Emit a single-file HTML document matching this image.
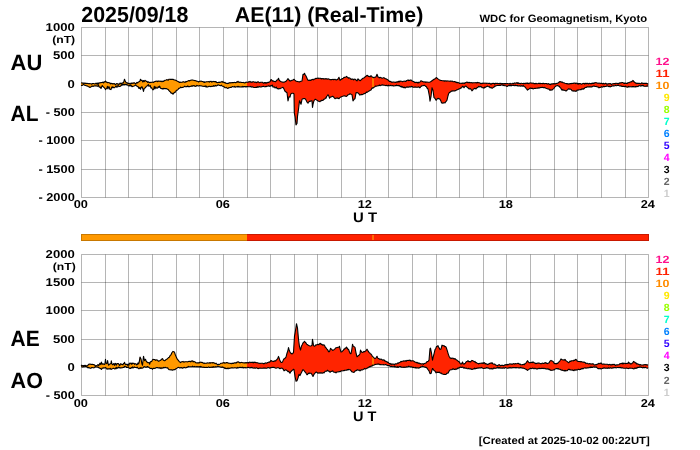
<!DOCTYPE html><html><head><meta charset="utf-8"><style>html,body{margin:0;padding:0;width:700px;height:450px;overflow:hidden;background:#fff}</style></head><body><svg width="700" height="450" viewBox="0 0 700 450" style="position:absolute;left:0;top:0;will-change:transform;text-rendering:geometricPrecision;font-family:'Liberation Sans', sans-serif;font-weight:bold"><rect width="700" height="450" fill="#fff"/><path d="M105.5 27.5V197.5M128.5 27.5V197.5M152.5 27.5V197.5M176.5 27.5V197.5M199.5 27.5V197.5M223.5 27.5V197.5M247.5 27.5V197.5M270.5 27.5V197.5M294.5 27.5V197.5M317.5 27.5V197.5M341.5 27.5V197.5M365.5 27.5V197.5M388.5 27.5V197.5M412.5 27.5V197.5M436.5 27.5V197.5M459.5 27.5V197.5M483.5 27.5V197.5M506.5 27.5V197.5M530.5 27.5V197.5M554.5 27.5V197.5M577.5 27.5V197.5M601.5 27.5V197.5M625.5 27.5V197.5" stroke="#000" stroke-opacity="0.29" stroke-width="1" fill="none"/><path d="M81.5 55.5H648.5M81.5 84.5H648.5M81.5 112.5H648.5M81.5 140.5H648.5M81.5 169.5H648.5" stroke="#000" stroke-opacity="0.29" stroke-width="1" fill="none"/><path d="M81.5 27.5V197.5M648.5 27.5V197.5" stroke="#000" stroke-opacity="0.29" stroke-width="1" fill="none"/><path d="M81.5 27.5H648.5M81.5 197.5H648.5" stroke="#000" stroke-opacity="0.29" stroke-width="1" fill="none"/><path d="M105.5 254.5V395.5M128.5 254.5V395.5M152.5 254.5V395.5M176.5 254.5V395.5M199.5 254.5V395.5M223.5 254.5V395.5M247.5 254.5V395.5M270.5 254.5V395.5M294.5 254.5V395.5M317.5 254.5V395.5M341.5 254.5V395.5M365.5 254.5V395.5M388.5 254.5V395.5M412.5 254.5V395.5M436.5 254.5V395.5M459.5 254.5V395.5M483.5 254.5V395.5M506.5 254.5V395.5M530.5 254.5V395.5M554.5 254.5V395.5M577.5 254.5V395.5M601.5 254.5V395.5M625.5 254.5V395.5" stroke="#000" stroke-opacity="0.29" stroke-width="1" fill="none"/><path d="M81.5 282.5H648.5M81.5 310.5H648.5M81.5 339.5H648.5M81.5 367.5H648.5" stroke="#000" stroke-opacity="0.29" stroke-width="1" fill="none"/><path d="M81.5 254.5V395.5M648.5 254.5V395.5" stroke="#000" stroke-opacity="0.29" stroke-width="1" fill="none"/><path d="M81.5 254.5H648.5M81.5 395.5H648.5" stroke="#000" stroke-opacity="0.29" stroke-width="1" fill="none"/><clipPath id="ot"><rect x="0" y="0" width="247" height="450"/><rect x="372.3" y="0" width="1.4" height="450"/></clipPath><path d="M81.0,82.8 81.7,83.0 82.3,82.9 83.0,83.4 83.7,83.0 84.3,83.4 85.0,83.1 85.6,83.4 86.2,83.3 86.8,83.6 87.4,83.4 88.0,83.5 88.7,83.8 89.3,83.6 90.0,83.7 90.6,83.7 91.2,83.8 91.8,84.2 92.4,83.6 93.0,83.5 93.6,83.5 94.2,83.7 94.8,84.0 95.4,83.8 96.0,83.1 96.6,83.4 97.2,84.4 97.8,82.9 98.4,84.1 99.0,82.8 99.7,83.0 100.3,82.7 101.0,82.6 101.7,82.5 102.3,82.5 103.0,82.1 103.6,82.9 104.2,81.7 104.9,81.9 105.5,81.0 106.1,82.1 106.8,82.0 107.4,82.7 108.0,82.4 108.6,82.6 109.2,82.7 109.8,83.0 110.4,83.8 111.0,83.1 111.6,83.6 112.2,83.5 112.8,84.0 113.4,83.9 114.0,83.5 114.6,83.7 115.2,84.6 115.8,84.4 116.4,83.7 117.0,83.5 117.6,84.1 118.2,83.9 118.8,84.5 119.4,84.1 120.0,83.1 120.6,83.3 121.2,84.3 121.8,83.0 122.4,83.2 123.0,82.8 123.8,82.0 124.5,79.2 125.2,80.9 126.0,82.4 126.6,82.9 127.2,82.7 127.8,83.5 128.4,83.8 129.0,83.1 129.6,83.6 130.2,84.2 130.8,83.2 131.4,83.7 132.0,82.8 132.7,83.4 133.3,83.3 134.0,82.6 134.6,83.0 135.2,83.7 135.8,83.9 136.4,82.9 137.0,82.4 137.7,83.0 138.3,82.0 139.0,81.7 139.8,81.3 140.5,79.2 141.2,80.5 142.0,80.3 142.8,81.9 143.5,80.6 144.2,81.6 145.0,80.3 145.7,80.9 146.3,81.4 147.0,81.4 147.7,82.5 148.3,81.9 149.0,82.1 149.7,82.7 150.3,82.4 151.0,82.4 151.7,82.3 152.3,82.2 153.0,82.1 153.7,82.4 154.3,81.7 155.0,81.4 155.7,81.4 156.3,81.3 157.0,81.0 157.7,81.7 158.3,81.1 159.0,81.1 159.7,81.3 160.3,81.4 161.0,81.0 161.7,81.7 162.3,81.6 163.0,81.0 163.7,81.4 164.3,80.7 165.0,80.3 165.7,80.3 166.3,80.0 167.0,79.6 167.7,80.1 168.3,80.1 169.0,79.2 169.7,79.3 170.3,79.4 171.0,79.4 171.7,79.4 172.3,79.4 173.0,79.2 173.7,79.7 174.3,80.0 175.0,79.9 175.7,80.4 176.3,80.6 177.0,81.0 177.6,81.4 178.2,81.6 178.8,81.9 179.4,82.5 180.0,82.0 180.6,82.4 181.2,82.2 181.8,82.2 182.4,82.2 183.0,81.7 183.6,81.7 184.2,82.3 184.8,82.1 185.4,82.1 186.0,81.4 186.6,81.8 187.2,81.3 187.8,81.1 188.4,80.8 189.0,80.6 189.6,80.9 190.2,80.3 190.8,80.2 191.4,80.1 192.0,79.9 192.6,80.1 193.2,80.3 193.8,80.3 194.4,80.5 195.0,80.6 195.6,80.8 196.2,80.9 196.8,81.3 197.4,81.2 198.0,81.4 198.6,82.0 199.2,81.6 199.8,81.2 200.4,81.2 201.0,81.0 201.6,81.3 202.2,81.5 202.8,81.5 203.4,82.2 204.0,81.7 204.6,82.5 205.2,82.0 205.8,82.0 206.4,81.7 207.0,81.7 207.6,81.7 208.2,81.7 208.8,81.6 209.4,82.1 210.0,81.4 210.6,81.5 211.2,81.4 211.8,82.1 212.4,81.7 213.0,81.4 213.6,81.5 214.2,81.8 214.8,81.5 215.4,81.9 216.0,81.6 216.6,82.5 217.2,82.6 217.8,82.5 218.4,82.3 219.0,82.4 219.6,82.4 220.2,82.1 220.8,82.3 221.4,81.9 222.0,81.4 222.6,82.2 223.2,82.0 223.8,82.1 224.4,82.8 225.0,82.4 225.6,83.3 226.2,83.3 226.8,83.4 227.4,83.6 228.0,83.1 228.7,83.4 229.3,82.9 230.0,82.6 230.7,82.9 231.3,82.7 232.0,82.6 232.7,82.5 233.3,82.6 234.0,82.5 234.7,82.4 235.3,82.6 236.0,82.6 236.7,81.9 237.3,82.2 238.0,81.3 238.7,82.3 239.3,82.4 240.0,82.1 240.7,82.2 241.3,82.4 242.0,82.5 242.7,82.5 243.3,82.4 244.0,82.7 244.7,82.9 245.3,82.8 246.0,82.1 246.7,82.2 247.3,82.3 248.0,82.3 248.7,81.7 249.3,81.9 250.0,81.4 250.7,82.2 251.3,82.1 252.0,82.1 252.7,81.9 253.3,81.8 254.0,81.8 254.7,82.4 255.3,82.0 256.0,82.4 256.7,82.6 257.3,82.0 258.0,81.8 258.7,82.1 259.3,82.7 260.0,82.5 260.7,82.2 261.3,82.3 262.0,82.3 262.7,82.4 263.3,83.1 264.0,83.0 264.7,82.5 265.3,83.1 266.0,82.5 266.7,83.2 267.3,82.7 268.0,82.3 268.7,82.4 269.3,82.0 270.0,81.8 271.0,79.6 271.7,80.0 272.3,81.1 273.0,80.7 273.7,81.4 274.3,81.5 275.0,81.4 275.7,81.7 276.3,80.7 277.0,80.0 277.8,79.8 278.5,78.2 279.2,80.2 280.0,81.0 280.7,81.4 281.3,81.8 282.0,82.0 283.0,82.1 284.0,82.3 285.0,81.8 286.0,81.3 287.0,80.0 288.0,78.7 289.0,80.0 290.0,81.0 290.7,80.9 291.3,80.6 292.0,80.3 292.7,80.3 293.3,79.7 294.0,79.3 294.3,79.5 295.1,80.5 296.0,81.0 297.0,81.4 297.5,81.5 298.5,81.8 299.5,81.9 300.2,81.6 301.0,81.3 302.0,81.0 303.0,74.3 303.8,74.5 304.5,73.3 305.2,74.8 306.0,76.0 307.0,78.3 308.0,80.3 308.7,80.4 309.3,80.5 310.0,80.0 310.7,80.5 311.3,79.9 312.0,79.5 312.5,79.4 313.2,79.9 314.0,79.0 314.7,79.1 315.3,78.8 316.0,78.3 316.7,78.5 317.3,78.2 318.0,78.1 318.7,78.4 319.3,78.3 320.0,78.3 320.6,78.3 321.2,79.0 321.8,78.5 322.4,78.7 323.0,78.5 323.6,79.0 324.2,78.9 324.8,78.7 325.4,78.9 326.0,78.6 326.7,79.0 327.3,79.2 328.0,78.7 328.8,79.0 329.5,79.2 330.2,79.7 331.0,79.6 331.7,79.6 332.3,79.5 333.0,79.3 333.7,79.8 334.3,79.6 335.0,79.3 335.7,79.7 336.3,80.0 337.0,79.6 337.7,79.5 338.3,78.3 339.0,77.3 340.0,80.4 341.0,79.5 342.0,78.7 342.7,78.6 343.3,78.1 344.0,77.3 344.6,77.4 345.2,77.3 345.9,76.9 346.5,76.4 347.1,77.1 347.8,77.4 348.4,78.2 349.0,77.8 350.0,78.2 350.7,79.0 351.3,79.5 352.0,79.1 353.0,79.1 353.7,79.8 354.3,79.2 355.0,79.1 356.0,80.0 357.0,80.9 358.0,78.7 358.8,79.8 359.5,80.3 360.1,80.7 360.8,80.3 361.4,79.4 362.0,79.0 363.0,78.3 363.7,77.9 364.3,77.7 365.0,77.0 365.7,76.4 366.3,76.0 367.0,75.3 367.7,75.6 368.3,76.4 369.0,76.3 369.7,76.7 370.3,76.6 371.0,75.7 371.7,76.3 372.3,77.3 373.0,77.3 373.7,77.7 374.3,77.3 375.0,77.3 375.7,77.0 376.3,76.1 377.0,74.3 378.0,77.0 378.7,77.2 379.3,77.9 380.0,77.3 380.7,77.6 381.3,77.7 382.0,78.3 382.7,78.2 383.3,77.7 384.0,77.7 384.7,78.3 385.3,78.7 386.0,78.7 386.7,79.3 387.3,79.6 388.0,80.0 388.7,80.6 389.3,81.4 390.0,81.3 390.7,81.5 391.3,82.1 392.0,82.0 392.7,82.2 393.3,82.0 394.0,82.0 394.7,82.2 395.3,82.4 396.0,82.0 396.6,82.1 397.2,81.6 397.8,82.2 398.4,81.8 399.0,81.0 399.6,81.8 400.2,81.1 400.8,81.3 401.4,81.2 402.0,81.3 402.6,81.8 403.2,81.3 403.8,81.2 404.4,81.3 405.0,81.0 405.6,81.5 406.2,81.2 406.8,80.4 407.4,80.2 408.0,79.9 408.6,80.6 409.2,80.3 409.8,80.4 410.4,80.0 411.0,80.0 411.6,80.4 412.2,81.1 412.8,81.2 413.4,81.4 414.0,81.7 414.6,82.5 415.2,82.3 415.8,82.6 416.4,82.2 417.0,82.3 417.6,82.9 418.2,82.2 418.8,82.8 419.4,82.3 420.0,82.0 421.0,80.7 422.0,81.2 423.0,81.7 423.7,81.9 424.3,82.0 425.0,81.7 425.7,82.5 426.3,82.0 427.0,82.0 428.0,82.2 428.8,82.2 429.5,82.2 430.0,82.0 431.0,81.5 432.0,80.7 433.0,80.0 434.0,79.3 434.7,79.1 435.3,78.4 436.0,77.8 436.5,77.6 437.2,78.3 438.0,78.9 438.7,79.4 439.3,79.8 440.0,80.2 440.8,80.4 441.5,80.5 442.2,80.7 443.0,80.7 443.7,80.8 444.3,81.2 445.0,80.7 445.7,80.9 446.3,81.1 447.0,80.9 447.8,81.0 448.5,81.0 449.2,81.2 450.0,81.1 450.7,81.1 451.3,81.2 452.0,81.1 452.6,81.2 453.2,81.8 453.8,81.7 454.4,81.6 455.0,81.6 455.6,82.0 456.2,82.6 456.8,82.1 457.4,82.8 458.0,82.4 458.6,82.8 459.2,83.0 459.8,83.5 460.4,83.3 461.0,83.3 461.8,83.4 462.5,83.0 463.2,83.4 464.0,82.9 464.7,83.5 465.3,82.7 466.0,82.4 467.0,82.0 467.7,82.7 468.3,82.7 469.0,82.3 469.7,82.8 470.3,82.7 471.0,82.6 472.0,82.7 472.7,82.9 473.3,82.8 474.0,82.8 474.7,82.8 475.3,82.7 476.0,82.6 476.7,83.0 477.3,82.6 478.0,82.4 478.7,82.7 479.3,82.8 480.0,83.0 480.7,83.7 481.3,83.7 482.0,83.1 482.7,83.5 483.3,83.2 484.0,83.1 484.7,83.2 485.3,83.2 486.0,83.1 486.7,83.4 487.3,83.2 488.0,83.2 488.7,83.5 489.3,83.4 490.0,83.3 490.7,84.1 491.3,84.1 492.0,83.3 492.7,83.6 493.3,83.4 494.0,83.3 494.7,84.1 495.3,83.4 496.0,83.3 496.7,83.5 497.3,83.3 498.0,83.5 498.7,83.6 499.3,83.6 500.0,83.3 500.6,83.4 501.2,83.7 501.9,83.4 502.5,83.6 503.1,83.5 503.8,83.7 504.4,83.6 505.0,83.6 505.7,83.6 506.3,83.7 507.0,83.5 507.6,83.5 508.2,83.8 508.8,83.7 509.4,83.9 510.0,83.3 510.6,83.7 511.2,83.7 511.9,83.8 512.5,83.3 513.1,83.2 513.8,83.8 514.4,83.0 515.0,82.9 515.6,83.3 516.2,83.2 516.8,82.7 517.4,83.3 518.0,82.6 518.6,83.4 519.2,83.3 519.8,83.5 520.4,83.7 521.0,83.3 521.6,83.3 522.2,83.5 522.8,83.5 523.4,83.8 524.0,83.1 524.7,83.6 525.3,83.6 526.0,83.0 526.8,83.4 527.5,83.0 528.1,83.6 528.8,83.4 529.4,83.4 530.0,82.9 530.6,83.0 531.2,83.0 531.8,83.1 532.4,83.2 533.0,83.1 533.6,83.2 534.2,83.8 534.8,83.6 535.4,83.7 536.0,83.3 536.7,83.7 537.3,83.7 538.0,83.5 538.7,83.2 539.3,83.7 540.0,83.1 540.6,83.7 541.2,83.5 541.8,83.5 542.4,83.7 543.0,83.3 543.6,83.4 544.2,83.9 544.8,83.5 545.4,83.5 546.0,83.5 546.7,83.6 547.3,84.1 548.0,83.6 548.7,83.8 549.3,84.4 550.0,84.0 550.7,84.7 551.3,84.1 552.0,83.8 552.7,83.9 553.3,83.9 554.0,83.5 554.7,83.9 555.3,83.9 556.0,83.3 556.7,83.6 557.3,83.4 558.0,82.9 558.7,82.5 559.3,82.0 560.0,81.5 560.7,81.7 561.3,82.3 562.0,81.9 562.6,82.3 563.2,82.8 563.8,82.7 564.4,83.0 565.0,83.3 566.0,83.5 566.7,83.6 567.3,84.0 568.0,83.6 568.7,84.1 569.3,84.0 570.0,83.6 570.7,83.6 571.3,83.7 572.0,83.3 572.7,83.5 573.3,83.4 574.0,83.0 574.7,83.0 575.3,83.7 576.0,83.0 576.7,83.2 577.3,84.0 578.0,83.3 578.7,84.1 579.3,83.5 580.0,83.6 580.6,83.8 581.2,84.1 581.8,84.2 582.4,83.7 583.0,83.4 583.6,83.5 584.2,83.4 584.8,84.1 585.4,83.4 586.0,83.3 586.6,83.7 587.2,83.3 587.8,83.6 588.4,84.0 589.0,83.3 589.6,83.3 590.2,83.8 590.8,83.5 591.4,83.8 592.0,83.1 592.6,83.5 593.2,83.0 593.8,83.5 594.4,83.0 595.0,82.6 595.7,82.7 596.3,82.8 597.0,82.9 597.7,83.2 598.3,83.3 599.0,83.1 599.6,83.3 600.2,83.2 600.8,83.4 601.4,83.4 602.0,83.3 602.7,83.9 603.3,83.3 604.0,83.8 604.7,83.9 605.3,83.3 606.0,83.3 606.7,84.1 607.3,83.9 608.0,84.1 608.7,83.6 609.3,83.7 610.0,83.6 610.7,83.8 611.3,84.4 612.0,84.0 612.7,83.8 613.3,83.8 614.0,83.6 614.7,83.6 615.3,83.4 616.0,83.3 616.7,83.3 617.3,83.8 618.0,83.2 618.7,83.8 619.3,83.1 620.0,82.9 620.7,82.8 621.3,82.9 622.0,82.4 622.6,82.6 623.2,82.8 623.8,83.4 624.4,83.5 625.0,82.9 625.6,83.4 626.2,83.2 626.8,83.4 627.4,83.4 628.0,82.6 628.6,82.8 629.2,82.7 629.9,82.1 630.5,81.9 631.1,82.0 631.8,81.4 632.4,81.3 633.0,80.4 633.7,81.5 634.3,82.0 635.0,82.6 635.6,82.7 636.2,83.6 636.8,83.1 637.4,83.4 638.0,83.3 638.7,83.4 639.3,83.3 640.0,83.6 640.7,83.8 641.3,83.1 642.0,82.9 642.6,83.4 643.2,83.2 643.8,83.5 644.4,83.4 645.0,83.3 645.6,83.4 646.2,83.4 646.8,83.4 647.4,84.0 648.0,83.3 L648.0,86.5 647.4,85.9 646.8,85.8 646.2,86.4 645.6,86.3 645.0,86.3 644.4,86.2 643.8,86.2 643.2,85.4 642.6,85.4 642.0,86.0 641.3,85.5 640.7,86.2 640.0,85.6 639.3,85.8 638.7,85.9 638.0,86.6 637.4,86.5 636.8,86.4 636.2,86.9 635.6,86.5 635.0,87.1 634.3,86.6 633.7,86.6 633.0,87.0 632.4,86.5 631.8,86.9 631.1,86.8 630.5,86.8 629.9,86.9 629.2,86.8 628.6,86.4 628.0,87.2 627.4,87.1 626.8,87.0 626.2,86.9 625.6,86.1 625.0,86.7 624.4,86.6 623.8,86.2 623.2,86.5 622.6,86.4 622.0,86.5 621.3,86.0 620.7,85.7 620.0,86.1 619.3,85.8 618.7,85.4 618.0,85.5 617.3,85.3 616.7,85.6 616.0,85.8 615.3,85.1 614.7,85.6 614.0,86.1 613.3,85.8 612.7,86.0 612.0,85.8 611.3,86.5 610.7,86.6 610.0,86.9 609.3,86.2 608.7,86.6 608.0,86.2 607.3,85.9 606.7,86.1 606.0,86.5 605.3,86.5 604.7,86.6 604.0,86.8 603.3,86.3 602.7,87.0 602.0,87.2 601.4,86.6 600.8,87.1 600.2,87.5 599.6,87.5 599.0,87.9 598.3,87.0 597.7,87.0 597.0,86.9 596.3,86.4 595.7,86.5 595.0,86.5 594.4,86.1 593.8,86.0 593.2,86.3 592.6,86.3 592.0,86.9 591.4,86.7 590.8,86.9 590.2,86.8 589.6,86.9 589.0,86.9 588.4,87.0 587.8,86.9 587.2,86.8 586.6,87.2 586.0,87.6 585.4,87.4 584.8,87.7 584.2,88.7 583.6,88.6 583.0,89.4 582.4,88.9 581.8,88.8 581.2,89.6 580.6,89.5 580.0,89.7 579.3,89.7 578.7,89.9 578.0,90.1 577.3,90.0 576.7,90.6 576.0,91.5 575.3,91.1 574.7,90.9 574.0,91.1 573.3,90.9 572.7,90.9 572.0,90.8 571.3,89.5 570.7,89.3 570.0,89.0 569.3,89.1 568.7,88.7 568.0,89.4 567.3,90.0 566.7,90.4 566.0,91.1 565.0,90.6 564.4,90.3 563.8,90.1 563.2,90.3 562.6,89.5 562.0,90.1 561.3,89.2 560.7,87.9 560.0,87.6 559.3,86.3 558.7,86.2 558.0,85.8 557.3,85.5 556.7,85.8 556.0,86.1 555.3,86.5 554.7,87.2 554.0,88.3 553.3,88.9 552.7,89.4 552.0,90.1 551.3,90.0 550.7,89.7 550.0,90.4 549.3,89.3 548.7,89.1 548.0,89.0 547.3,88.7 546.7,88.5 546.0,88.3 545.4,88.1 544.8,87.3 544.2,87.8 543.6,87.5 543.0,87.6 542.4,87.3 541.8,87.6 541.2,87.4 540.6,87.5 540.0,87.9 539.3,87.9 538.7,87.9 538.0,88.1 537.3,88.0 536.7,88.2 536.0,88.3 535.4,88.4 534.8,88.2 534.2,88.6 533.6,88.8 533.0,89.0 532.4,88.2 531.8,88.4 531.2,88.4 530.6,88.1 530.0,88.3 529.4,88.7 528.8,89.2 528.1,89.6 527.5,90.1 526.8,89.1 526.0,88.3 525.3,87.3 524.7,86.7 524.0,86.5 523.4,85.6 522.8,85.9 522.2,86.2 521.6,85.6 521.0,86.1 520.4,86.1 519.8,85.6 519.2,86.0 518.6,85.9 518.0,86.1 517.4,85.5 516.8,85.8 516.2,85.6 515.6,85.1 515.0,85.8 514.4,85.7 513.8,85.2 513.1,85.6 512.5,85.4 511.9,85.0 511.2,85.8 510.6,85.1 510.0,85.8 509.4,85.6 508.8,85.7 508.2,85.6 507.6,86.2 507.0,86.5 506.3,85.9 505.7,85.7 505.0,85.8 504.4,85.7 503.8,85.1 503.1,85.6 502.5,84.9 501.9,85.1 501.2,84.8 500.6,85.4 500.0,85.4 499.3,85.4 498.7,85.5 498.0,85.5 497.3,85.4 496.7,85.6 496.0,85.8 495.3,86.2 494.7,86.0 494.0,87.2 493.3,87.3 492.7,87.9 492.0,88.3 491.3,87.5 490.7,87.7 490.0,87.6 489.3,86.6 488.7,86.8 488.0,86.5 487.3,86.1 486.7,86.6 486.0,86.9 485.3,87.4 484.7,87.1 484.0,88.3 483.3,87.5 482.7,87.8 482.0,87.6 481.3,86.7 480.7,86.4 480.0,86.9 479.3,86.7 478.7,86.3 478.0,87.2 477.3,87.7 476.7,87.8 476.0,89.0 475.3,88.5 474.7,88.2 474.0,89.0 473.3,89.0 472.7,90.2 472.0,90.8 471.0,89.4 470.3,88.5 469.7,88.9 469.0,89.0 468.3,88.1 467.7,87.8 467.0,87.2 466.0,86.0 465.3,86.3 464.7,86.7 464.0,87.8 463.2,86.6 462.5,86.4 461.8,87.3 461.0,88.2 460.4,88.1 459.8,88.8 459.2,88.7 458.6,89.1 458.0,89.6 457.4,89.8 456.8,89.9 456.2,90.3 455.6,90.6 455.0,90.9 454.4,90.7 453.8,91.0 453.2,90.9 452.6,90.7 452.0,91.3 451.3,91.1 450.7,91.8 450.0,92.2 449.2,92.8 448.5,94.0 447.8,96.7 447.0,100.2 446.3,101.1 445.7,101.8 445.0,102.9 444.3,102.8 443.7,102.7 443.0,103.3 442.2,102.9 441.5,102.9 440.8,100.7 440.0,99.3 439.3,98.8 438.7,98.6 438.0,98.4 437.2,98.8 436.5,100.0 436.0,100.2 435.3,99.0 434.7,98.1 434.0,97.6 433.0,90.4 432.0,87.8 431.0,96.7 430.0,101.1 429.5,96.7 428.8,92.8 428.0,89.0 427.0,88.0 426.3,86.6 425.7,86.5 425.0,85.7 424.3,85.2 423.7,85.4 423.0,85.7 422.0,85.7 421.0,86.5 420.0,87.7 419.4,87.6 418.8,86.9 418.2,87.0 417.6,87.3 417.0,87.3 416.4,87.3 415.8,87.1 415.2,87.0 414.6,87.1 414.0,87.3 413.4,87.2 412.8,87.1 412.2,86.5 411.6,86.4 411.0,87.0 410.4,86.9 409.8,87.0 409.2,86.6 408.6,87.2 408.0,87.3 407.4,86.8 406.8,87.2 406.2,87.0 405.6,87.7 405.0,88.0 404.4,87.1 403.8,87.7 403.2,87.3 402.6,86.7 402.0,87.3 401.4,86.3 400.8,86.7 400.2,86.4 399.6,85.5 399.0,86.0 398.4,85.4 397.8,85.6 397.2,85.8 396.6,85.0 396.0,85.7 395.3,85.5 394.7,85.8 394.0,86.0 393.3,85.9 392.7,85.6 392.0,85.8 391.3,85.6 390.7,85.3 390.0,85.7 389.3,85.8 388.7,85.2 388.0,86.0 387.3,85.5 386.7,85.4 386.0,85.6 385.3,85.5 384.7,85.3 384.0,85.3 383.3,85.1 382.7,84.8 382.0,85.3 381.3,85.0 380.7,85.4 380.0,85.7 379.3,85.0 378.7,85.7 378.0,85.7 377.0,86.0 376.3,86.2 375.7,86.0 375.0,86.7 374.3,87.1 373.7,87.5 373.0,88.1 372.3,87.9 371.7,88.7 371.0,90.0 370.3,90.2 369.7,90.6 369.0,91.2 368.3,91.3 367.7,91.9 367.0,92.4 366.3,92.0 365.7,93.0 365.0,93.5 364.3,93.6 363.7,93.8 363.0,94.3 362.0,94.7 361.4,94.3 360.8,94.8 360.1,94.9 359.5,95.0 358.8,93.6 358.0,93.0 357.0,92.6 356.0,92.9 355.0,98.7 354.3,99.1 353.7,100.0 353.0,100.9 352.0,94.7 351.3,94.4 350.7,94.1 350.0,93.8 349.0,94.5 348.4,94.7 347.8,94.9 347.1,95.9 346.5,96.4 345.9,96.2 345.2,96.1 344.6,95.7 344.0,96.0 343.3,96.0 342.7,96.3 342.0,96.5 341.0,96.9 340.0,97.5 339.0,98.7 338.3,98.5 337.7,97.9 337.0,98.2 336.3,98.0 335.7,98.4 335.0,98.7 334.3,97.9 333.7,97.1 333.0,96.4 332.3,96.4 331.7,96.7 331.0,96.9 330.2,97.2 329.5,98.2 328.8,96.1 328.0,94.7 327.3,95.8 326.7,96.3 326.0,98.2 325.4,98.1 324.8,99.0 324.2,99.3 323.6,99.3 323.0,100.4 322.4,100.5 321.8,100.2 321.2,100.9 320.6,100.8 320.0,101.8 319.3,101.5 318.7,101.2 318.0,101.0 317.3,100.4 316.7,100.1 316.0,99.6 315.3,99.3 314.7,99.7 314.0,100.7 313.2,103.5 312.5,107.5 312.0,100.7 311.3,100.7 310.7,101.1 310.0,101.4 309.3,101.2 308.7,102.2 308.0,103.2 307.0,102.1 306.0,100.0 305.2,98.7 304.5,98.6 303.8,98.6 303.0,98.8 302.0,99.3 301.0,104.3 300.2,102.2 299.5,100.7 298.5,109.2 297.5,116.4 297.0,123.5 296.0,124.9 295.1,117.0 294.3,113.0 294.0,94.0 293.3,93.3 292.7,93.2 292.0,93.3 291.3,93.7 290.7,94.2 290.0,97.1 289.0,96.7 288.0,101.0 287.0,92.7 286.0,92.0 285.0,91.3 284.0,89.0 283.0,87.3 282.0,87.8 281.3,88.0 280.7,88.2 280.0,88.8 279.2,88.6 278.5,88.9 277.8,88.6 277.0,88.6 276.3,87.1 275.7,87.7 275.0,87.9 274.3,86.8 273.7,87.0 273.0,87.1 272.3,85.0 271.7,85.9 271.0,85.4 270.0,86.4 269.3,86.0 268.7,85.9 268.0,86.1 267.3,86.2 266.7,86.3 266.0,86.8 265.3,86.6 264.7,86.7 264.0,86.6 263.3,86.3 262.7,86.5 262.0,86.8 261.3,86.9 260.7,87.0 260.0,87.0 259.3,86.5 258.7,86.7 258.0,87.5 257.3,86.7 256.7,87.4 256.0,87.2 255.3,87.5 254.7,87.5 254.0,87.5 253.3,87.3 252.7,86.7 252.0,87.1 251.3,87.0 250.7,86.4 250.0,86.8 249.3,86.7 248.7,86.8 248.0,86.8 247.3,86.6 246.7,86.5 246.0,87.1 245.3,86.5 244.7,86.6 244.0,86.5 243.3,87.0 242.7,86.4 242.0,87.1 241.3,86.8 240.7,86.9 240.0,87.0 239.3,86.9 238.7,86.4 238.0,87.1 237.3,86.4 236.7,86.8 236.0,87.0 235.3,87.1 234.7,86.4 234.0,87.1 233.3,86.8 232.7,86.5 232.0,86.8 231.3,87.4 230.7,87.3 230.0,87.5 229.3,87.7 228.7,87.7 228.0,88.5 227.4,88.3 226.8,87.8 226.2,87.3 225.6,87.8 225.0,87.8 224.4,87.3 223.8,86.4 223.2,86.2 222.6,86.3 222.0,86.0 221.4,85.2 220.8,85.7 220.2,85.6 219.6,85.4 219.0,85.3 218.4,84.9 217.8,85.0 217.2,85.5 216.6,85.9 216.0,86.0 215.4,85.4 214.8,86.0 214.2,86.2 213.6,85.6 213.0,86.4 212.4,86.3 211.8,86.3 211.2,86.6 210.6,86.4 210.0,86.7 209.4,86.2 208.8,86.3 208.2,86.8 207.6,86.9 207.0,87.1 206.4,86.2 205.8,86.8 205.2,85.9 204.6,86.4 204.0,86.4 203.4,86.2 202.8,86.2 202.2,86.1 201.6,85.9 201.0,86.0 200.4,85.8 199.8,85.8 199.2,85.6 198.6,86.0 198.0,86.0 197.4,85.6 196.8,85.4 196.2,86.2 195.6,86.2 195.0,86.4 194.4,85.7 193.8,85.6 193.2,85.9 192.6,85.7 192.0,86.4 191.4,85.8 190.8,86.3 190.2,86.5 189.6,86.6 189.0,86.6 188.4,86.6 187.8,85.9 187.2,86.6 186.6,86.5 186.0,86.7 185.4,86.8 184.8,86.2 184.2,86.7 183.6,87.0 183.0,87.4 182.4,87.4 181.8,87.6 181.2,87.5 180.6,87.1 180.0,88.0 179.4,88.3 178.8,88.4 178.2,89.3 177.6,89.8 177.0,90.3 176.3,90.4 175.7,91.6 175.0,92.4 174.3,92.2 173.7,93.5 173.0,94.2 172.3,93.5 171.7,93.0 171.0,93.1 170.3,91.7 169.7,91.4 169.0,90.6 168.3,89.6 167.7,89.2 167.0,88.9 166.3,88.6 165.7,88.6 165.0,88.5 164.3,88.6 163.7,88.3 163.0,89.2 162.3,88.5 161.7,88.6 161.0,88.5 160.3,87.9 159.7,86.1 159.0,87.4 158.3,86.6 157.7,87.9 157.0,88.1 156.3,87.9 155.7,86.9 155.0,88.9 154.3,86.4 153.7,89.2 153.0,89.9 152.3,89.0 151.7,87.8 151.0,88.1 150.3,85.6 149.7,85.9 149.0,86.4 148.3,84.4 147.7,85.5 147.0,86.0 146.3,86.3 145.7,87.4 145.0,88.1 144.2,88.4 143.5,91.4 142.8,88.7 142.0,86.7 141.2,87.2 140.5,89.2 139.8,87.5 139.0,88.5 138.3,86.7 137.7,86.8 137.0,86.0 136.4,85.9 135.8,85.1 135.2,85.2 134.6,85.8 134.0,86.0 133.3,86.2 132.7,86.2 132.0,86.7 131.4,85.7 130.8,85.0 130.2,86.1 129.6,85.2 129.0,86.0 128.4,85.8 127.8,85.1 127.2,85.0 126.6,84.4 126.0,85.0 125.2,84.0 124.5,85.0 123.8,84.0 123.0,85.3 122.4,84.4 121.8,85.0 121.2,85.5 120.6,86.1 120.0,86.4 119.4,86.5 118.8,86.6 118.2,85.4 117.6,85.9 117.0,87.4 116.4,86.1 115.8,85.9 115.2,87.2 114.6,87.7 114.0,87.8 113.4,87.2 112.8,87.8 112.2,86.7 111.6,87.6 111.0,89.6 110.4,89.4 109.8,89.3 109.2,86.8 108.6,86.8 108.0,88.9 107.4,86.3 106.8,88.4 106.1,88.7 105.5,89.6 104.9,88.5 104.2,87.7 103.6,87.2 103.0,86.7 102.3,85.5 101.7,86.7 101.0,88.5 100.3,87.1 99.7,87.2 99.0,86.7 98.4,85.0 97.8,86.2 97.2,86.3 96.6,85.9 96.0,86.0 95.4,85.8 94.8,85.9 94.2,86.0 93.6,86.1 93.0,86.4 92.4,86.1 91.8,86.1 91.2,86.7 90.6,87.1 90.0,87.4 89.3,87.0 88.7,86.7 88.0,86.4 87.4,86.0 86.8,85.9 86.2,85.7 85.6,85.5 85.0,85.3 84.3,85.1 83.7,84.6 83.0,84.8 82.3,85.4 81.7,85.3 81.0,85.6Z" fill="#ff2400"/><path d="M81.0,82.8 81.7,83.0 82.3,82.9 83.0,83.4 83.7,83.0 84.3,83.4 85.0,83.1 85.6,83.4 86.2,83.3 86.8,83.6 87.4,83.4 88.0,83.5 88.7,83.8 89.3,83.6 90.0,83.7 90.6,83.7 91.2,83.8 91.8,84.2 92.4,83.6 93.0,83.5 93.6,83.5 94.2,83.7 94.8,84.0 95.4,83.8 96.0,83.1 96.6,83.4 97.2,84.4 97.8,82.9 98.4,84.1 99.0,82.8 99.7,83.0 100.3,82.7 101.0,82.6 101.7,82.5 102.3,82.5 103.0,82.1 103.6,82.9 104.2,81.7 104.9,81.9 105.5,81.0 106.1,82.1 106.8,82.0 107.4,82.7 108.0,82.4 108.6,82.6 109.2,82.7 109.8,83.0 110.4,83.8 111.0,83.1 111.6,83.6 112.2,83.5 112.8,84.0 113.4,83.9 114.0,83.5 114.6,83.7 115.2,84.6 115.8,84.4 116.4,83.7 117.0,83.5 117.6,84.1 118.2,83.9 118.8,84.5 119.4,84.1 120.0,83.1 120.6,83.3 121.2,84.3 121.8,83.0 122.4,83.2 123.0,82.8 123.8,82.0 124.5,79.2 125.2,80.9 126.0,82.4 126.6,82.9 127.2,82.7 127.8,83.5 128.4,83.8 129.0,83.1 129.6,83.6 130.2,84.2 130.8,83.2 131.4,83.7 132.0,82.8 132.7,83.4 133.3,83.3 134.0,82.6 134.6,83.0 135.2,83.7 135.8,83.9 136.4,82.9 137.0,82.4 137.7,83.0 138.3,82.0 139.0,81.7 139.8,81.3 140.5,79.2 141.2,80.5 142.0,80.3 142.8,81.9 143.5,80.6 144.2,81.6 145.0,80.3 145.7,80.9 146.3,81.4 147.0,81.4 147.7,82.5 148.3,81.9 149.0,82.1 149.7,82.7 150.3,82.4 151.0,82.4 151.7,82.3 152.3,82.2 153.0,82.1 153.7,82.4 154.3,81.7 155.0,81.4 155.7,81.4 156.3,81.3 157.0,81.0 157.7,81.7 158.3,81.1 159.0,81.1 159.7,81.3 160.3,81.4 161.0,81.0 161.7,81.7 162.3,81.6 163.0,81.0 163.7,81.4 164.3,80.7 165.0,80.3 165.7,80.3 166.3,80.0 167.0,79.6 167.7,80.1 168.3,80.1 169.0,79.2 169.7,79.3 170.3,79.4 171.0,79.4 171.7,79.4 172.3,79.4 173.0,79.2 173.7,79.7 174.3,80.0 175.0,79.9 175.7,80.4 176.3,80.6 177.0,81.0 177.6,81.4 178.2,81.6 178.8,81.9 179.4,82.5 180.0,82.0 180.6,82.4 181.2,82.2 181.8,82.2 182.4,82.2 183.0,81.7 183.6,81.7 184.2,82.3 184.8,82.1 185.4,82.1 186.0,81.4 186.6,81.8 187.2,81.3 187.8,81.1 188.4,80.8 189.0,80.6 189.6,80.9 190.2,80.3 190.8,80.2 191.4,80.1 192.0,79.9 192.6,80.1 193.2,80.3 193.8,80.3 194.4,80.5 195.0,80.6 195.6,80.8 196.2,80.9 196.8,81.3 197.4,81.2 198.0,81.4 198.6,82.0 199.2,81.6 199.8,81.2 200.4,81.2 201.0,81.0 201.6,81.3 202.2,81.5 202.8,81.5 203.4,82.2 204.0,81.7 204.6,82.5 205.2,82.0 205.8,82.0 206.4,81.7 207.0,81.7 207.6,81.7 208.2,81.7 208.8,81.6 209.4,82.1 210.0,81.4 210.6,81.5 211.2,81.4 211.8,82.1 212.4,81.7 213.0,81.4 213.6,81.5 214.2,81.8 214.8,81.5 215.4,81.9 216.0,81.6 216.6,82.5 217.2,82.6 217.8,82.5 218.4,82.3 219.0,82.4 219.6,82.4 220.2,82.1 220.8,82.3 221.4,81.9 222.0,81.4 222.6,82.2 223.2,82.0 223.8,82.1 224.4,82.8 225.0,82.4 225.6,83.3 226.2,83.3 226.8,83.4 227.4,83.6 228.0,83.1 228.7,83.4 229.3,82.9 230.0,82.6 230.7,82.9 231.3,82.7 232.0,82.6 232.7,82.5 233.3,82.6 234.0,82.5 234.7,82.4 235.3,82.6 236.0,82.6 236.7,81.9 237.3,82.2 238.0,81.3 238.7,82.3 239.3,82.4 240.0,82.1 240.7,82.2 241.3,82.4 242.0,82.5 242.7,82.5 243.3,82.4 244.0,82.7 244.7,82.9 245.3,82.8 246.0,82.1 246.7,82.2 247.3,82.3 248.0,82.3 248.7,81.7 249.3,81.9 250.0,81.4 250.7,82.2 251.3,82.1 252.0,82.1 252.7,81.9 253.3,81.8 254.0,81.8 254.7,82.4 255.3,82.0 256.0,82.4 256.7,82.6 257.3,82.0 258.0,81.8 258.7,82.1 259.3,82.7 260.0,82.5 260.7,82.2 261.3,82.3 262.0,82.3 262.7,82.4 263.3,83.1 264.0,83.0 264.7,82.5 265.3,83.1 266.0,82.5 266.7,83.2 267.3,82.7 268.0,82.3 268.7,82.4 269.3,82.0 270.0,81.8 271.0,79.6 271.7,80.0 272.3,81.1 273.0,80.7 273.7,81.4 274.3,81.5 275.0,81.4 275.7,81.7 276.3,80.7 277.0,80.0 277.8,79.8 278.5,78.2 279.2,80.2 280.0,81.0 280.7,81.4 281.3,81.8 282.0,82.0 283.0,82.1 284.0,82.3 285.0,81.8 286.0,81.3 287.0,80.0 288.0,78.7 289.0,80.0 290.0,81.0 290.7,80.9 291.3,80.6 292.0,80.3 292.7,80.3 293.3,79.7 294.0,79.3 294.3,79.5 295.1,80.5 296.0,81.0 297.0,81.4 297.5,81.5 298.5,81.8 299.5,81.9 300.2,81.6 301.0,81.3 302.0,81.0 303.0,74.3 303.8,74.5 304.5,73.3 305.2,74.8 306.0,76.0 307.0,78.3 308.0,80.3 308.7,80.4 309.3,80.5 310.0,80.0 310.7,80.5 311.3,79.9 312.0,79.5 312.5,79.4 313.2,79.9 314.0,79.0 314.7,79.1 315.3,78.8 316.0,78.3 316.7,78.5 317.3,78.2 318.0,78.1 318.7,78.4 319.3,78.3 320.0,78.3 320.6,78.3 321.2,79.0 321.8,78.5 322.4,78.7 323.0,78.5 323.6,79.0 324.2,78.9 324.8,78.7 325.4,78.9 326.0,78.6 326.7,79.0 327.3,79.2 328.0,78.7 328.8,79.0 329.5,79.2 330.2,79.7 331.0,79.6 331.7,79.6 332.3,79.5 333.0,79.3 333.7,79.8 334.3,79.6 335.0,79.3 335.7,79.7 336.3,80.0 337.0,79.6 337.7,79.5 338.3,78.3 339.0,77.3 340.0,80.4 341.0,79.5 342.0,78.7 342.7,78.6 343.3,78.1 344.0,77.3 344.6,77.4 345.2,77.3 345.9,76.9 346.5,76.4 347.1,77.1 347.8,77.4 348.4,78.2 349.0,77.8 350.0,78.2 350.7,79.0 351.3,79.5 352.0,79.1 353.0,79.1 353.7,79.8 354.3,79.2 355.0,79.1 356.0,80.0 357.0,80.9 358.0,78.7 358.8,79.8 359.5,80.3 360.1,80.7 360.8,80.3 361.4,79.4 362.0,79.0 363.0,78.3 363.7,77.9 364.3,77.7 365.0,77.0 365.7,76.4 366.3,76.0 367.0,75.3 367.7,75.6 368.3,76.4 369.0,76.3 369.7,76.7 370.3,76.6 371.0,75.7 371.7,76.3 372.3,77.3 373.0,77.3 373.7,77.7 374.3,77.3 375.0,77.3 375.7,77.0 376.3,76.1 377.0,74.3 378.0,77.0 378.7,77.2 379.3,77.9 380.0,77.3 380.7,77.6 381.3,77.7 382.0,78.3 382.7,78.2 383.3,77.7 384.0,77.7 384.7,78.3 385.3,78.7 386.0,78.7 386.7,79.3 387.3,79.6 388.0,80.0 388.7,80.6 389.3,81.4 390.0,81.3 390.7,81.5 391.3,82.1 392.0,82.0 392.7,82.2 393.3,82.0 394.0,82.0 394.7,82.2 395.3,82.4 396.0,82.0 396.6,82.1 397.2,81.6 397.8,82.2 398.4,81.8 399.0,81.0 399.6,81.8 400.2,81.1 400.8,81.3 401.4,81.2 402.0,81.3 402.6,81.8 403.2,81.3 403.8,81.2 404.4,81.3 405.0,81.0 405.6,81.5 406.2,81.2 406.8,80.4 407.4,80.2 408.0,79.9 408.6,80.6 409.2,80.3 409.8,80.4 410.4,80.0 411.0,80.0 411.6,80.4 412.2,81.1 412.8,81.2 413.4,81.4 414.0,81.7 414.6,82.5 415.2,82.3 415.8,82.6 416.4,82.2 417.0,82.3 417.6,82.9 418.2,82.2 418.8,82.8 419.4,82.3 420.0,82.0 421.0,80.7 422.0,81.2 423.0,81.7 423.7,81.9 424.3,82.0 425.0,81.7 425.7,82.5 426.3,82.0 427.0,82.0 428.0,82.2 428.8,82.2 429.5,82.2 430.0,82.0 431.0,81.5 432.0,80.7 433.0,80.0 434.0,79.3 434.7,79.1 435.3,78.4 436.0,77.8 436.5,77.6 437.2,78.3 438.0,78.9 438.7,79.4 439.3,79.8 440.0,80.2 440.8,80.4 441.5,80.5 442.2,80.7 443.0,80.7 443.7,80.8 444.3,81.2 445.0,80.7 445.7,80.9 446.3,81.1 447.0,80.9 447.8,81.0 448.5,81.0 449.2,81.2 450.0,81.1 450.7,81.1 451.3,81.2 452.0,81.1 452.6,81.2 453.2,81.8 453.8,81.7 454.4,81.6 455.0,81.6 455.6,82.0 456.2,82.6 456.8,82.1 457.4,82.8 458.0,82.4 458.6,82.8 459.2,83.0 459.8,83.5 460.4,83.3 461.0,83.3 461.8,83.4 462.5,83.0 463.2,83.4 464.0,82.9 464.7,83.5 465.3,82.7 466.0,82.4 467.0,82.0 467.7,82.7 468.3,82.7 469.0,82.3 469.7,82.8 470.3,82.7 471.0,82.6 472.0,82.7 472.7,82.9 473.3,82.8 474.0,82.8 474.7,82.8 475.3,82.7 476.0,82.6 476.7,83.0 477.3,82.6 478.0,82.4 478.7,82.7 479.3,82.8 480.0,83.0 480.7,83.7 481.3,83.7 482.0,83.1 482.7,83.5 483.3,83.2 484.0,83.1 484.7,83.2 485.3,83.2 486.0,83.1 486.7,83.4 487.3,83.2 488.0,83.2 488.7,83.5 489.3,83.4 490.0,83.3 490.7,84.1 491.3,84.1 492.0,83.3 492.7,83.6 493.3,83.4 494.0,83.3 494.7,84.1 495.3,83.4 496.0,83.3 496.7,83.5 497.3,83.3 498.0,83.5 498.7,83.6 499.3,83.6 500.0,83.3 500.6,83.4 501.2,83.7 501.9,83.4 502.5,83.6 503.1,83.5 503.8,83.7 504.4,83.6 505.0,83.6 505.7,83.6 506.3,83.7 507.0,83.5 507.6,83.5 508.2,83.8 508.8,83.7 509.4,83.9 510.0,83.3 510.6,83.7 511.2,83.7 511.9,83.8 512.5,83.3 513.1,83.2 513.8,83.8 514.4,83.0 515.0,82.9 515.6,83.3 516.2,83.2 516.8,82.7 517.4,83.3 518.0,82.6 518.6,83.4 519.2,83.3 519.8,83.5 520.4,83.7 521.0,83.3 521.6,83.3 522.2,83.5 522.8,83.5 523.4,83.8 524.0,83.1 524.7,83.6 525.3,83.6 526.0,83.0 526.8,83.4 527.5,83.0 528.1,83.6 528.8,83.4 529.4,83.4 530.0,82.9 530.6,83.0 531.2,83.0 531.8,83.1 532.4,83.2 533.0,83.1 533.6,83.2 534.2,83.8 534.8,83.6 535.4,83.7 536.0,83.3 536.7,83.7 537.3,83.7 538.0,83.5 538.7,83.2 539.3,83.7 540.0,83.1 540.6,83.7 541.2,83.5 541.8,83.5 542.4,83.7 543.0,83.3 543.6,83.4 544.2,83.9 544.8,83.5 545.4,83.5 546.0,83.5 546.7,83.6 547.3,84.1 548.0,83.6 548.7,83.8 549.3,84.4 550.0,84.0 550.7,84.7 551.3,84.1 552.0,83.8 552.7,83.9 553.3,83.9 554.0,83.5 554.7,83.9 555.3,83.9 556.0,83.3 556.7,83.6 557.3,83.4 558.0,82.9 558.7,82.5 559.3,82.0 560.0,81.5 560.7,81.7 561.3,82.3 562.0,81.9 562.6,82.3 563.2,82.8 563.8,82.7 564.4,83.0 565.0,83.3 566.0,83.5 566.7,83.6 567.3,84.0 568.0,83.6 568.7,84.1 569.3,84.0 570.0,83.6 570.7,83.6 571.3,83.7 572.0,83.3 572.7,83.5 573.3,83.4 574.0,83.0 574.7,83.0 575.3,83.7 576.0,83.0 576.7,83.2 577.3,84.0 578.0,83.3 578.7,84.1 579.3,83.5 580.0,83.6 580.6,83.8 581.2,84.1 581.8,84.2 582.4,83.7 583.0,83.4 583.6,83.5 584.2,83.4 584.8,84.1 585.4,83.4 586.0,83.3 586.6,83.7 587.2,83.3 587.8,83.6 588.4,84.0 589.0,83.3 589.6,83.3 590.2,83.8 590.8,83.5 591.4,83.8 592.0,83.1 592.6,83.5 593.2,83.0 593.8,83.5 594.4,83.0 595.0,82.6 595.7,82.7 596.3,82.8 597.0,82.9 597.7,83.2 598.3,83.3 599.0,83.1 599.6,83.3 600.2,83.2 600.8,83.4 601.4,83.4 602.0,83.3 602.7,83.9 603.3,83.3 604.0,83.8 604.7,83.9 605.3,83.3 606.0,83.3 606.7,84.1 607.3,83.9 608.0,84.1 608.7,83.6 609.3,83.7 610.0,83.6 610.7,83.8 611.3,84.4 612.0,84.0 612.7,83.8 613.3,83.8 614.0,83.6 614.7,83.6 615.3,83.4 616.0,83.3 616.7,83.3 617.3,83.8 618.0,83.2 618.7,83.8 619.3,83.1 620.0,82.9 620.7,82.8 621.3,82.9 622.0,82.4 622.6,82.6 623.2,82.8 623.8,83.4 624.4,83.5 625.0,82.9 625.6,83.4 626.2,83.2 626.8,83.4 627.4,83.4 628.0,82.6 628.6,82.8 629.2,82.7 629.9,82.1 630.5,81.9 631.1,82.0 631.8,81.4 632.4,81.3 633.0,80.4 633.7,81.5 634.3,82.0 635.0,82.6 635.6,82.7 636.2,83.6 636.8,83.1 637.4,83.4 638.0,83.3 638.7,83.4 639.3,83.3 640.0,83.6 640.7,83.8 641.3,83.1 642.0,82.9 642.6,83.4 643.2,83.2 643.8,83.5 644.4,83.4 645.0,83.3 645.6,83.4 646.2,83.4 646.8,83.4 647.4,84.0 648.0,83.3 L648.0,86.5 647.4,85.9 646.8,85.8 646.2,86.4 645.6,86.3 645.0,86.3 644.4,86.2 643.8,86.2 643.2,85.4 642.6,85.4 642.0,86.0 641.3,85.5 640.7,86.2 640.0,85.6 639.3,85.8 638.7,85.9 638.0,86.6 637.4,86.5 636.8,86.4 636.2,86.9 635.6,86.5 635.0,87.1 634.3,86.6 633.7,86.6 633.0,87.0 632.4,86.5 631.8,86.9 631.1,86.8 630.5,86.8 629.9,86.9 629.2,86.8 628.6,86.4 628.0,87.2 627.4,87.1 626.8,87.0 626.2,86.9 625.6,86.1 625.0,86.7 624.4,86.6 623.8,86.2 623.2,86.5 622.6,86.4 622.0,86.5 621.3,86.0 620.7,85.7 620.0,86.1 619.3,85.8 618.7,85.4 618.0,85.5 617.3,85.3 616.7,85.6 616.0,85.8 615.3,85.1 614.7,85.6 614.0,86.1 613.3,85.8 612.7,86.0 612.0,85.8 611.3,86.5 610.7,86.6 610.0,86.9 609.3,86.2 608.7,86.6 608.0,86.2 607.3,85.9 606.7,86.1 606.0,86.5 605.3,86.5 604.7,86.6 604.0,86.8 603.3,86.3 602.7,87.0 602.0,87.2 601.4,86.6 600.8,87.1 600.2,87.5 599.6,87.5 599.0,87.9 598.3,87.0 597.7,87.0 597.0,86.9 596.3,86.4 595.7,86.5 595.0,86.5 594.4,86.1 593.8,86.0 593.2,86.3 592.6,86.3 592.0,86.9 591.4,86.7 590.8,86.9 590.2,86.8 589.6,86.9 589.0,86.9 588.4,87.0 587.8,86.9 587.2,86.8 586.6,87.2 586.0,87.6 585.4,87.4 584.8,87.7 584.2,88.7 583.6,88.6 583.0,89.4 582.4,88.9 581.8,88.8 581.2,89.6 580.6,89.5 580.0,89.7 579.3,89.7 578.7,89.9 578.0,90.1 577.3,90.0 576.7,90.6 576.0,91.5 575.3,91.1 574.7,90.9 574.0,91.1 573.3,90.9 572.7,90.9 572.0,90.8 571.3,89.5 570.7,89.3 570.0,89.0 569.3,89.1 568.7,88.7 568.0,89.4 567.3,90.0 566.7,90.4 566.0,91.1 565.0,90.6 564.4,90.3 563.8,90.1 563.2,90.3 562.6,89.5 562.0,90.1 561.3,89.2 560.7,87.9 560.0,87.6 559.3,86.3 558.7,86.2 558.0,85.8 557.3,85.5 556.7,85.8 556.0,86.1 555.3,86.5 554.7,87.2 554.0,88.3 553.3,88.9 552.7,89.4 552.0,90.1 551.3,90.0 550.7,89.7 550.0,90.4 549.3,89.3 548.7,89.1 548.0,89.0 547.3,88.7 546.7,88.5 546.0,88.3 545.4,88.1 544.8,87.3 544.2,87.8 543.6,87.5 543.0,87.6 542.4,87.3 541.8,87.6 541.2,87.4 540.6,87.5 540.0,87.9 539.3,87.9 538.7,87.9 538.0,88.1 537.3,88.0 536.7,88.2 536.0,88.3 535.4,88.4 534.8,88.2 534.2,88.6 533.6,88.8 533.0,89.0 532.4,88.2 531.8,88.4 531.2,88.4 530.6,88.1 530.0,88.3 529.4,88.7 528.8,89.2 528.1,89.6 527.5,90.1 526.8,89.1 526.0,88.3 525.3,87.3 524.7,86.7 524.0,86.5 523.4,85.6 522.8,85.9 522.2,86.2 521.6,85.6 521.0,86.1 520.4,86.1 519.8,85.6 519.2,86.0 518.6,85.9 518.0,86.1 517.4,85.5 516.8,85.8 516.2,85.6 515.6,85.1 515.0,85.8 514.4,85.7 513.8,85.2 513.1,85.6 512.5,85.4 511.9,85.0 511.2,85.8 510.6,85.1 510.0,85.8 509.4,85.6 508.8,85.7 508.2,85.6 507.6,86.2 507.0,86.5 506.3,85.9 505.7,85.7 505.0,85.8 504.4,85.7 503.8,85.1 503.1,85.6 502.5,84.9 501.9,85.1 501.2,84.8 500.6,85.4 500.0,85.4 499.3,85.4 498.7,85.5 498.0,85.5 497.3,85.4 496.7,85.6 496.0,85.8 495.3,86.2 494.7,86.0 494.0,87.2 493.3,87.3 492.7,87.9 492.0,88.3 491.3,87.5 490.7,87.7 490.0,87.6 489.3,86.6 488.7,86.8 488.0,86.5 487.3,86.1 486.7,86.6 486.0,86.9 485.3,87.4 484.7,87.1 484.0,88.3 483.3,87.5 482.7,87.8 482.0,87.6 481.3,86.7 480.7,86.4 480.0,86.9 479.3,86.7 478.7,86.3 478.0,87.2 477.3,87.7 476.7,87.8 476.0,89.0 475.3,88.5 474.7,88.2 474.0,89.0 473.3,89.0 472.7,90.2 472.0,90.8 471.0,89.4 470.3,88.5 469.7,88.9 469.0,89.0 468.3,88.1 467.7,87.8 467.0,87.2 466.0,86.0 465.3,86.3 464.7,86.7 464.0,87.8 463.2,86.6 462.5,86.4 461.8,87.3 461.0,88.2 460.4,88.1 459.8,88.8 459.2,88.7 458.6,89.1 458.0,89.6 457.4,89.8 456.8,89.9 456.2,90.3 455.6,90.6 455.0,90.9 454.4,90.7 453.8,91.0 453.2,90.9 452.6,90.7 452.0,91.3 451.3,91.1 450.7,91.8 450.0,92.2 449.2,92.8 448.5,94.0 447.8,96.7 447.0,100.2 446.3,101.1 445.7,101.8 445.0,102.9 444.3,102.8 443.7,102.7 443.0,103.3 442.2,102.9 441.5,102.9 440.8,100.7 440.0,99.3 439.3,98.8 438.7,98.6 438.0,98.4 437.2,98.8 436.5,100.0 436.0,100.2 435.3,99.0 434.7,98.1 434.0,97.6 433.0,90.4 432.0,87.8 431.0,96.7 430.0,101.1 429.5,96.7 428.8,92.8 428.0,89.0 427.0,88.0 426.3,86.6 425.7,86.5 425.0,85.7 424.3,85.2 423.7,85.4 423.0,85.7 422.0,85.7 421.0,86.5 420.0,87.7 419.4,87.6 418.8,86.9 418.2,87.0 417.6,87.3 417.0,87.3 416.4,87.3 415.8,87.1 415.2,87.0 414.6,87.1 414.0,87.3 413.4,87.2 412.8,87.1 412.2,86.5 411.6,86.4 411.0,87.0 410.4,86.9 409.8,87.0 409.2,86.6 408.6,87.2 408.0,87.3 407.4,86.8 406.8,87.2 406.2,87.0 405.6,87.7 405.0,88.0 404.4,87.1 403.8,87.7 403.2,87.3 402.6,86.7 402.0,87.3 401.4,86.3 400.8,86.7 400.2,86.4 399.6,85.5 399.0,86.0 398.4,85.4 397.8,85.6 397.2,85.8 396.6,85.0 396.0,85.7 395.3,85.5 394.7,85.8 394.0,86.0 393.3,85.9 392.7,85.6 392.0,85.8 391.3,85.6 390.7,85.3 390.0,85.7 389.3,85.8 388.7,85.2 388.0,86.0 387.3,85.5 386.7,85.4 386.0,85.6 385.3,85.5 384.7,85.3 384.0,85.3 383.3,85.1 382.7,84.8 382.0,85.3 381.3,85.0 380.7,85.4 380.0,85.7 379.3,85.0 378.7,85.7 378.0,85.7 377.0,86.0 376.3,86.2 375.7,86.0 375.0,86.7 374.3,87.1 373.7,87.5 373.0,88.1 372.3,87.9 371.7,88.7 371.0,90.0 370.3,90.2 369.7,90.6 369.0,91.2 368.3,91.3 367.7,91.9 367.0,92.4 366.3,92.0 365.7,93.0 365.0,93.5 364.3,93.6 363.7,93.8 363.0,94.3 362.0,94.7 361.4,94.3 360.8,94.8 360.1,94.9 359.5,95.0 358.8,93.6 358.0,93.0 357.0,92.6 356.0,92.9 355.0,98.7 354.3,99.1 353.7,100.0 353.0,100.9 352.0,94.7 351.3,94.4 350.7,94.1 350.0,93.8 349.0,94.5 348.4,94.7 347.8,94.9 347.1,95.9 346.5,96.4 345.9,96.2 345.2,96.1 344.6,95.7 344.0,96.0 343.3,96.0 342.7,96.3 342.0,96.5 341.0,96.9 340.0,97.5 339.0,98.7 338.3,98.5 337.7,97.9 337.0,98.2 336.3,98.0 335.7,98.4 335.0,98.7 334.3,97.9 333.7,97.1 333.0,96.4 332.3,96.4 331.7,96.7 331.0,96.9 330.2,97.2 329.5,98.2 328.8,96.1 328.0,94.7 327.3,95.8 326.7,96.3 326.0,98.2 325.4,98.1 324.8,99.0 324.2,99.3 323.6,99.3 323.0,100.4 322.4,100.5 321.8,100.2 321.2,100.9 320.6,100.8 320.0,101.8 319.3,101.5 318.7,101.2 318.0,101.0 317.3,100.4 316.7,100.1 316.0,99.6 315.3,99.3 314.7,99.7 314.0,100.7 313.2,103.5 312.5,107.5 312.0,100.7 311.3,100.7 310.7,101.1 310.0,101.4 309.3,101.2 308.7,102.2 308.0,103.2 307.0,102.1 306.0,100.0 305.2,98.7 304.5,98.6 303.8,98.6 303.0,98.8 302.0,99.3 301.0,104.3 300.2,102.2 299.5,100.7 298.5,109.2 297.5,116.4 297.0,123.5 296.0,124.9 295.1,117.0 294.3,113.0 294.0,94.0 293.3,93.3 292.7,93.2 292.0,93.3 291.3,93.7 290.7,94.2 290.0,97.1 289.0,96.7 288.0,101.0 287.0,92.7 286.0,92.0 285.0,91.3 284.0,89.0 283.0,87.3 282.0,87.8 281.3,88.0 280.7,88.2 280.0,88.8 279.2,88.6 278.5,88.9 277.8,88.6 277.0,88.6 276.3,87.1 275.7,87.7 275.0,87.9 274.3,86.8 273.7,87.0 273.0,87.1 272.3,85.0 271.7,85.9 271.0,85.4 270.0,86.4 269.3,86.0 268.7,85.9 268.0,86.1 267.3,86.2 266.7,86.3 266.0,86.8 265.3,86.6 264.7,86.7 264.0,86.6 263.3,86.3 262.7,86.5 262.0,86.8 261.3,86.9 260.7,87.0 260.0,87.0 259.3,86.5 258.7,86.7 258.0,87.5 257.3,86.7 256.7,87.4 256.0,87.2 255.3,87.5 254.7,87.5 254.0,87.5 253.3,87.3 252.7,86.7 252.0,87.1 251.3,87.0 250.7,86.4 250.0,86.8 249.3,86.7 248.7,86.8 248.0,86.8 247.3,86.6 246.7,86.5 246.0,87.1 245.3,86.5 244.7,86.6 244.0,86.5 243.3,87.0 242.7,86.4 242.0,87.1 241.3,86.8 240.7,86.9 240.0,87.0 239.3,86.9 238.7,86.4 238.0,87.1 237.3,86.4 236.7,86.8 236.0,87.0 235.3,87.1 234.7,86.4 234.0,87.1 233.3,86.8 232.7,86.5 232.0,86.8 231.3,87.4 230.7,87.3 230.0,87.5 229.3,87.7 228.7,87.7 228.0,88.5 227.4,88.3 226.8,87.8 226.2,87.3 225.6,87.8 225.0,87.8 224.4,87.3 223.8,86.4 223.2,86.2 222.6,86.3 222.0,86.0 221.4,85.2 220.8,85.7 220.2,85.6 219.6,85.4 219.0,85.3 218.4,84.9 217.8,85.0 217.2,85.5 216.6,85.9 216.0,86.0 215.4,85.4 214.8,86.0 214.2,86.2 213.6,85.6 213.0,86.4 212.4,86.3 211.8,86.3 211.2,86.6 210.6,86.4 210.0,86.7 209.4,86.2 208.8,86.3 208.2,86.8 207.6,86.9 207.0,87.1 206.4,86.2 205.8,86.8 205.2,85.9 204.6,86.4 204.0,86.4 203.4,86.2 202.8,86.2 202.2,86.1 201.6,85.9 201.0,86.0 200.4,85.8 199.8,85.8 199.2,85.6 198.6,86.0 198.0,86.0 197.4,85.6 196.8,85.4 196.2,86.2 195.6,86.2 195.0,86.4 194.4,85.7 193.8,85.6 193.2,85.9 192.6,85.7 192.0,86.4 191.4,85.8 190.8,86.3 190.2,86.5 189.6,86.6 189.0,86.6 188.4,86.6 187.8,85.9 187.2,86.6 186.6,86.5 186.0,86.7 185.4,86.8 184.8,86.2 184.2,86.7 183.6,87.0 183.0,87.4 182.4,87.4 181.8,87.6 181.2,87.5 180.6,87.1 180.0,88.0 179.4,88.3 178.8,88.4 178.2,89.3 177.6,89.8 177.0,90.3 176.3,90.4 175.7,91.6 175.0,92.4 174.3,92.2 173.7,93.5 173.0,94.2 172.3,93.5 171.7,93.0 171.0,93.1 170.3,91.7 169.7,91.4 169.0,90.6 168.3,89.6 167.7,89.2 167.0,88.9 166.3,88.6 165.7,88.6 165.0,88.5 164.3,88.6 163.7,88.3 163.0,89.2 162.3,88.5 161.7,88.6 161.0,88.5 160.3,87.9 159.7,86.1 159.0,87.4 158.3,86.6 157.7,87.9 157.0,88.1 156.3,87.9 155.7,86.9 155.0,88.9 154.3,86.4 153.7,89.2 153.0,89.9 152.3,89.0 151.7,87.8 151.0,88.1 150.3,85.6 149.7,85.9 149.0,86.4 148.3,84.4 147.7,85.5 147.0,86.0 146.3,86.3 145.7,87.4 145.0,88.1 144.2,88.4 143.5,91.4 142.8,88.7 142.0,86.7 141.2,87.2 140.5,89.2 139.8,87.5 139.0,88.5 138.3,86.7 137.7,86.8 137.0,86.0 136.4,85.9 135.8,85.1 135.2,85.2 134.6,85.8 134.0,86.0 133.3,86.2 132.7,86.2 132.0,86.7 131.4,85.7 130.8,85.0 130.2,86.1 129.6,85.2 129.0,86.0 128.4,85.8 127.8,85.1 127.2,85.0 126.6,84.4 126.0,85.0 125.2,84.0 124.5,85.0 123.8,84.0 123.0,85.3 122.4,84.4 121.8,85.0 121.2,85.5 120.6,86.1 120.0,86.4 119.4,86.5 118.8,86.6 118.2,85.4 117.6,85.9 117.0,87.4 116.4,86.1 115.8,85.9 115.2,87.2 114.6,87.7 114.0,87.8 113.4,87.2 112.8,87.8 112.2,86.7 111.6,87.6 111.0,89.6 110.4,89.4 109.8,89.3 109.2,86.8 108.6,86.8 108.0,88.9 107.4,86.3 106.8,88.4 106.1,88.7 105.5,89.6 104.9,88.5 104.2,87.7 103.6,87.2 103.0,86.7 102.3,85.5 101.7,86.7 101.0,88.5 100.3,87.1 99.7,87.2 99.0,86.7 98.4,85.0 97.8,86.2 97.2,86.3 96.6,85.9 96.0,86.0 95.4,85.8 94.8,85.9 94.2,86.0 93.6,86.1 93.0,86.4 92.4,86.1 91.8,86.1 91.2,86.7 90.6,87.1 90.0,87.4 89.3,87.0 88.7,86.7 88.0,86.4 87.4,86.0 86.8,85.9 86.2,85.7 85.6,85.5 85.0,85.3 84.3,85.1 83.7,84.6 83.0,84.8 82.3,85.4 81.7,85.3 81.0,85.6Z" fill="#ff9900" clip-path="url(#ot)"/><polyline points="81.0,82.8 81.7,83.0 82.3,82.9 83.0,83.4 83.7,83.0 84.3,83.4 85.0,83.1 85.6,83.4 86.2,83.3 86.8,83.6 87.4,83.4 88.0,83.5 88.7,83.8 89.3,83.6 90.0,83.7 90.6,83.7 91.2,83.8 91.8,84.2 92.4,83.6 93.0,83.5 93.6,83.5 94.2,83.7 94.8,84.0 95.4,83.8 96.0,83.1 96.6,83.4 97.2,84.4 97.8,82.9 98.4,84.1 99.0,82.8 99.7,83.0 100.3,82.7 101.0,82.6 101.7,82.5 102.3,82.5 103.0,82.1 103.6,82.9 104.2,81.7 104.9,81.9 105.5,81.0 106.1,82.1 106.8,82.0 107.4,82.7 108.0,82.4 108.6,82.6 109.2,82.7 109.8,83.0 110.4,83.8 111.0,83.1 111.6,83.6 112.2,83.5 112.8,84.0 113.4,83.9 114.0,83.5 114.6,83.7 115.2,84.6 115.8,84.4 116.4,83.7 117.0,83.5 117.6,84.1 118.2,83.9 118.8,84.5 119.4,84.1 120.0,83.1 120.6,83.3 121.2,84.3 121.8,83.0 122.4,83.2 123.0,82.8 123.8,82.0 124.5,79.2 125.2,80.9 126.0,82.4 126.6,82.9 127.2,82.7 127.8,83.5 128.4,83.8 129.0,83.1 129.6,83.6 130.2,84.2 130.8,83.2 131.4,83.7 132.0,82.8 132.7,83.4 133.3,83.3 134.0,82.6 134.6,83.0 135.2,83.7 135.8,83.9 136.4,82.9 137.0,82.4 137.7,83.0 138.3,82.0 139.0,81.7 139.8,81.3 140.5,79.2 141.2,80.5 142.0,80.3 142.8,81.9 143.5,80.6 144.2,81.6 145.0,80.3 145.7,80.9 146.3,81.4 147.0,81.4 147.7,82.5 148.3,81.9 149.0,82.1 149.7,82.7 150.3,82.4 151.0,82.4 151.7,82.3 152.3,82.2 153.0,82.1 153.7,82.4 154.3,81.7 155.0,81.4 155.7,81.4 156.3,81.3 157.0,81.0 157.7,81.7 158.3,81.1 159.0,81.1 159.7,81.3 160.3,81.4 161.0,81.0 161.7,81.7 162.3,81.6 163.0,81.0 163.7,81.4 164.3,80.7 165.0,80.3 165.7,80.3 166.3,80.0 167.0,79.6 167.7,80.1 168.3,80.1 169.0,79.2 169.7,79.3 170.3,79.4 171.0,79.4 171.7,79.4 172.3,79.4 173.0,79.2 173.7,79.7 174.3,80.0 175.0,79.9 175.7,80.4 176.3,80.6 177.0,81.0 177.6,81.4 178.2,81.6 178.8,81.9 179.4,82.5 180.0,82.0 180.6,82.4 181.2,82.2 181.8,82.2 182.4,82.2 183.0,81.7 183.6,81.7 184.2,82.3 184.8,82.1 185.4,82.1 186.0,81.4 186.6,81.8 187.2,81.3 187.8,81.1 188.4,80.8 189.0,80.6 189.6,80.9 190.2,80.3 190.8,80.2 191.4,80.1 192.0,79.9 192.6,80.1 193.2,80.3 193.8,80.3 194.4,80.5 195.0,80.6 195.6,80.8 196.2,80.9 196.8,81.3 197.4,81.2 198.0,81.4 198.6,82.0 199.2,81.6 199.8,81.2 200.4,81.2 201.0,81.0 201.6,81.3 202.2,81.5 202.8,81.5 203.4,82.2 204.0,81.7 204.6,82.5 205.2,82.0 205.8,82.0 206.4,81.7 207.0,81.7 207.6,81.7 208.2,81.7 208.8,81.6 209.4,82.1 210.0,81.4 210.6,81.5 211.2,81.4 211.8,82.1 212.4,81.7 213.0,81.4 213.6,81.5 214.2,81.8 214.8,81.5 215.4,81.9 216.0,81.6 216.6,82.5 217.2,82.6 217.8,82.5 218.4,82.3 219.0,82.4 219.6,82.4 220.2,82.1 220.8,82.3 221.4,81.9 222.0,81.4 222.6,82.2 223.2,82.0 223.8,82.1 224.4,82.8 225.0,82.4 225.6,83.3 226.2,83.3 226.8,83.4 227.4,83.6 228.0,83.1 228.7,83.4 229.3,82.9 230.0,82.6 230.7,82.9 231.3,82.7 232.0,82.6 232.7,82.5 233.3,82.6 234.0,82.5 234.7,82.4 235.3,82.6 236.0,82.6 236.7,81.9 237.3,82.2 238.0,81.3 238.7,82.3 239.3,82.4 240.0,82.1 240.7,82.2 241.3,82.4 242.0,82.5 242.7,82.5 243.3,82.4 244.0,82.7 244.7,82.9 245.3,82.8 246.0,82.1 246.7,82.2 247.3,82.3 248.0,82.3 248.7,81.7 249.3,81.9 250.0,81.4 250.7,82.2 251.3,82.1 252.0,82.1 252.7,81.9 253.3,81.8 254.0,81.8 254.7,82.4 255.3,82.0 256.0,82.4 256.7,82.6 257.3,82.0 258.0,81.8 258.7,82.1 259.3,82.7 260.0,82.5 260.7,82.2 261.3,82.3 262.0,82.3 262.7,82.4 263.3,83.1 264.0,83.0 264.7,82.5 265.3,83.1 266.0,82.5 266.7,83.2 267.3,82.7 268.0,82.3 268.7,82.4 269.3,82.0 270.0,81.8 271.0,79.6 271.7,80.0 272.3,81.1 273.0,80.7 273.7,81.4 274.3,81.5 275.0,81.4 275.7,81.7 276.3,80.7 277.0,80.0 277.8,79.8 278.5,78.2 279.2,80.2 280.0,81.0 280.7,81.4 281.3,81.8 282.0,82.0 283.0,82.1 284.0,82.3 285.0,81.8 286.0,81.3 287.0,80.0 288.0,78.7 289.0,80.0 290.0,81.0 290.7,80.9 291.3,80.6 292.0,80.3 292.7,80.3 293.3,79.7 294.0,79.3 294.3,79.5 295.1,80.5 296.0,81.0 297.0,81.4 297.5,81.5 298.5,81.8 299.5,81.9 300.2,81.6 301.0,81.3 302.0,81.0 303.0,74.3 303.8,74.5 304.5,73.3 305.2,74.8 306.0,76.0 307.0,78.3 308.0,80.3 308.7,80.4 309.3,80.5 310.0,80.0 310.7,80.5 311.3,79.9 312.0,79.5 312.5,79.4 313.2,79.9 314.0,79.0 314.7,79.1 315.3,78.8 316.0,78.3 316.7,78.5 317.3,78.2 318.0,78.1 318.7,78.4 319.3,78.3 320.0,78.3 320.6,78.3 321.2,79.0 321.8,78.5 322.4,78.7 323.0,78.5 323.6,79.0 324.2,78.9 324.8,78.7 325.4,78.9 326.0,78.6 326.7,79.0 327.3,79.2 328.0,78.7 328.8,79.0 329.5,79.2 330.2,79.7 331.0,79.6 331.7,79.6 332.3,79.5 333.0,79.3 333.7,79.8 334.3,79.6 335.0,79.3 335.7,79.7 336.3,80.0 337.0,79.6 337.7,79.5 338.3,78.3 339.0,77.3 340.0,80.4 341.0,79.5 342.0,78.7 342.7,78.6 343.3,78.1 344.0,77.3 344.6,77.4 345.2,77.3 345.9,76.9 346.5,76.4 347.1,77.1 347.8,77.4 348.4,78.2 349.0,77.8 350.0,78.2 350.7,79.0 351.3,79.5 352.0,79.1 353.0,79.1 353.7,79.8 354.3,79.2 355.0,79.1 356.0,80.0 357.0,80.9 358.0,78.7 358.8,79.8 359.5,80.3 360.1,80.7 360.8,80.3 361.4,79.4 362.0,79.0 363.0,78.3 363.7,77.9 364.3,77.7 365.0,77.0 365.7,76.4 366.3,76.0 367.0,75.3 367.7,75.6 368.3,76.4 369.0,76.3 369.7,76.7 370.3,76.6 371.0,75.7 371.7,76.3 372.3,77.3 373.0,77.3 373.7,77.7 374.3,77.3 375.0,77.3 375.7,77.0 376.3,76.1 377.0,74.3 378.0,77.0 378.7,77.2 379.3,77.9 380.0,77.3 380.7,77.6 381.3,77.7 382.0,78.3 382.7,78.2 383.3,77.7 384.0,77.7 384.7,78.3 385.3,78.7 386.0,78.7 386.7,79.3 387.3,79.6 388.0,80.0 388.7,80.6 389.3,81.4 390.0,81.3 390.7,81.5 391.3,82.1 392.0,82.0 392.7,82.2 393.3,82.0 394.0,82.0 394.7,82.2 395.3,82.4 396.0,82.0 396.6,82.1 397.2,81.6 397.8,82.2 398.4,81.8 399.0,81.0 399.6,81.8 400.2,81.1 400.8,81.3 401.4,81.2 402.0,81.3 402.6,81.8 403.2,81.3 403.8,81.2 404.4,81.3 405.0,81.0 405.6,81.5 406.2,81.2 406.8,80.4 407.4,80.2 408.0,79.9 408.6,80.6 409.2,80.3 409.8,80.4 410.4,80.0 411.0,80.0 411.6,80.4 412.2,81.1 412.8,81.2 413.4,81.4 414.0,81.7 414.6,82.5 415.2,82.3 415.8,82.6 416.4,82.2 417.0,82.3 417.6,82.9 418.2,82.2 418.8,82.8 419.4,82.3 420.0,82.0 421.0,80.7 422.0,81.2 423.0,81.7 423.7,81.9 424.3,82.0 425.0,81.7 425.7,82.5 426.3,82.0 427.0,82.0 428.0,82.2 428.8,82.2 429.5,82.2 430.0,82.0 431.0,81.5 432.0,80.7 433.0,80.0 434.0,79.3 434.7,79.1 435.3,78.4 436.0,77.8 436.5,77.6 437.2,78.3 438.0,78.9 438.7,79.4 439.3,79.8 440.0,80.2 440.8,80.4 441.5,80.5 442.2,80.7 443.0,80.7 443.7,80.8 444.3,81.2 445.0,80.7 445.7,80.9 446.3,81.1 447.0,80.9 447.8,81.0 448.5,81.0 449.2,81.2 450.0,81.1 450.7,81.1 451.3,81.2 452.0,81.1 452.6,81.2 453.2,81.8 453.8,81.7 454.4,81.6 455.0,81.6 455.6,82.0 456.2,82.6 456.8,82.1 457.4,82.8 458.0,82.4 458.6,82.8 459.2,83.0 459.8,83.5 460.4,83.3 461.0,83.3 461.8,83.4 462.5,83.0 463.2,83.4 464.0,82.9 464.7,83.5 465.3,82.7 466.0,82.4 467.0,82.0 467.7,82.7 468.3,82.7 469.0,82.3 469.7,82.8 470.3,82.7 471.0,82.6 472.0,82.7 472.7,82.9 473.3,82.8 474.0,82.8 474.7,82.8 475.3,82.7 476.0,82.6 476.7,83.0 477.3,82.6 478.0,82.4 478.7,82.7 479.3,82.8 480.0,83.0 480.7,83.7 481.3,83.7 482.0,83.1 482.7,83.5 483.3,83.2 484.0,83.1 484.7,83.2 485.3,83.2 486.0,83.1 486.7,83.4 487.3,83.2 488.0,83.2 488.7,83.5 489.3,83.4 490.0,83.3 490.7,84.1 491.3,84.1 492.0,83.3 492.7,83.6 493.3,83.4 494.0,83.3 494.7,84.1 495.3,83.4 496.0,83.3 496.7,83.5 497.3,83.3 498.0,83.5 498.7,83.6 499.3,83.6 500.0,83.3 500.6,83.4 501.2,83.7 501.9,83.4 502.5,83.6 503.1,83.5 503.8,83.7 504.4,83.6 505.0,83.6 505.7,83.6 506.3,83.7 507.0,83.5 507.6,83.5 508.2,83.8 508.8,83.7 509.4,83.9 510.0,83.3 510.6,83.7 511.2,83.7 511.9,83.8 512.5,83.3 513.1,83.2 513.8,83.8 514.4,83.0 515.0,82.9 515.6,83.3 516.2,83.2 516.8,82.7 517.4,83.3 518.0,82.6 518.6,83.4 519.2,83.3 519.8,83.5 520.4,83.7 521.0,83.3 521.6,83.3 522.2,83.5 522.8,83.5 523.4,83.8 524.0,83.1 524.7,83.6 525.3,83.6 526.0,83.0 526.8,83.4 527.5,83.0 528.1,83.6 528.8,83.4 529.4,83.4 530.0,82.9 530.6,83.0 531.2,83.0 531.8,83.1 532.4,83.2 533.0,83.1 533.6,83.2 534.2,83.8 534.8,83.6 535.4,83.7 536.0,83.3 536.7,83.7 537.3,83.7 538.0,83.5 538.7,83.2 539.3,83.7 540.0,83.1 540.6,83.7 541.2,83.5 541.8,83.5 542.4,83.7 543.0,83.3 543.6,83.4 544.2,83.9 544.8,83.5 545.4,83.5 546.0,83.5 546.7,83.6 547.3,84.1 548.0,83.6 548.7,83.8 549.3,84.4 550.0,84.0 550.7,84.7 551.3,84.1 552.0,83.8 552.7,83.9 553.3,83.9 554.0,83.5 554.7,83.9 555.3,83.9 556.0,83.3 556.7,83.6 557.3,83.4 558.0,82.9 558.7,82.5 559.3,82.0 560.0,81.5 560.7,81.7 561.3,82.3 562.0,81.9 562.6,82.3 563.2,82.8 563.8,82.7 564.4,83.0 565.0,83.3 566.0,83.5 566.7,83.6 567.3,84.0 568.0,83.6 568.7,84.1 569.3,84.0 570.0,83.6 570.7,83.6 571.3,83.7 572.0,83.3 572.7,83.5 573.3,83.4 574.0,83.0 574.7,83.0 575.3,83.7 576.0,83.0 576.7,83.2 577.3,84.0 578.0,83.3 578.7,84.1 579.3,83.5 580.0,83.6 580.6,83.8 581.2,84.1 581.8,84.2 582.4,83.7 583.0,83.4 583.6,83.5 584.2,83.4 584.8,84.1 585.4,83.4 586.0,83.3 586.6,83.7 587.2,83.3 587.8,83.6 588.4,84.0 589.0,83.3 589.6,83.3 590.2,83.8 590.8,83.5 591.4,83.8 592.0,83.1 592.6,83.5 593.2,83.0 593.8,83.5 594.4,83.0 595.0,82.6 595.7,82.7 596.3,82.8 597.0,82.9 597.7,83.2 598.3,83.3 599.0,83.1 599.6,83.3 600.2,83.2 600.8,83.4 601.4,83.4 602.0,83.3 602.7,83.9 603.3,83.3 604.0,83.8 604.7,83.9 605.3,83.3 606.0,83.3 606.7,84.1 607.3,83.9 608.0,84.1 608.7,83.6 609.3,83.7 610.0,83.6 610.7,83.8 611.3,84.4 612.0,84.0 612.7,83.8 613.3,83.8 614.0,83.6 614.7,83.6 615.3,83.4 616.0,83.3 616.7,83.3 617.3,83.8 618.0,83.2 618.7,83.8 619.3,83.1 620.0,82.9 620.7,82.8 621.3,82.9 622.0,82.4 622.6,82.6 623.2,82.8 623.8,83.4 624.4,83.5 625.0,82.9 625.6,83.4 626.2,83.2 626.8,83.4 627.4,83.4 628.0,82.6 628.6,82.8 629.2,82.7 629.9,82.1 630.5,81.9 631.1,82.0 631.8,81.4 632.4,81.3 633.0,80.4 633.7,81.5 634.3,82.0 635.0,82.6 635.6,82.7 636.2,83.6 636.8,83.1 637.4,83.4 638.0,83.3 638.7,83.4 639.3,83.3 640.0,83.6 640.7,83.8 641.3,83.1 642.0,82.9 642.6,83.4 643.2,83.2 643.8,83.5 644.4,83.4 645.0,83.3 645.6,83.4 646.2,83.4 646.8,83.4 647.4,84.0 648.0,83.3" fill="none" stroke="#000" stroke-width="1.1" stroke-linejoin="round"/><polyline points="648.0,86.5 647.4,85.9 646.8,85.8 646.2,86.4 645.6,86.3 645.0,86.3 644.4,86.2 643.8,86.2 643.2,85.4 642.6,85.4 642.0,86.0 641.3,85.5 640.7,86.2 640.0,85.6 639.3,85.8 638.7,85.9 638.0,86.6 637.4,86.5 636.8,86.4 636.2,86.9 635.6,86.5 635.0,87.1 634.3,86.6 633.7,86.6 633.0,87.0 632.4,86.5 631.8,86.9 631.1,86.8 630.5,86.8 629.9,86.9 629.2,86.8 628.6,86.4 628.0,87.2 627.4,87.1 626.8,87.0 626.2,86.9 625.6,86.1 625.0,86.7 624.4,86.6 623.8,86.2 623.2,86.5 622.6,86.4 622.0,86.5 621.3,86.0 620.7,85.7 620.0,86.1 619.3,85.8 618.7,85.4 618.0,85.5 617.3,85.3 616.7,85.6 616.0,85.8 615.3,85.1 614.7,85.6 614.0,86.1 613.3,85.8 612.7,86.0 612.0,85.8 611.3,86.5 610.7,86.6 610.0,86.9 609.3,86.2 608.7,86.6 608.0,86.2 607.3,85.9 606.7,86.1 606.0,86.5 605.3,86.5 604.7,86.6 604.0,86.8 603.3,86.3 602.7,87.0 602.0,87.2 601.4,86.6 600.8,87.1 600.2,87.5 599.6,87.5 599.0,87.9 598.3,87.0 597.7,87.0 597.0,86.9 596.3,86.4 595.7,86.5 595.0,86.5 594.4,86.1 593.8,86.0 593.2,86.3 592.6,86.3 592.0,86.9 591.4,86.7 590.8,86.9 590.2,86.8 589.6,86.9 589.0,86.9 588.4,87.0 587.8,86.9 587.2,86.8 586.6,87.2 586.0,87.6 585.4,87.4 584.8,87.7 584.2,88.7 583.6,88.6 583.0,89.4 582.4,88.9 581.8,88.8 581.2,89.6 580.6,89.5 580.0,89.7 579.3,89.7 578.7,89.9 578.0,90.1 577.3,90.0 576.7,90.6 576.0,91.5 575.3,91.1 574.7,90.9 574.0,91.1 573.3,90.9 572.7,90.9 572.0,90.8 571.3,89.5 570.7,89.3 570.0,89.0 569.3,89.1 568.7,88.7 568.0,89.4 567.3,90.0 566.7,90.4 566.0,91.1 565.0,90.6 564.4,90.3 563.8,90.1 563.2,90.3 562.6,89.5 562.0,90.1 561.3,89.2 560.7,87.9 560.0,87.6 559.3,86.3 558.7,86.2 558.0,85.8 557.3,85.5 556.7,85.8 556.0,86.1 555.3,86.5 554.7,87.2 554.0,88.3 553.3,88.9 552.7,89.4 552.0,90.1 551.3,90.0 550.7,89.7 550.0,90.4 549.3,89.3 548.7,89.1 548.0,89.0 547.3,88.7 546.7,88.5 546.0,88.3 545.4,88.1 544.8,87.3 544.2,87.8 543.6,87.5 543.0,87.6 542.4,87.3 541.8,87.6 541.2,87.4 540.6,87.5 540.0,87.9 539.3,87.9 538.7,87.9 538.0,88.1 537.3,88.0 536.7,88.2 536.0,88.3 535.4,88.4 534.8,88.2 534.2,88.6 533.6,88.8 533.0,89.0 532.4,88.2 531.8,88.4 531.2,88.4 530.6,88.1 530.0,88.3 529.4,88.7 528.8,89.2 528.1,89.6 527.5,90.1 526.8,89.1 526.0,88.3 525.3,87.3 524.7,86.7 524.0,86.5 523.4,85.6 522.8,85.9 522.2,86.2 521.6,85.6 521.0,86.1 520.4,86.1 519.8,85.6 519.2,86.0 518.6,85.9 518.0,86.1 517.4,85.5 516.8,85.8 516.2,85.6 515.6,85.1 515.0,85.8 514.4,85.7 513.8,85.2 513.1,85.6 512.5,85.4 511.9,85.0 511.2,85.8 510.6,85.1 510.0,85.8 509.4,85.6 508.8,85.7 508.2,85.6 507.6,86.2 507.0,86.5 506.3,85.9 505.7,85.7 505.0,85.8 504.4,85.7 503.8,85.1 503.1,85.6 502.5,84.9 501.9,85.1 501.2,84.8 500.6,85.4 500.0,85.4 499.3,85.4 498.7,85.5 498.0,85.5 497.3,85.4 496.7,85.6 496.0,85.8 495.3,86.2 494.7,86.0 494.0,87.2 493.3,87.3 492.7,87.9 492.0,88.3 491.3,87.5 490.7,87.7 490.0,87.6 489.3,86.6 488.7,86.8 488.0,86.5 487.3,86.1 486.7,86.6 486.0,86.9 485.3,87.4 484.7,87.1 484.0,88.3 483.3,87.5 482.7,87.8 482.0,87.6 481.3,86.7 480.7,86.4 480.0,86.9 479.3,86.7 478.7,86.3 478.0,87.2 477.3,87.7 476.7,87.8 476.0,89.0 475.3,88.5 474.7,88.2 474.0,89.0 473.3,89.0 472.7,90.2 472.0,90.8 471.0,89.4 470.3,88.5 469.7,88.9 469.0,89.0 468.3,88.1 467.7,87.8 467.0,87.2 466.0,86.0 465.3,86.3 464.7,86.7 464.0,87.8 463.2,86.6 462.5,86.4 461.8,87.3 461.0,88.2 460.4,88.1 459.8,88.8 459.2,88.7 458.6,89.1 458.0,89.6 457.4,89.8 456.8,89.9 456.2,90.3 455.6,90.6 455.0,90.9 454.4,90.7 453.8,91.0 453.2,90.9 452.6,90.7 452.0,91.3 451.3,91.1 450.7,91.8 450.0,92.2 449.2,92.8 448.5,94.0 447.8,96.7 447.0,100.2 446.3,101.1 445.7,101.8 445.0,102.9 444.3,102.8 443.7,102.7 443.0,103.3 442.2,102.9 441.5,102.9 440.8,100.7 440.0,99.3 439.3,98.8 438.7,98.6 438.0,98.4 437.2,98.8 436.5,100.0 436.0,100.2 435.3,99.0 434.7,98.1 434.0,97.6 433.0,90.4 432.0,87.8 431.0,96.7 430.0,101.1 429.5,96.7 428.8,92.8 428.0,89.0 427.0,88.0 426.3,86.6 425.7,86.5 425.0,85.7 424.3,85.2 423.7,85.4 423.0,85.7 422.0,85.7 421.0,86.5 420.0,87.7 419.4,87.6 418.8,86.9 418.2,87.0 417.6,87.3 417.0,87.3 416.4,87.3 415.8,87.1 415.2,87.0 414.6,87.1 414.0,87.3 413.4,87.2 412.8,87.1 412.2,86.5 411.6,86.4 411.0,87.0 410.4,86.9 409.8,87.0 409.2,86.6 408.6,87.2 408.0,87.3 407.4,86.8 406.8,87.2 406.2,87.0 405.6,87.7 405.0,88.0 404.4,87.1 403.8,87.7 403.2,87.3 402.6,86.7 402.0,87.3 401.4,86.3 400.8,86.7 400.2,86.4 399.6,85.5 399.0,86.0 398.4,85.4 397.8,85.6 397.2,85.8 396.6,85.0 396.0,85.7 395.3,85.5 394.7,85.8 394.0,86.0 393.3,85.9 392.7,85.6 392.0,85.8 391.3,85.6 390.7,85.3 390.0,85.7 389.3,85.8 388.7,85.2 388.0,86.0 387.3,85.5 386.7,85.4 386.0,85.6 385.3,85.5 384.7,85.3 384.0,85.3 383.3,85.1 382.7,84.8 382.0,85.3 381.3,85.0 380.7,85.4 380.0,85.7 379.3,85.0 378.7,85.7 378.0,85.7 377.0,86.0 376.3,86.2 375.7,86.0 375.0,86.7 374.3,87.1 373.7,87.5 373.0,88.1 372.3,87.9 371.7,88.7 371.0,90.0 370.3,90.2 369.7,90.6 369.0,91.2 368.3,91.3 367.7,91.9 367.0,92.4 366.3,92.0 365.7,93.0 365.0,93.5 364.3,93.6 363.7,93.8 363.0,94.3 362.0,94.7 361.4,94.3 360.8,94.8 360.1,94.9 359.5,95.0 358.8,93.6 358.0,93.0 357.0,92.6 356.0,92.9 355.0,98.7 354.3,99.1 353.7,100.0 353.0,100.9 352.0,94.7 351.3,94.4 350.7,94.1 350.0,93.8 349.0,94.5 348.4,94.7 347.8,94.9 347.1,95.9 346.5,96.4 345.9,96.2 345.2,96.1 344.6,95.7 344.0,96.0 343.3,96.0 342.7,96.3 342.0,96.5 341.0,96.9 340.0,97.5 339.0,98.7 338.3,98.5 337.7,97.9 337.0,98.2 336.3,98.0 335.7,98.4 335.0,98.7 334.3,97.9 333.7,97.1 333.0,96.4 332.3,96.4 331.7,96.7 331.0,96.9 330.2,97.2 329.5,98.2 328.8,96.1 328.0,94.7 327.3,95.8 326.7,96.3 326.0,98.2 325.4,98.1 324.8,99.0 324.2,99.3 323.6,99.3 323.0,100.4 322.4,100.5 321.8,100.2 321.2,100.9 320.6,100.8 320.0,101.8 319.3,101.5 318.7,101.2 318.0,101.0 317.3,100.4 316.7,100.1 316.0,99.6 315.3,99.3 314.7,99.7 314.0,100.7 313.2,103.5 312.5,107.5 312.0,100.7 311.3,100.7 310.7,101.1 310.0,101.4 309.3,101.2 308.7,102.2 308.0,103.2 307.0,102.1 306.0,100.0 305.2,98.7 304.5,98.6 303.8,98.6 303.0,98.8 302.0,99.3 301.0,104.3 300.2,102.2 299.5,100.7 298.5,109.2 297.5,116.4 297.0,123.5 296.0,124.9 295.1,117.0 294.3,113.0 294.0,94.0 293.3,93.3 292.7,93.2 292.0,93.3 291.3,93.7 290.7,94.2 290.0,97.1 289.0,96.7 288.0,101.0 287.0,92.7 286.0,92.0 285.0,91.3 284.0,89.0 283.0,87.3 282.0,87.8 281.3,88.0 280.7,88.2 280.0,88.8 279.2,88.6 278.5,88.9 277.8,88.6 277.0,88.6 276.3,87.1 275.7,87.7 275.0,87.9 274.3,86.8 273.7,87.0 273.0,87.1 272.3,85.0 271.7,85.9 271.0,85.4 270.0,86.4 269.3,86.0 268.7,85.9 268.0,86.1 267.3,86.2 266.7,86.3 266.0,86.8 265.3,86.6 264.7,86.7 264.0,86.6 263.3,86.3 262.7,86.5 262.0,86.8 261.3,86.9 260.7,87.0 260.0,87.0 259.3,86.5 258.7,86.7 258.0,87.5 257.3,86.7 256.7,87.4 256.0,87.2 255.3,87.5 254.7,87.5 254.0,87.5 253.3,87.3 252.7,86.7 252.0,87.1 251.3,87.0 250.7,86.4 250.0,86.8 249.3,86.7 248.7,86.8 248.0,86.8 247.3,86.6 246.7,86.5 246.0,87.1 245.3,86.5 244.7,86.6 244.0,86.5 243.3,87.0 242.7,86.4 242.0,87.1 241.3,86.8 240.7,86.9 240.0,87.0 239.3,86.9 238.7,86.4 238.0,87.1 237.3,86.4 236.7,86.8 236.0,87.0 235.3,87.1 234.7,86.4 234.0,87.1 233.3,86.8 232.7,86.5 232.0,86.8 231.3,87.4 230.7,87.3 230.0,87.5 229.3,87.7 228.7,87.7 228.0,88.5 227.4,88.3 226.8,87.8 226.2,87.3 225.6,87.8 225.0,87.8 224.4,87.3 223.8,86.4 223.2,86.2 222.6,86.3 222.0,86.0 221.4,85.2 220.8,85.7 220.2,85.6 219.6,85.4 219.0,85.3 218.4,84.9 217.8,85.0 217.2,85.5 216.6,85.9 216.0,86.0 215.4,85.4 214.8,86.0 214.2,86.2 213.6,85.6 213.0,86.4 212.4,86.3 211.8,86.3 211.2,86.6 210.6,86.4 210.0,86.7 209.4,86.2 208.8,86.3 208.2,86.8 207.6,86.9 207.0,87.1 206.4,86.2 205.8,86.8 205.2,85.9 204.6,86.4 204.0,86.4 203.4,86.2 202.8,86.2 202.2,86.1 201.6,85.9 201.0,86.0 200.4,85.8 199.8,85.8 199.2,85.6 198.6,86.0 198.0,86.0 197.4,85.6 196.8,85.4 196.2,86.2 195.6,86.2 195.0,86.4 194.4,85.7 193.8,85.6 193.2,85.9 192.6,85.7 192.0,86.4 191.4,85.8 190.8,86.3 190.2,86.5 189.6,86.6 189.0,86.6 188.4,86.6 187.8,85.9 187.2,86.6 186.6,86.5 186.0,86.7 185.4,86.8 184.8,86.2 184.2,86.7 183.6,87.0 183.0,87.4 182.4,87.4 181.8,87.6 181.2,87.5 180.6,87.1 180.0,88.0 179.4,88.3 178.8,88.4 178.2,89.3 177.6,89.8 177.0,90.3 176.3,90.4 175.7,91.6 175.0,92.4 174.3,92.2 173.7,93.5 173.0,94.2 172.3,93.5 171.7,93.0 171.0,93.1 170.3,91.7 169.7,91.4 169.0,90.6 168.3,89.6 167.7,89.2 167.0,88.9 166.3,88.6 165.7,88.6 165.0,88.5 164.3,88.6 163.7,88.3 163.0,89.2 162.3,88.5 161.7,88.6 161.0,88.5 160.3,87.9 159.7,86.1 159.0,87.4 158.3,86.6 157.7,87.9 157.0,88.1 156.3,87.9 155.7,86.9 155.0,88.9 154.3,86.4 153.7,89.2 153.0,89.9 152.3,89.0 151.7,87.8 151.0,88.1 150.3,85.6 149.7,85.9 149.0,86.4 148.3,84.4 147.7,85.5 147.0,86.0 146.3,86.3 145.7,87.4 145.0,88.1 144.2,88.4 143.5,91.4 142.8,88.7 142.0,86.7 141.2,87.2 140.5,89.2 139.8,87.5 139.0,88.5 138.3,86.7 137.7,86.8 137.0,86.0 136.4,85.9 135.8,85.1 135.2,85.2 134.6,85.8 134.0,86.0 133.3,86.2 132.7,86.2 132.0,86.7 131.4,85.7 130.8,85.0 130.2,86.1 129.6,85.2 129.0,86.0 128.4,85.8 127.8,85.1 127.2,85.0 126.6,84.4 126.0,85.0 125.2,84.0 124.5,85.0 123.8,84.0 123.0,85.3 122.4,84.4 121.8,85.0 121.2,85.5 120.6,86.1 120.0,86.4 119.4,86.5 118.8,86.6 118.2,85.4 117.6,85.9 117.0,87.4 116.4,86.1 115.8,85.9 115.2,87.2 114.6,87.7 114.0,87.8 113.4,87.2 112.8,87.8 112.2,86.7 111.6,87.6 111.0,89.6 110.4,89.4 109.8,89.3 109.2,86.8 108.6,86.8 108.0,88.9 107.4,86.3 106.8,88.4 106.1,88.7 105.5,89.6 104.9,88.5 104.2,87.7 103.6,87.2 103.0,86.7 102.3,85.5 101.7,86.7 101.0,88.5 100.3,87.1 99.7,87.2 99.0,86.7 98.4,85.0 97.8,86.2 97.2,86.3 96.6,85.9 96.0,86.0 95.4,85.8 94.8,85.9 94.2,86.0 93.6,86.1 93.0,86.4 92.4,86.1 91.8,86.1 91.2,86.7 90.6,87.1 90.0,87.4 89.3,87.0 88.7,86.7 88.0,86.4 87.4,86.0 86.8,85.9 86.2,85.7 85.6,85.5 85.0,85.3 84.3,85.1 83.7,84.6 83.0,84.8 82.3,85.4 81.7,85.3 81.0,85.6" fill="none" stroke="#000" stroke-width="1.1" stroke-linejoin="round"/><clipPath id="ob"><rect x="0" y="0" width="247" height="450"/><rect x="372.3" y="0" width="1.4" height="450"/></clipPath><path d="M81.0,365.0 81.7,365.5 82.3,365.8 83.0,365.4 83.7,365.7 84.3,365.5 85.0,365.4 85.7,365.6 86.3,365.7 87.0,365.9 87.8,365.6 88.5,364.3 89.2,364.2 90.0,363.9 90.7,364.2 91.3,364.4 92.0,364.3 92.7,364.4 93.3,364.6 94.0,364.6 94.7,365.1 95.3,365.9 96.0,365.7 96.7,365.5 97.3,365.2 98.0,364.6 98.7,365.7 99.3,364.4 100.0,363.2 100.7,364.6 101.4,362.1 102.2,364.2 103.0,363.9 103.6,364.0 104.3,364.5 104.9,364.1 105.5,359.2 106.0,363.0 106.6,363.7 107.2,363.0 107.6,360.5 108.1,363.6 108.7,365.3 109.4,364.3 110.0,363.9 111.0,363.4 111.3,360.9 111.8,363.4 112.4,364.8 113.1,364.3 113.7,363.6 114.4,365.4 115.0,363.4 115.6,363.5 116.2,365.2 116.8,363.7 117.4,363.6 118.0,363.6 118.6,363.8 119.2,365.0 119.8,365.6 120.4,363.8 121.0,363.8 121.6,364.4 122.2,364.3 122.9,364.9 123.5,363.6 124.1,363.4 124.5,362.2 125.0,363.8 125.7,364.5 126.3,364.4 127.0,364.3 127.6,365.3 128.2,364.0 128.8,365.4 129.4,363.6 130.0,363.0 130.7,363.2 131.3,364.3 132.0,362.9 132.7,363.8 133.3,363.2 134.0,363.3 134.7,364.4 135.3,363.7 136.0,363.8 136.7,364.9 137.3,364.5 138.0,362.9 138.7,363.9 139.3,361.5 140.0,357.1 141.0,358.9 141.8,363.3 142.5,365.2 143.5,356.2 144.5,360.7 145.5,359.3 146.2,361.2 147.0,362.0 147.7,362.7 148.3,362.8 149.0,362.4 149.7,364.2 150.3,361.9 151.0,361.6 151.7,361.5 152.3,360.1 153.0,359.3 153.7,359.5 154.3,359.6 155.0,359.6 155.7,360.4 156.3,360.0 157.0,359.8 157.7,360.4 158.3,361.3 159.0,361.1 159.6,360.7 160.2,360.5 160.9,360.1 161.5,359.3 162.5,358.6 163.2,360.0 164.0,360.4 164.7,360.7 165.3,360.3 166.0,359.6 166.7,359.3 167.3,358.8 168.0,358.2 168.7,357.4 169.3,357.2 170.0,355.7 170.7,355.1 171.3,354.1 172.0,352.5 173.0,351.4 173.8,351.8 174.5,352.1 175.2,354.5 176.0,356.4 176.7,358.1 177.3,359.2 178.0,360.0 178.7,360.7 179.3,361.7 180.0,362.1 180.6,362.6 181.2,361.9 181.8,361.7 182.4,361.7 183.0,361.4 183.6,362.0 184.2,362.2 184.8,361.7 185.4,361.8 186.0,361.8 186.6,361.8 187.2,361.8 187.8,361.9 188.4,361.5 189.0,361.4 189.6,361.4 190.2,361.2 190.8,361.8 191.4,361.3 192.0,360.7 192.6,360.9 193.2,361.9 193.8,361.4 194.4,361.8 195.0,361.8 195.6,362.8 196.2,362.8 196.8,363.0 197.4,362.9 198.0,362.9 198.6,362.8 199.2,363.0 199.8,362.4 200.4,362.3 201.0,362.1 201.6,362.5 202.2,362.4 202.8,362.8 203.4,363.3 204.0,362.9 204.6,363.4 205.2,363.2 205.8,363.3 206.4,363.2 207.0,362.9 207.6,362.9 208.2,363.1 208.8,362.9 209.4,363.1 210.0,362.5 210.6,363.2 211.2,362.7 211.8,362.8 212.4,363.0 213.0,362.5 213.6,362.9 214.2,362.9 214.8,363.4 215.4,363.7 216.0,363.2 216.6,364.0 217.2,364.2 217.9,364.7 218.5,364.3 219.1,364.5 219.8,364.2 220.4,363.7 221.0,363.2 221.6,363.2 222.2,363.3 222.8,362.8 223.4,362.9 224.0,362.5 224.6,363.1 225.2,363.0 225.8,362.9 226.4,362.6 227.0,362.5 227.6,362.9 228.2,363.0 228.8,363.3 229.4,363.3 230.0,363.2 230.7,363.6 231.3,363.8 232.0,363.1 232.7,363.4 233.3,363.5 234.0,362.9 234.7,362.9 235.3,362.8 236.0,363.1 236.7,362.2 237.3,362.3 238.0,361.8 238.7,362.0 239.3,362.6 240.0,362.9 240.7,362.6 241.3,362.4 242.0,362.5 242.7,362.8 243.3,362.8 244.0,363.0 244.7,362.8 245.3,362.9 246.0,362.5 246.7,363.0 247.3,362.7 248.0,362.5 248.7,363.0 249.3,362.2 250.0,362.1 250.7,362.6 251.3,362.3 252.0,362.6 252.7,362.1 253.3,362.9 254.0,362.1 254.7,362.4 255.3,362.4 256.0,362.6 256.7,362.8 257.3,362.8 258.0,362.9 258.7,363.2 259.3,363.2 260.0,363.5 260.7,363.3 261.3,363.3 262.0,363.2 262.7,363.2 263.3,363.6 264.0,363.8 264.7,363.3 265.3,363.0 266.0,362.9 266.6,363.3 267.2,362.8 267.8,362.5 268.4,362.3 269.0,362.1 269.7,362.1 270.3,361.5 271.0,360.4 271.7,361.1 272.3,361.3 273.0,361.4 273.7,361.5 274.3,361.0 275.0,360.7 275.7,361.0 276.3,359.9 277.0,359.3 277.8,358.3 278.5,356.4 279.0,357.6 280.0,360.8 280.7,361.9 281.3,362.5 282.0,362.4 282.7,361.5 283.3,360.1 284.0,358.8 284.7,358.6 285.3,357.8 286.0,357.2 287.0,353.2 287.8,351.0 288.5,347.6 289.2,350.0 290.0,352.0 290.7,353.3 291.3,353.4 292.0,354.0 292.8,353.4 293.5,352.4 294.5,336.0 295.0,333.3 295.8,328.6 296.5,323.7 297.5,328.0 298.5,339.3 299.5,346.7 300.5,350.0 301.5,346.0 302.2,344.7 303.0,343.0 303.8,342.2 304.5,341.3 305.2,342.2 306.0,343.0 306.7,344.2 307.3,344.5 308.0,345.0 308.7,345.4 309.3,345.8 310.0,346.0 310.7,346.0 311.3,345.8 312.0,345.3 312.5,339.3 313.5,345.3 314.2,346.1 315.0,346.0 316.0,344.7 316.7,345.0 317.3,344.6 318.0,344.3 318.7,344.7 319.3,344.3 320.0,343.3 320.7,343.6 321.3,344.6 322.0,344.3 322.7,345.1 323.3,345.1 324.0,344.7 324.7,345.7 325.3,347.3 326.0,347.7 326.7,349.0 327.3,349.4 328.0,350.3 328.5,351.7 329.5,351.7 330.5,348.3 331.2,349.0 332.0,349.7 332.7,350.4 333.3,350.1 334.0,349.7 334.7,349.1 335.3,348.4 336.0,347.7 336.7,347.6 337.3,347.5 338.0,347.3 338.8,347.3 339.5,346.3 340.2,349.3 341.0,352.0 342.0,351.7 342.7,350.8 343.3,350.6 344.0,349.0 344.6,349.1 345.2,348.1 345.9,348.2 346.5,347.0 347.2,348.1 347.8,349.1 348.5,349.3 349.2,351.2 349.8,352.9 350.5,353.7 351.0,353.7 351.8,349.6 352.5,344.3 353.2,346.1 354.0,346.6 355.0,347.4 356.0,352.8 357.0,356.8 357.8,356.2 358.5,355.4 359.2,355.0 360.0,353.7 360.5,350.1 361.2,351.5 362.0,352.3 362.7,352.5 363.3,351.9 364.0,351.4 364.7,351.8 365.3,351.2 366.0,350.6 367.0,349.2 367.7,350.3 368.3,351.4 369.0,352.3 369.7,352.9 370.3,353.8 371.0,354.1 371.7,355.0 372.3,356.2 373.0,356.8 373.7,357.4 374.3,358.3 375.0,358.6 375.7,358.1 376.3,357.4 377.0,356.3 377.8,358.1 378.5,358.6 379.1,358.7 379.8,359.4 380.4,359.2 381.0,359.0 381.6,359.5 382.2,359.8 382.8,360.2 383.4,359.9 384.0,359.9 384.6,360.5 385.2,361.4 385.8,361.0 386.4,361.7 387.0,361.7 387.6,362.4 388.2,362.4 388.8,363.1 389.4,363.5 390.0,363.4 390.6,364.2 391.2,363.8 391.8,364.5 392.4,364.1 393.0,363.9 393.7,364.2 394.3,364.6 395.0,363.9 395.6,363.7 396.2,364.0 396.8,363.7 397.4,363.3 398.0,362.9 398.6,363.2 399.2,362.5 399.8,362.3 400.4,362.0 401.0,361.4 401.6,361.8 402.2,361.2 402.8,361.2 403.4,361.1 404.0,360.7 404.6,361.0 405.2,361.2 405.8,360.6 406.4,361.1 407.0,360.4 407.6,360.5 408.2,360.5 408.8,360.3 409.4,360.4 410.0,360.0 410.6,360.9 411.2,360.7 411.8,361.0 412.4,360.7 413.0,360.7 413.6,361.1 414.2,361.4 414.8,361.9 415.4,362.2 416.0,362.1 416.6,362.8 417.2,362.4 417.8,363.1 418.4,363.4 419.0,362.9 419.7,363.6 420.3,363.6 421.0,363.9 421.6,364.0 422.2,363.7 422.8,363.7 423.4,364.3 424.0,363.5 424.6,363.5 425.2,363.2 425.8,362.9 426.4,362.7 427.0,361.6 427.7,361.5 428.3,361.1 429.0,360.2 430.0,348.7 430.5,348.2 431.5,353.1 432.5,360.2 433.5,355.8 434.2,353.1 435.0,349.6 435.8,348.5 436.5,346.5 437.2,346.4 438.0,345.6 438.7,347.4 439.3,348.3 440.0,349.6 441.0,349.1 442.0,345.1 442.7,345.7 443.3,345.7 444.0,345.6 444.7,346.6 445.3,346.5 446.0,346.9 446.8,349.2 447.5,351.3 448.2,353.8 449.0,356.2 449.7,357.3 450.3,358.1 451.0,358.0 451.7,358.4 452.3,358.2 453.0,358.0 453.7,358.8 454.3,358.9 455.0,358.5 455.7,359.4 456.3,359.7 457.0,360.2 457.7,360.8 458.3,361.4 459.0,361.6 459.7,362.6 460.3,363.6 461.0,364.2 461.8,363.5 462.5,362.0 463.2,363.8 464.0,364.2 464.7,363.5 465.3,363.1 466.0,362.0 466.7,361.6 467.3,361.2 468.0,360.7 468.7,361.6 469.3,361.6 470.0,361.6 470.7,361.9 471.3,361.0 472.0,360.4 472.6,360.6 473.2,361.0 473.8,361.4 474.4,361.9 475.0,361.4 475.6,362.6 476.2,362.5 476.8,362.9 477.4,363.2 478.0,363.6 478.6,363.9 479.2,363.5 479.8,363.4 480.4,363.3 481.0,363.2 481.6,363.1 482.2,363.4 482.8,362.8 483.4,363.4 484.0,362.5 484.6,362.9 485.2,363.9 485.8,363.6 486.4,363.9 487.0,364.3 487.6,364.6 488.2,364.0 488.8,364.1 489.4,363.5 490.0,363.2 490.7,363.0 491.3,363.4 492.0,362.7 492.6,363.5 493.2,364.0 493.8,364.2 494.4,364.0 495.0,364.3 495.6,364.9 496.2,365.2 496.8,365.2 497.4,365.9 498.0,365.4 499.0,364.6 499.6,364.9 500.2,365.7 500.8,365.6 501.4,365.2 502.0,365.4 502.7,365.3 503.3,365.6 504.0,365.6 504.7,364.9 505.3,364.9 506.0,364.6 506.7,365.0 507.3,364.4 508.0,364.9 508.7,364.4 509.3,364.0 510.0,363.9 510.7,364.0 511.3,364.1 512.0,364.0 512.7,364.1 513.3,363.7 514.0,363.6 514.7,364.1 515.3,363.6 516.0,363.8 516.7,363.7 517.3,363.5 518.0,363.2 518.7,363.6 519.3,364.2 520.0,363.9 520.6,364.8 521.2,364.7 521.8,364.7 522.4,364.6 523.0,364.6 523.7,364.3 524.3,364.7 525.0,363.6 525.6,363.3 526.2,362.8 526.9,361.6 527.5,360.7 528.1,361.5 528.8,362.4 529.4,362.7 530.0,362.5 530.6,362.7 531.2,362.4 531.8,362.3 532.4,362.6 533.0,361.8 533.6,362.3 534.2,362.8 534.8,363.0 535.4,363.6 536.0,363.2 536.6,363.7 537.2,363.2 537.8,363.0 538.4,363.1 539.0,362.9 539.6,363.2 540.2,363.4 540.8,363.7 541.4,363.8 542.0,363.2 542.6,363.1 543.2,363.5 543.8,363.4 544.4,363.3 545.0,362.5 545.6,363.0 546.2,362.9 546.8,363.5 547.4,363.6 548.0,363.2 548.7,363.0 549.3,362.5 550.0,361.1 551.0,360.4 551.7,360.9 552.3,361.1 553.0,361.4 553.7,362.5 554.3,363.4 555.0,363.6 555.7,363.5 556.3,363.9 557.0,363.2 557.7,363.5 558.3,362.4 559.0,361.8 559.7,361.2 560.3,360.3 561.0,358.9 561.7,359.5 562.3,359.7 563.0,360.0 563.7,359.9 564.3,360.1 565.0,359.3 565.7,360.6 566.3,360.9 567.0,361.4 567.7,361.8 568.3,362.7 569.0,362.5 570.0,361.1 570.7,361.5 571.3,360.9 572.0,360.7 572.7,360.8 573.3,360.9 574.0,360.0 574.7,360.4 575.3,359.8 576.0,359.3 576.7,360.3 577.3,361.1 578.0,361.4 578.6,361.5 579.2,361.5 579.8,361.5 580.4,361.9 581.0,361.4 581.6,361.7 582.2,362.0 582.8,362.0 583.4,362.3 584.0,362.1 584.6,362.4 585.2,362.5 585.8,363.6 586.4,363.2 587.0,363.2 587.6,363.3 588.2,363.8 588.8,364.0 589.4,363.6 590.0,363.6 590.6,364.0 591.2,363.9 591.8,364.1 592.4,363.8 593.0,363.9 593.6,364.0 594.2,365.0 594.8,365.0 595.4,364.7 596.0,364.6 596.6,364.7 597.2,364.1 597.8,364.3 598.4,363.7 599.0,363.2 599.7,363.8 600.3,363.5 601.0,362.9 601.7,363.8 602.3,364.3 603.0,363.9 603.6,364.1 604.2,364.1 604.8,364.2 605.4,364.3 606.0,364.3 606.7,364.3 607.3,364.3 608.0,364.6 608.7,364.9 609.3,364.5 610.0,364.3 610.7,365.0 611.3,365.0 612.0,364.3 612.7,364.7 613.3,364.5 614.0,364.3 614.7,364.6 615.3,365.5 616.0,365.0 616.7,364.9 617.3,364.9 618.0,364.7 618.7,364.8 619.3,364.3 620.0,363.6 620.6,363.7 621.2,363.6 621.8,363.2 622.4,363.8 623.0,362.9 623.6,363.8 624.2,363.3 624.8,363.3 625.4,363.6 626.0,363.6 626.6,363.4 627.2,363.5 627.9,363.2 628.5,362.1 629.1,363.2 629.8,363.0 630.4,364.0 631.0,363.9 631.6,363.8 632.2,363.1 632.9,362.8 633.5,361.4 634.1,361.8 634.8,362.2 635.4,363.0 636.0,362.9 636.6,363.9 637.2,363.9 637.8,363.9 638.4,364.4 639.0,364.3 639.6,365.0 640.2,364.6 640.8,364.9 641.4,365.0 642.0,365.0 642.6,365.0 643.2,365.1 643.8,364.8 644.4,364.8 645.0,364.6 645.6,364.6 646.2,365.0 646.8,364.6 647.4,365.1 648.0,364.6 L648.0,368.2 647.4,368.1 646.8,368.0 646.1,367.7 645.5,367.3 644.9,367.6 644.2,367.6 643.6,367.2 643.0,367.9 642.4,367.7 641.8,367.3 641.2,367.4 640.6,367.0 640.0,367.1 639.4,367.0 638.8,367.5 638.2,367.4 637.6,367.2 637.0,368.2 636.4,367.9 635.8,368.5 635.2,368.1 634.6,368.0 634.0,368.9 633.3,368.7 632.7,368.4 632.0,368.2 631.3,368.2 630.7,368.2 630.0,368.1 629.3,368.3 628.7,368.5 628.0,368.6 627.3,368.3 626.7,368.0 626.0,368.3 625.3,368.2 624.7,368.3 624.0,368.2 623.3,368.1 622.7,367.9 622.0,367.9 621.3,368.0 620.7,367.3 620.0,367.9 619.3,367.4 618.7,367.6 618.0,367.5 617.3,367.5 616.7,367.8 616.0,367.9 615.3,367.4 614.7,367.7 614.0,367.5 613.3,367.9 612.7,367.8 612.0,368.2 611.3,368.2 610.7,367.6 610.0,368.2 609.3,368.2 608.7,367.6 608.0,368.4 607.3,368.1 606.7,368.0 606.0,368.2 605.3,368.2 604.7,367.8 604.0,368.2 603.4,367.9 602.8,368.4 602.2,368.5 601.6,368.7 601.0,368.9 600.4,368.6 599.8,368.6 599.2,368.7 598.6,368.6 598.0,368.6 597.4,368.0 596.8,367.6 596.2,366.9 595.6,367.1 595.0,367.1 594.4,367.1 593.8,366.7 593.2,366.9 592.6,367.4 592.0,367.5 591.4,367.0 590.8,367.6 590.2,367.0 589.6,367.5 589.0,367.9 588.4,367.7 587.8,367.6 587.2,368.1 586.6,367.9 586.0,368.2 585.4,367.9 584.8,367.9 584.2,368.1 583.6,368.3 583.0,368.9 582.4,368.3 581.8,369.0 581.2,368.6 580.6,369.4 580.0,369.6 579.4,369.6 578.8,369.2 578.2,369.3 577.6,369.7 577.0,370.0 576.4,369.7 575.8,370.3 575.2,369.9 574.6,369.9 574.0,370.7 573.4,370.5 572.8,369.9 572.2,370.3 571.6,370.0 571.0,370.0 570.3,369.9 569.7,369.4 569.0,369.6 568.3,369.3 567.7,370.3 567.0,370.7 566.3,370.7 565.7,370.4 565.0,371.1 564.4,370.4 563.8,370.8 563.2,370.5 562.6,370.1 562.0,370.4 561.4,370.0 560.8,369.9 560.2,369.3 559.6,369.2 559.0,369.3 558.4,368.5 557.8,369.0 557.2,368.5 556.6,368.6 556.0,368.6 555.3,369.1 554.7,369.3 554.0,370.0 553.4,369.9 552.8,370.1 552.2,370.2 551.6,370.3 551.0,370.4 550.3,370.1 549.7,369.4 549.0,369.6 548.4,369.0 547.8,368.6 547.2,369.1 546.6,369.0 546.0,368.9 545.3,368.5 544.7,368.6 544.0,368.1 543.3,368.6 542.7,368.2 542.0,368.6 541.3,368.2 540.7,368.5 540.0,368.6 539.3,368.4 538.7,368.4 538.0,368.9 537.3,368.9 536.7,368.8 536.0,368.9 535.3,368.3 534.7,368.2 534.0,368.9 533.3,368.3 532.7,368.1 532.0,368.5 531.3,368.6 530.7,368.2 530.0,368.6 529.4,369.0 528.8,369.4 528.1,369.8 527.5,370.4 526.8,369.8 526.0,369.3 525.4,369.0 524.8,368.6 524.2,368.5 523.6,368.1 523.0,368.2 522.4,368.1 521.8,367.7 521.2,367.9 520.6,367.4 520.0,368.0 519.3,367.9 518.7,367.9 518.0,367.8 517.3,367.8 516.7,367.6 516.0,367.9 515.3,367.5 514.7,367.7 514.0,367.4 513.3,367.8 512.7,367.6 512.0,367.9 511.3,367.7 510.7,368.0 510.0,367.4 509.3,368.0 508.7,367.8 508.0,368.2 507.3,368.1 506.7,368.0 506.0,367.8 505.3,367.5 504.7,368.1 504.0,368.2 503.3,367.7 502.7,368.2 502.0,368.0 501.3,368.1 500.7,367.9 500.0,368.2 499.3,367.5 498.7,368.1 498.0,367.4 497.3,368.0 496.7,367.7 496.0,368.2 495.4,368.2 494.8,368.4 494.2,368.0 493.6,368.1 493.0,368.9 492.4,368.7 491.8,368.9 491.2,368.3 490.6,368.8 490.0,368.9 489.4,368.7 488.8,368.0 488.2,368.3 487.6,367.9 487.0,367.9 486.4,367.6 485.8,368.2 485.2,368.2 484.6,368.3 484.0,368.6 483.4,368.4 482.8,368.2 482.2,368.0 481.6,367.4 481.0,367.9 480.4,367.9 479.8,368.0 479.2,367.9 478.6,367.9 478.0,368.2 477.4,368.0 476.8,368.4 476.2,368.3 475.6,368.6 475.0,368.9 474.4,368.2 473.8,369.0 473.2,369.0 472.6,369.2 472.0,369.4 471.3,369.2 470.7,368.6 470.0,369.1 469.4,368.8 468.8,368.3 468.2,368.7 467.6,368.7 467.0,368.7 466.4,368.1 465.8,368.3 465.2,368.3 464.6,367.6 464.0,368.2 463.4,367.8 462.8,367.1 462.2,367.3 461.6,367.4 461.0,367.4 460.4,367.1 459.8,367.2 459.2,368.0 458.6,367.8 458.0,368.7 457.4,368.2 456.8,369.1 456.2,369.1 455.6,369.0 455.0,369.6 454.4,369.4 453.8,368.8 453.2,369.2 452.6,368.9 452.0,369.6 451.3,369.7 450.7,369.7 450.0,370.0 449.3,370.8 448.7,371.9 448.0,373.1 447.3,373.2 446.7,373.3 446.0,374.5 445.3,374.5 444.7,374.4 444.0,374.5 443.3,374.3 442.7,374.0 442.0,374.0 441.3,373.1 440.7,373.1 440.0,372.9 439.3,372.1 438.7,372.4 438.0,372.2 437.3,372.4 436.7,372.0 436.0,372.8 435.3,371.6 434.7,370.7 434.0,370.5 433.2,369.2 432.5,368.5 431.8,370.9 431.0,373.5 430.0,373.6 429.0,370.9 428.3,370.0 427.7,369.1 427.0,368.2 426.3,367.3 425.7,367.4 425.0,367.1 424.4,367.0 423.8,366.8 423.2,366.6 422.6,366.1 422.0,366.8 421.4,366.8 420.8,366.9 420.2,367.5 419.6,367.6 419.0,368.2 418.4,367.9 417.8,368.1 417.2,367.8 416.6,367.8 416.0,368.2 415.4,367.4 414.8,367.8 414.2,367.8 413.6,367.2 413.0,367.5 412.4,367.2 411.8,366.7 411.2,366.9 410.6,366.9 410.0,366.8 409.4,366.5 408.8,366.1 408.2,366.8 407.6,366.7 407.0,367.1 406.4,366.8 405.8,367.2 405.2,367.3 404.6,367.1 404.0,367.5 403.4,367.1 402.8,367.2 402.2,367.2 401.6,367.0 401.0,367.1 400.4,366.5 399.8,366.5 399.2,366.7 398.6,367.0 398.0,367.5 397.4,366.7 396.8,367.3 396.2,367.0 395.6,366.6 395.0,367.1 394.3,366.2 393.7,366.8 393.0,366.8 392.3,366.7 391.7,366.2 391.0,366.8 390.4,366.3 389.8,366.2 389.2,365.3 388.6,365.5 388.0,365.7 387.3,365.3 386.7,365.2 386.0,364.6 385.3,364.6 384.7,364.8 384.0,365.0 383.3,364.6 382.7,364.7 382.0,364.7 381.3,364.8 380.7,364.5 380.0,364.8 379.4,364.3 378.8,363.9 378.2,364.3 377.6,364.0 377.0,364.3 376.4,364.3 375.8,364.5 375.2,364.4 374.6,364.7 374.0,365.2 373.3,365.2 372.7,365.0 372.0,366.1 371.3,366.1 370.7,366.2 370.0,367.0 369.3,366.6 368.7,367.3 368.0,367.9 367.3,367.9 366.7,368.5 366.0,368.8 365.3,368.9 364.7,368.4 364.0,369.2 363.3,369.3 362.7,369.7 362.0,370.1 361.3,369.6 360.7,370.1 360.0,371.0 359.3,370.1 358.7,370.3 358.0,370.1 357.3,369.6 356.7,370.4 356.0,370.6 355.3,370.9 354.7,371.5 354.0,372.5 353.3,372.3 352.7,372.0 352.0,372.0 351.3,371.2 350.7,370.2 350.0,369.7 349.3,369.5 348.7,369.3 348.0,370.0 347.3,369.5 346.7,370.1 346.0,370.3 345.3,370.2 344.7,370.2 344.0,370.7 343.3,370.6 342.7,370.8 342.0,371.0 341.3,370.7 340.7,371.2 340.0,371.7 339.3,371.6 338.7,371.7 338.0,372.0 337.3,372.0 336.7,372.0 336.0,373.0 335.3,372.2 334.7,372.3 334.0,372.3 333.3,371.6 332.7,370.9 332.0,371.3 331.3,371.4 330.7,371.6 330.0,372.3 329.3,371.2 328.7,371.2 328.0,370.7 327.3,370.2 326.7,371.1 326.0,371.3 325.3,371.2 324.7,372.0 324.0,373.0 323.3,372.5 322.7,372.9 322.0,373.3 321.3,372.8 320.7,372.8 320.0,373.3 319.3,372.8 318.7,373.0 318.0,373.3 317.0,372.5 316.3,372.1 315.7,372.3 315.0,373.2 314.3,373.9 313.7,374.9 313.0,376.4 312.3,375.2 311.7,374.1 311.0,373.2 310.3,373.3 309.7,373.0 309.0,373.6 308.3,373.2 307.7,374.3 307.0,374.8 306.3,373.8 305.7,372.4 305.0,372.0 304.3,371.0 303.7,370.2 303.0,369.6 302.2,371.0 301.5,372.4 300.8,373.8 300.0,375.6 299.0,374.4 298.0,378.0 297.0,380.8 296.0,381.2 295.0,376.4 294.0,369.6 293.3,369.2 292.7,370.1 292.0,370.4 291.3,371.3 290.7,371.7 290.0,373.2 289.3,372.5 288.7,371.3 288.0,371.6 287.3,370.9 286.7,370.3 286.0,370.0 285.3,369.9 284.7,370.4 284.0,370.8 283.3,369.2 282.7,368.8 282.0,368.0 281.3,368.3 280.7,368.2 280.0,368.8 279.3,368.3 278.7,367.8 278.0,367.8 277.3,367.8 276.7,368.0 276.0,368.2 275.4,367.9 274.8,367.7 274.2,367.4 273.6,367.3 273.0,367.5 272.4,367.4 271.8,367.3 271.2,367.8 270.6,367.6 270.0,368.2 269.3,367.9 268.7,367.8 268.0,367.6 267.3,367.9 266.7,368.2 266.0,368.2 265.3,368.1 264.7,368.1 264.0,368.0 263.3,368.1 262.7,368.2 262.0,368.2 261.3,368.2 260.7,368.3 260.0,368.1 259.3,368.2 258.7,368.4 258.0,368.6 257.3,368.2 256.7,367.7 256.0,368.0 255.3,368.3 254.7,367.8 254.0,368.2 253.3,368.0 252.7,368.0 252.0,367.3 251.3,367.8 250.7,367.6 250.0,367.9 249.3,367.8 248.7,367.5 248.0,367.2 247.3,367.6 246.7,367.8 246.0,367.9 245.3,367.5 244.7,367.8 244.0,367.5 243.3,367.9 242.7,367.2 242.0,367.9 241.3,367.3 240.7,367.4 240.0,367.6 239.3,367.4 238.7,367.6 238.0,368.2 237.3,367.4 236.7,368.1 236.0,368.0 235.3,367.7 234.7,367.7 234.0,367.9 233.3,368.0 232.7,367.7 232.0,367.9 231.3,367.8 230.7,368.0 230.0,368.3 229.3,368.4 228.7,368.0 228.0,368.9 227.4,368.1 226.8,368.5 226.2,368.7 225.6,368.0 225.0,368.6 224.4,367.8 223.8,367.5 223.2,367.4 222.6,366.9 222.0,367.5 221.4,367.1 220.8,367.1 220.2,367.0 219.6,366.8 219.0,366.8 218.4,366.3 217.8,366.2 217.2,366.8 216.6,366.7 216.0,367.1 215.4,366.6 214.8,367.0 214.2,367.1 213.6,366.7 213.0,367.5 212.4,366.9 211.8,367.4 211.2,367.0 210.6,367.2 210.0,367.5 209.4,367.5 208.8,366.9 208.2,367.1 207.6,367.5 207.0,367.5 206.4,367.3 205.8,367.5 205.2,367.4 204.6,367.2 204.0,367.5 203.4,367.1 202.8,367.3 202.2,367.3 201.6,366.7 201.0,367.1 200.4,366.4 199.8,367.0 199.2,366.6 198.6,366.7 198.0,367.0 197.4,366.6 196.8,366.5 196.2,366.9 195.6,366.8 195.0,366.8 194.4,366.3 193.8,366.8 193.2,366.8 192.6,366.2 192.0,366.8 191.4,366.7 190.8,366.8 190.2,366.7 189.6,366.7 189.0,366.8 188.4,366.3 187.8,367.2 187.2,367.1 186.6,367.4 186.0,367.9 185.4,367.7 184.8,367.7 184.2,367.3 183.6,367.5 183.0,368.2 182.4,368.1 181.8,367.6 181.2,367.9 180.6,367.6 180.0,368.0 179.4,367.9 178.8,367.4 178.2,367.5 177.6,367.7 177.0,368.2 176.3,368.6 175.7,368.8 175.0,369.6 174.3,369.5 173.7,369.6 173.0,370.1 172.3,370.1 171.7,369.7 171.0,370.0 170.3,369.7 169.7,369.7 169.0,369.6 168.3,368.9 167.7,367.9 167.0,367.9 166.4,367.8 165.8,367.8 165.2,367.2 164.6,367.6 164.0,367.9 163.4,367.3 162.8,368.2 162.2,368.0 161.6,367.8 161.0,368.6 160.4,367.8 159.8,368.2 159.2,367.6 158.6,368.0 158.0,367.9 157.4,367.5 156.8,367.8 156.2,367.6 155.6,368.1 155.0,368.2 154.4,368.4 153.8,368.4 153.1,368.4 152.5,369.3 151.9,368.5 151.2,368.4 150.6,368.4 150.0,368.2 149.3,367.7 148.7,367.0 148.0,367.1 147.4,366.5 146.8,367.1 146.2,367.1 145.6,367.0 145.0,367.1 144.4,366.6 143.8,366.7 143.2,367.7 142.6,367.9 142.0,368.2 141.4,367.8 140.8,368.4 140.2,367.6 139.6,368.4 139.0,368.9 138.4,368.5 137.8,367.9 137.2,367.1 136.6,367.8 136.0,367.5 135.4,367.5 134.8,367.4 134.2,366.9 133.6,367.8 133.0,367.9 132.4,366.9 131.8,368.0 131.2,367.6 130.6,368.4 130.0,368.6 129.0,368.1 128.3,366.8 127.7,367.4 127.0,367.4 126.4,367.4 125.8,366.3 125.2,366.2 124.6,366.2 124.0,367.4 123.4,367.3 122.8,367.6 122.2,367.7 121.6,367.8 121.0,368.1 120.4,367.7 119.8,368.0 119.2,367.4 118.6,367.1 118.0,368.1 117.4,368.3 116.8,367.3 116.2,368.7 115.6,367.9 115.0,369.1 114.3,368.7 113.7,368.2 113.0,368.4 112.3,368.7 111.7,368.9 111.0,369.5 110.3,368.3 109.7,368.9 109.0,368.8 108.3,368.9 107.7,368.7 107.0,369.2 106.3,368.6 105.7,367.4 105.0,367.9 104.3,368.0 103.7,367.7 103.0,368.3 102.2,368.1 101.5,369.4 100.8,368.8 100.0,368.3 99.3,367.9 98.7,367.6 98.0,367.4 97.3,366.8 96.7,366.9 96.0,367.0 95.3,366.6 94.7,367.4 94.0,367.9 93.4,367.7 92.8,367.7 92.2,367.5 91.6,367.5 91.0,368.3 90.4,368.2 89.8,367.9 89.2,368.0 88.6,367.3 88.0,367.9 87.0,367.0 86.3,366.5 85.7,366.3 85.0,366.8 84.3,366.8 83.7,366.3 83.0,367.0 82.3,366.9 81.7,366.8 81.0,366.8Z" fill="#ff2400"/><path d="M81.0,365.0 81.7,365.5 82.3,365.8 83.0,365.4 83.7,365.7 84.3,365.5 85.0,365.4 85.7,365.6 86.3,365.7 87.0,365.9 87.8,365.6 88.5,364.3 89.2,364.2 90.0,363.9 90.7,364.2 91.3,364.4 92.0,364.3 92.7,364.4 93.3,364.6 94.0,364.6 94.7,365.1 95.3,365.9 96.0,365.7 96.7,365.5 97.3,365.2 98.0,364.6 98.7,365.7 99.3,364.4 100.0,363.2 100.7,364.6 101.4,362.1 102.2,364.2 103.0,363.9 103.6,364.0 104.3,364.5 104.9,364.1 105.5,359.2 106.0,363.0 106.6,363.7 107.2,363.0 107.6,360.5 108.1,363.6 108.7,365.3 109.4,364.3 110.0,363.9 111.0,363.4 111.3,360.9 111.8,363.4 112.4,364.8 113.1,364.3 113.7,363.6 114.4,365.4 115.0,363.4 115.6,363.5 116.2,365.2 116.8,363.7 117.4,363.6 118.0,363.6 118.6,363.8 119.2,365.0 119.8,365.6 120.4,363.8 121.0,363.8 121.6,364.4 122.2,364.3 122.9,364.9 123.5,363.6 124.1,363.4 124.5,362.2 125.0,363.8 125.7,364.5 126.3,364.4 127.0,364.3 127.6,365.3 128.2,364.0 128.8,365.4 129.4,363.6 130.0,363.0 130.7,363.2 131.3,364.3 132.0,362.9 132.7,363.8 133.3,363.2 134.0,363.3 134.7,364.4 135.3,363.7 136.0,363.8 136.7,364.9 137.3,364.5 138.0,362.9 138.7,363.9 139.3,361.5 140.0,357.1 141.0,358.9 141.8,363.3 142.5,365.2 143.5,356.2 144.5,360.7 145.5,359.3 146.2,361.2 147.0,362.0 147.7,362.7 148.3,362.8 149.0,362.4 149.7,364.2 150.3,361.9 151.0,361.6 151.7,361.5 152.3,360.1 153.0,359.3 153.7,359.5 154.3,359.6 155.0,359.6 155.7,360.4 156.3,360.0 157.0,359.8 157.7,360.4 158.3,361.3 159.0,361.1 159.6,360.7 160.2,360.5 160.9,360.1 161.5,359.3 162.5,358.6 163.2,360.0 164.0,360.4 164.7,360.7 165.3,360.3 166.0,359.6 166.7,359.3 167.3,358.8 168.0,358.2 168.7,357.4 169.3,357.2 170.0,355.7 170.7,355.1 171.3,354.1 172.0,352.5 173.0,351.4 173.8,351.8 174.5,352.1 175.2,354.5 176.0,356.4 176.7,358.1 177.3,359.2 178.0,360.0 178.7,360.7 179.3,361.7 180.0,362.1 180.6,362.6 181.2,361.9 181.8,361.7 182.4,361.7 183.0,361.4 183.6,362.0 184.2,362.2 184.8,361.7 185.4,361.8 186.0,361.8 186.6,361.8 187.2,361.8 187.8,361.9 188.4,361.5 189.0,361.4 189.6,361.4 190.2,361.2 190.8,361.8 191.4,361.3 192.0,360.7 192.6,360.9 193.2,361.9 193.8,361.4 194.4,361.8 195.0,361.8 195.6,362.8 196.2,362.8 196.8,363.0 197.4,362.9 198.0,362.9 198.6,362.8 199.2,363.0 199.8,362.4 200.4,362.3 201.0,362.1 201.6,362.5 202.2,362.4 202.8,362.8 203.4,363.3 204.0,362.9 204.6,363.4 205.2,363.2 205.8,363.3 206.4,363.2 207.0,362.9 207.6,362.9 208.2,363.1 208.8,362.9 209.4,363.1 210.0,362.5 210.6,363.2 211.2,362.7 211.8,362.8 212.4,363.0 213.0,362.5 213.6,362.9 214.2,362.9 214.8,363.4 215.4,363.7 216.0,363.2 216.6,364.0 217.2,364.2 217.9,364.7 218.5,364.3 219.1,364.5 219.8,364.2 220.4,363.7 221.0,363.2 221.6,363.2 222.2,363.3 222.8,362.8 223.4,362.9 224.0,362.5 224.6,363.1 225.2,363.0 225.8,362.9 226.4,362.6 227.0,362.5 227.6,362.9 228.2,363.0 228.8,363.3 229.4,363.3 230.0,363.2 230.7,363.6 231.3,363.8 232.0,363.1 232.7,363.4 233.3,363.5 234.0,362.9 234.7,362.9 235.3,362.8 236.0,363.1 236.7,362.2 237.3,362.3 238.0,361.8 238.7,362.0 239.3,362.6 240.0,362.9 240.7,362.6 241.3,362.4 242.0,362.5 242.7,362.8 243.3,362.8 244.0,363.0 244.7,362.8 245.3,362.9 246.0,362.5 246.7,363.0 247.3,362.7 248.0,362.5 248.7,363.0 249.3,362.2 250.0,362.1 250.7,362.6 251.3,362.3 252.0,362.6 252.7,362.1 253.3,362.9 254.0,362.1 254.7,362.4 255.3,362.4 256.0,362.6 256.7,362.8 257.3,362.8 258.0,362.9 258.7,363.2 259.3,363.2 260.0,363.5 260.7,363.3 261.3,363.3 262.0,363.2 262.7,363.2 263.3,363.6 264.0,363.8 264.7,363.3 265.3,363.0 266.0,362.9 266.6,363.3 267.2,362.8 267.8,362.5 268.4,362.3 269.0,362.1 269.7,362.1 270.3,361.5 271.0,360.4 271.7,361.1 272.3,361.3 273.0,361.4 273.7,361.5 274.3,361.0 275.0,360.7 275.7,361.0 276.3,359.9 277.0,359.3 277.8,358.3 278.5,356.4 279.0,357.6 280.0,360.8 280.7,361.9 281.3,362.5 282.0,362.4 282.7,361.5 283.3,360.1 284.0,358.8 284.7,358.6 285.3,357.8 286.0,357.2 287.0,353.2 287.8,351.0 288.5,347.6 289.2,350.0 290.0,352.0 290.7,353.3 291.3,353.4 292.0,354.0 292.8,353.4 293.5,352.4 294.5,336.0 295.0,333.3 295.8,328.6 296.5,323.7 297.5,328.0 298.5,339.3 299.5,346.7 300.5,350.0 301.5,346.0 302.2,344.7 303.0,343.0 303.8,342.2 304.5,341.3 305.2,342.2 306.0,343.0 306.7,344.2 307.3,344.5 308.0,345.0 308.7,345.4 309.3,345.8 310.0,346.0 310.7,346.0 311.3,345.8 312.0,345.3 312.5,339.3 313.5,345.3 314.2,346.1 315.0,346.0 316.0,344.7 316.7,345.0 317.3,344.6 318.0,344.3 318.7,344.7 319.3,344.3 320.0,343.3 320.7,343.6 321.3,344.6 322.0,344.3 322.7,345.1 323.3,345.1 324.0,344.7 324.7,345.7 325.3,347.3 326.0,347.7 326.7,349.0 327.3,349.4 328.0,350.3 328.5,351.7 329.5,351.7 330.5,348.3 331.2,349.0 332.0,349.7 332.7,350.4 333.3,350.1 334.0,349.7 334.7,349.1 335.3,348.4 336.0,347.7 336.7,347.6 337.3,347.5 338.0,347.3 338.8,347.3 339.5,346.3 340.2,349.3 341.0,352.0 342.0,351.7 342.7,350.8 343.3,350.6 344.0,349.0 344.6,349.1 345.2,348.1 345.9,348.2 346.5,347.0 347.2,348.1 347.8,349.1 348.5,349.3 349.2,351.2 349.8,352.9 350.5,353.7 351.0,353.7 351.8,349.6 352.5,344.3 353.2,346.1 354.0,346.6 355.0,347.4 356.0,352.8 357.0,356.8 357.8,356.2 358.5,355.4 359.2,355.0 360.0,353.7 360.5,350.1 361.2,351.5 362.0,352.3 362.7,352.5 363.3,351.9 364.0,351.4 364.7,351.8 365.3,351.2 366.0,350.6 367.0,349.2 367.7,350.3 368.3,351.4 369.0,352.3 369.7,352.9 370.3,353.8 371.0,354.1 371.7,355.0 372.3,356.2 373.0,356.8 373.7,357.4 374.3,358.3 375.0,358.6 375.7,358.1 376.3,357.4 377.0,356.3 377.8,358.1 378.5,358.6 379.1,358.7 379.8,359.4 380.4,359.2 381.0,359.0 381.6,359.5 382.2,359.8 382.8,360.2 383.4,359.9 384.0,359.9 384.6,360.5 385.2,361.4 385.8,361.0 386.4,361.7 387.0,361.7 387.6,362.4 388.2,362.4 388.8,363.1 389.4,363.5 390.0,363.4 390.6,364.2 391.2,363.8 391.8,364.5 392.4,364.1 393.0,363.9 393.7,364.2 394.3,364.6 395.0,363.9 395.6,363.7 396.2,364.0 396.8,363.7 397.4,363.3 398.0,362.9 398.6,363.2 399.2,362.5 399.8,362.3 400.4,362.0 401.0,361.4 401.6,361.8 402.2,361.2 402.8,361.2 403.4,361.1 404.0,360.7 404.6,361.0 405.2,361.2 405.8,360.6 406.4,361.1 407.0,360.4 407.6,360.5 408.2,360.5 408.8,360.3 409.4,360.4 410.0,360.0 410.6,360.9 411.2,360.7 411.8,361.0 412.4,360.7 413.0,360.7 413.6,361.1 414.2,361.4 414.8,361.9 415.4,362.2 416.0,362.1 416.6,362.8 417.2,362.4 417.8,363.1 418.4,363.4 419.0,362.9 419.7,363.6 420.3,363.6 421.0,363.9 421.6,364.0 422.2,363.7 422.8,363.7 423.4,364.3 424.0,363.5 424.6,363.5 425.2,363.2 425.8,362.9 426.4,362.7 427.0,361.6 427.7,361.5 428.3,361.1 429.0,360.2 430.0,348.7 430.5,348.2 431.5,353.1 432.5,360.2 433.5,355.8 434.2,353.1 435.0,349.6 435.8,348.5 436.5,346.5 437.2,346.4 438.0,345.6 438.7,347.4 439.3,348.3 440.0,349.6 441.0,349.1 442.0,345.1 442.7,345.7 443.3,345.7 444.0,345.6 444.7,346.6 445.3,346.5 446.0,346.9 446.8,349.2 447.5,351.3 448.2,353.8 449.0,356.2 449.7,357.3 450.3,358.1 451.0,358.0 451.7,358.4 452.3,358.2 453.0,358.0 453.7,358.8 454.3,358.9 455.0,358.5 455.7,359.4 456.3,359.7 457.0,360.2 457.7,360.8 458.3,361.4 459.0,361.6 459.7,362.6 460.3,363.6 461.0,364.2 461.8,363.5 462.5,362.0 463.2,363.8 464.0,364.2 464.7,363.5 465.3,363.1 466.0,362.0 466.7,361.6 467.3,361.2 468.0,360.7 468.7,361.6 469.3,361.6 470.0,361.6 470.7,361.9 471.3,361.0 472.0,360.4 472.6,360.6 473.2,361.0 473.8,361.4 474.4,361.9 475.0,361.4 475.6,362.6 476.2,362.5 476.8,362.9 477.4,363.2 478.0,363.6 478.6,363.9 479.2,363.5 479.8,363.4 480.4,363.3 481.0,363.2 481.6,363.1 482.2,363.4 482.8,362.8 483.4,363.4 484.0,362.5 484.6,362.9 485.2,363.9 485.8,363.6 486.4,363.9 487.0,364.3 487.6,364.6 488.2,364.0 488.8,364.1 489.4,363.5 490.0,363.2 490.7,363.0 491.3,363.4 492.0,362.7 492.6,363.5 493.2,364.0 493.8,364.2 494.4,364.0 495.0,364.3 495.6,364.9 496.2,365.2 496.8,365.2 497.4,365.9 498.0,365.4 499.0,364.6 499.6,364.9 500.2,365.7 500.8,365.6 501.4,365.2 502.0,365.4 502.7,365.3 503.3,365.6 504.0,365.6 504.7,364.9 505.3,364.9 506.0,364.6 506.7,365.0 507.3,364.4 508.0,364.9 508.7,364.4 509.3,364.0 510.0,363.9 510.7,364.0 511.3,364.1 512.0,364.0 512.7,364.1 513.3,363.7 514.0,363.6 514.7,364.1 515.3,363.6 516.0,363.8 516.7,363.7 517.3,363.5 518.0,363.2 518.7,363.6 519.3,364.2 520.0,363.9 520.6,364.8 521.2,364.7 521.8,364.7 522.4,364.6 523.0,364.6 523.7,364.3 524.3,364.7 525.0,363.6 525.6,363.3 526.2,362.8 526.9,361.6 527.5,360.7 528.1,361.5 528.8,362.4 529.4,362.7 530.0,362.5 530.6,362.7 531.2,362.4 531.8,362.3 532.4,362.6 533.0,361.8 533.6,362.3 534.2,362.8 534.8,363.0 535.4,363.6 536.0,363.2 536.6,363.7 537.2,363.2 537.8,363.0 538.4,363.1 539.0,362.9 539.6,363.2 540.2,363.4 540.8,363.7 541.4,363.8 542.0,363.2 542.6,363.1 543.2,363.5 543.8,363.4 544.4,363.3 545.0,362.5 545.6,363.0 546.2,362.9 546.8,363.5 547.4,363.6 548.0,363.2 548.7,363.0 549.3,362.5 550.0,361.1 551.0,360.4 551.7,360.9 552.3,361.1 553.0,361.4 553.7,362.5 554.3,363.4 555.0,363.6 555.7,363.5 556.3,363.9 557.0,363.2 557.7,363.5 558.3,362.4 559.0,361.8 559.7,361.2 560.3,360.3 561.0,358.9 561.7,359.5 562.3,359.7 563.0,360.0 563.7,359.9 564.3,360.1 565.0,359.3 565.7,360.6 566.3,360.9 567.0,361.4 567.7,361.8 568.3,362.7 569.0,362.5 570.0,361.1 570.7,361.5 571.3,360.9 572.0,360.7 572.7,360.8 573.3,360.9 574.0,360.0 574.7,360.4 575.3,359.8 576.0,359.3 576.7,360.3 577.3,361.1 578.0,361.4 578.6,361.5 579.2,361.5 579.8,361.5 580.4,361.9 581.0,361.4 581.6,361.7 582.2,362.0 582.8,362.0 583.4,362.3 584.0,362.1 584.6,362.4 585.2,362.5 585.8,363.6 586.4,363.2 587.0,363.2 587.6,363.3 588.2,363.8 588.8,364.0 589.4,363.6 590.0,363.6 590.6,364.0 591.2,363.9 591.8,364.1 592.4,363.8 593.0,363.9 593.6,364.0 594.2,365.0 594.8,365.0 595.4,364.7 596.0,364.6 596.6,364.7 597.2,364.1 597.8,364.3 598.4,363.7 599.0,363.2 599.7,363.8 600.3,363.5 601.0,362.9 601.7,363.8 602.3,364.3 603.0,363.9 603.6,364.1 604.2,364.1 604.8,364.2 605.4,364.3 606.0,364.3 606.7,364.3 607.3,364.3 608.0,364.6 608.7,364.9 609.3,364.5 610.0,364.3 610.7,365.0 611.3,365.0 612.0,364.3 612.7,364.7 613.3,364.5 614.0,364.3 614.7,364.6 615.3,365.5 616.0,365.0 616.7,364.9 617.3,364.9 618.0,364.7 618.7,364.8 619.3,364.3 620.0,363.6 620.6,363.7 621.2,363.6 621.8,363.2 622.4,363.8 623.0,362.9 623.6,363.8 624.2,363.3 624.8,363.3 625.4,363.6 626.0,363.6 626.6,363.4 627.2,363.5 627.9,363.2 628.5,362.1 629.1,363.2 629.8,363.0 630.4,364.0 631.0,363.9 631.6,363.8 632.2,363.1 632.9,362.8 633.5,361.4 634.1,361.8 634.8,362.2 635.4,363.0 636.0,362.9 636.6,363.9 637.2,363.9 637.8,363.9 638.4,364.4 639.0,364.3 639.6,365.0 640.2,364.6 640.8,364.9 641.4,365.0 642.0,365.0 642.6,365.0 643.2,365.1 643.8,364.8 644.4,364.8 645.0,364.6 645.6,364.6 646.2,365.0 646.8,364.6 647.4,365.1 648.0,364.6 L648.0,368.2 647.4,368.1 646.8,368.0 646.1,367.7 645.5,367.3 644.9,367.6 644.2,367.6 643.6,367.2 643.0,367.9 642.4,367.7 641.8,367.3 641.2,367.4 640.6,367.0 640.0,367.1 639.4,367.0 638.8,367.5 638.2,367.4 637.6,367.2 637.0,368.2 636.4,367.9 635.8,368.5 635.2,368.1 634.6,368.0 634.0,368.9 633.3,368.7 632.7,368.4 632.0,368.2 631.3,368.2 630.7,368.2 630.0,368.1 629.3,368.3 628.7,368.5 628.0,368.6 627.3,368.3 626.7,368.0 626.0,368.3 625.3,368.2 624.7,368.3 624.0,368.2 623.3,368.1 622.7,367.9 622.0,367.9 621.3,368.0 620.7,367.3 620.0,367.9 619.3,367.4 618.7,367.6 618.0,367.5 617.3,367.5 616.7,367.8 616.0,367.9 615.3,367.4 614.7,367.7 614.0,367.5 613.3,367.9 612.7,367.8 612.0,368.2 611.3,368.2 610.7,367.6 610.0,368.2 609.3,368.2 608.7,367.6 608.0,368.4 607.3,368.1 606.7,368.0 606.0,368.2 605.3,368.2 604.7,367.8 604.0,368.2 603.4,367.9 602.8,368.4 602.2,368.5 601.6,368.7 601.0,368.9 600.4,368.6 599.8,368.6 599.2,368.7 598.6,368.6 598.0,368.6 597.4,368.0 596.8,367.6 596.2,366.9 595.6,367.1 595.0,367.1 594.4,367.1 593.8,366.7 593.2,366.9 592.6,367.4 592.0,367.5 591.4,367.0 590.8,367.6 590.2,367.0 589.6,367.5 589.0,367.9 588.4,367.7 587.8,367.6 587.2,368.1 586.6,367.9 586.0,368.2 585.4,367.9 584.8,367.9 584.2,368.1 583.6,368.3 583.0,368.9 582.4,368.3 581.8,369.0 581.2,368.6 580.6,369.4 580.0,369.6 579.4,369.6 578.8,369.2 578.2,369.3 577.6,369.7 577.0,370.0 576.4,369.7 575.8,370.3 575.2,369.9 574.6,369.9 574.0,370.7 573.4,370.5 572.8,369.9 572.2,370.3 571.6,370.0 571.0,370.0 570.3,369.9 569.7,369.4 569.0,369.6 568.3,369.3 567.7,370.3 567.0,370.7 566.3,370.7 565.7,370.4 565.0,371.1 564.4,370.4 563.8,370.8 563.2,370.5 562.6,370.1 562.0,370.4 561.4,370.0 560.8,369.9 560.2,369.3 559.6,369.2 559.0,369.3 558.4,368.5 557.8,369.0 557.2,368.5 556.6,368.6 556.0,368.6 555.3,369.1 554.7,369.3 554.0,370.0 553.4,369.9 552.8,370.1 552.2,370.2 551.6,370.3 551.0,370.4 550.3,370.1 549.7,369.4 549.0,369.6 548.4,369.0 547.8,368.6 547.2,369.1 546.6,369.0 546.0,368.9 545.3,368.5 544.7,368.6 544.0,368.1 543.3,368.6 542.7,368.2 542.0,368.6 541.3,368.2 540.7,368.5 540.0,368.6 539.3,368.4 538.7,368.4 538.0,368.9 537.3,368.9 536.7,368.8 536.0,368.9 535.3,368.3 534.7,368.2 534.0,368.9 533.3,368.3 532.7,368.1 532.0,368.5 531.3,368.6 530.7,368.2 530.0,368.6 529.4,369.0 528.8,369.4 528.1,369.8 527.5,370.4 526.8,369.8 526.0,369.3 525.4,369.0 524.8,368.6 524.2,368.5 523.6,368.1 523.0,368.2 522.4,368.1 521.8,367.7 521.2,367.9 520.6,367.4 520.0,368.0 519.3,367.9 518.7,367.9 518.0,367.8 517.3,367.8 516.7,367.6 516.0,367.9 515.3,367.5 514.7,367.7 514.0,367.4 513.3,367.8 512.7,367.6 512.0,367.9 511.3,367.7 510.7,368.0 510.0,367.4 509.3,368.0 508.7,367.8 508.0,368.2 507.3,368.1 506.7,368.0 506.0,367.8 505.3,367.5 504.7,368.1 504.0,368.2 503.3,367.7 502.7,368.2 502.0,368.0 501.3,368.1 500.7,367.9 500.0,368.2 499.3,367.5 498.7,368.1 498.0,367.4 497.3,368.0 496.7,367.7 496.0,368.2 495.4,368.2 494.8,368.4 494.2,368.0 493.6,368.1 493.0,368.9 492.4,368.7 491.8,368.9 491.2,368.3 490.6,368.8 490.0,368.9 489.4,368.7 488.8,368.0 488.2,368.3 487.6,367.9 487.0,367.9 486.4,367.6 485.8,368.2 485.2,368.2 484.6,368.3 484.0,368.6 483.4,368.4 482.8,368.2 482.2,368.0 481.6,367.4 481.0,367.9 480.4,367.9 479.8,368.0 479.2,367.9 478.6,367.9 478.0,368.2 477.4,368.0 476.8,368.4 476.2,368.3 475.6,368.6 475.0,368.9 474.4,368.2 473.8,369.0 473.2,369.0 472.6,369.2 472.0,369.4 471.3,369.2 470.7,368.6 470.0,369.1 469.4,368.8 468.8,368.3 468.2,368.7 467.6,368.7 467.0,368.7 466.4,368.1 465.8,368.3 465.2,368.3 464.6,367.6 464.0,368.2 463.4,367.8 462.8,367.1 462.2,367.3 461.6,367.4 461.0,367.4 460.4,367.1 459.8,367.2 459.2,368.0 458.6,367.8 458.0,368.7 457.4,368.2 456.8,369.1 456.2,369.1 455.6,369.0 455.0,369.6 454.4,369.4 453.8,368.8 453.2,369.2 452.6,368.9 452.0,369.6 451.3,369.7 450.7,369.7 450.0,370.0 449.3,370.8 448.7,371.9 448.0,373.1 447.3,373.2 446.7,373.3 446.0,374.5 445.3,374.5 444.7,374.4 444.0,374.5 443.3,374.3 442.7,374.0 442.0,374.0 441.3,373.1 440.7,373.1 440.0,372.9 439.3,372.1 438.7,372.4 438.0,372.2 437.3,372.4 436.7,372.0 436.0,372.8 435.3,371.6 434.7,370.7 434.0,370.5 433.2,369.2 432.5,368.5 431.8,370.9 431.0,373.5 430.0,373.6 429.0,370.9 428.3,370.0 427.7,369.1 427.0,368.2 426.3,367.3 425.7,367.4 425.0,367.1 424.4,367.0 423.8,366.8 423.2,366.6 422.6,366.1 422.0,366.8 421.4,366.8 420.8,366.9 420.2,367.5 419.6,367.6 419.0,368.2 418.4,367.9 417.8,368.1 417.2,367.8 416.6,367.8 416.0,368.2 415.4,367.4 414.8,367.8 414.2,367.8 413.6,367.2 413.0,367.5 412.4,367.2 411.8,366.7 411.2,366.9 410.6,366.9 410.0,366.8 409.4,366.5 408.8,366.1 408.2,366.8 407.6,366.7 407.0,367.1 406.4,366.8 405.8,367.2 405.2,367.3 404.6,367.1 404.0,367.5 403.4,367.1 402.8,367.2 402.2,367.2 401.6,367.0 401.0,367.1 400.4,366.5 399.8,366.5 399.2,366.7 398.6,367.0 398.0,367.5 397.4,366.7 396.8,367.3 396.2,367.0 395.6,366.6 395.0,367.1 394.3,366.2 393.7,366.8 393.0,366.8 392.3,366.7 391.7,366.2 391.0,366.8 390.4,366.3 389.8,366.2 389.2,365.3 388.6,365.5 388.0,365.7 387.3,365.3 386.7,365.2 386.0,364.6 385.3,364.6 384.7,364.8 384.0,365.0 383.3,364.6 382.7,364.7 382.0,364.7 381.3,364.8 380.7,364.5 380.0,364.8 379.4,364.3 378.8,363.9 378.2,364.3 377.6,364.0 377.0,364.3 376.4,364.3 375.8,364.5 375.2,364.4 374.6,364.7 374.0,365.2 373.3,365.2 372.7,365.0 372.0,366.1 371.3,366.1 370.7,366.2 370.0,367.0 369.3,366.6 368.7,367.3 368.0,367.9 367.3,367.9 366.7,368.5 366.0,368.8 365.3,368.9 364.7,368.4 364.0,369.2 363.3,369.3 362.7,369.7 362.0,370.1 361.3,369.6 360.7,370.1 360.0,371.0 359.3,370.1 358.7,370.3 358.0,370.1 357.3,369.6 356.7,370.4 356.0,370.6 355.3,370.9 354.7,371.5 354.0,372.5 353.3,372.3 352.7,372.0 352.0,372.0 351.3,371.2 350.7,370.2 350.0,369.7 349.3,369.5 348.7,369.3 348.0,370.0 347.3,369.5 346.7,370.1 346.0,370.3 345.3,370.2 344.7,370.2 344.0,370.7 343.3,370.6 342.7,370.8 342.0,371.0 341.3,370.7 340.7,371.2 340.0,371.7 339.3,371.6 338.7,371.7 338.0,372.0 337.3,372.0 336.7,372.0 336.0,373.0 335.3,372.2 334.7,372.3 334.0,372.3 333.3,371.6 332.7,370.9 332.0,371.3 331.3,371.4 330.7,371.6 330.0,372.3 329.3,371.2 328.7,371.2 328.0,370.7 327.3,370.2 326.7,371.1 326.0,371.3 325.3,371.2 324.7,372.0 324.0,373.0 323.3,372.5 322.7,372.9 322.0,373.3 321.3,372.8 320.7,372.8 320.0,373.3 319.3,372.8 318.7,373.0 318.0,373.3 317.0,372.5 316.3,372.1 315.7,372.3 315.0,373.2 314.3,373.9 313.7,374.9 313.0,376.4 312.3,375.2 311.7,374.1 311.0,373.2 310.3,373.3 309.7,373.0 309.0,373.6 308.3,373.2 307.7,374.3 307.0,374.8 306.3,373.8 305.7,372.4 305.0,372.0 304.3,371.0 303.7,370.2 303.0,369.6 302.2,371.0 301.5,372.4 300.8,373.8 300.0,375.6 299.0,374.4 298.0,378.0 297.0,380.8 296.0,381.2 295.0,376.4 294.0,369.6 293.3,369.2 292.7,370.1 292.0,370.4 291.3,371.3 290.7,371.7 290.0,373.2 289.3,372.5 288.7,371.3 288.0,371.6 287.3,370.9 286.7,370.3 286.0,370.0 285.3,369.9 284.7,370.4 284.0,370.8 283.3,369.2 282.7,368.8 282.0,368.0 281.3,368.3 280.7,368.2 280.0,368.8 279.3,368.3 278.7,367.8 278.0,367.8 277.3,367.8 276.7,368.0 276.0,368.2 275.4,367.9 274.8,367.7 274.2,367.4 273.6,367.3 273.0,367.5 272.4,367.4 271.8,367.3 271.2,367.8 270.6,367.6 270.0,368.2 269.3,367.9 268.7,367.8 268.0,367.6 267.3,367.9 266.7,368.2 266.0,368.2 265.3,368.1 264.7,368.1 264.0,368.0 263.3,368.1 262.7,368.2 262.0,368.2 261.3,368.2 260.7,368.3 260.0,368.1 259.3,368.2 258.7,368.4 258.0,368.6 257.3,368.2 256.7,367.7 256.0,368.0 255.3,368.3 254.7,367.8 254.0,368.2 253.3,368.0 252.7,368.0 252.0,367.3 251.3,367.8 250.7,367.6 250.0,367.9 249.3,367.8 248.7,367.5 248.0,367.2 247.3,367.6 246.7,367.8 246.0,367.9 245.3,367.5 244.7,367.8 244.0,367.5 243.3,367.9 242.7,367.2 242.0,367.9 241.3,367.3 240.7,367.4 240.0,367.6 239.3,367.4 238.7,367.6 238.0,368.2 237.3,367.4 236.7,368.1 236.0,368.0 235.3,367.7 234.7,367.7 234.0,367.9 233.3,368.0 232.7,367.7 232.0,367.9 231.3,367.8 230.7,368.0 230.0,368.3 229.3,368.4 228.7,368.0 228.0,368.9 227.4,368.1 226.8,368.5 226.2,368.7 225.6,368.0 225.0,368.6 224.4,367.8 223.8,367.5 223.2,367.4 222.6,366.9 222.0,367.5 221.4,367.1 220.8,367.1 220.2,367.0 219.6,366.8 219.0,366.8 218.4,366.3 217.8,366.2 217.2,366.8 216.6,366.7 216.0,367.1 215.4,366.6 214.8,367.0 214.2,367.1 213.6,366.7 213.0,367.5 212.4,366.9 211.8,367.4 211.2,367.0 210.6,367.2 210.0,367.5 209.4,367.5 208.8,366.9 208.2,367.1 207.6,367.5 207.0,367.5 206.4,367.3 205.8,367.5 205.2,367.4 204.6,367.2 204.0,367.5 203.4,367.1 202.8,367.3 202.2,367.3 201.6,366.7 201.0,367.1 200.4,366.4 199.8,367.0 199.2,366.6 198.6,366.7 198.0,367.0 197.4,366.6 196.8,366.5 196.2,366.9 195.6,366.8 195.0,366.8 194.4,366.3 193.8,366.8 193.2,366.8 192.6,366.2 192.0,366.8 191.4,366.7 190.8,366.8 190.2,366.7 189.6,366.7 189.0,366.8 188.4,366.3 187.8,367.2 187.2,367.1 186.6,367.4 186.0,367.9 185.4,367.7 184.8,367.7 184.2,367.3 183.6,367.5 183.0,368.2 182.4,368.1 181.8,367.6 181.2,367.9 180.6,367.6 180.0,368.0 179.4,367.9 178.8,367.4 178.2,367.5 177.6,367.7 177.0,368.2 176.3,368.6 175.7,368.8 175.0,369.6 174.3,369.5 173.7,369.6 173.0,370.1 172.3,370.1 171.7,369.7 171.0,370.0 170.3,369.7 169.7,369.7 169.0,369.6 168.3,368.9 167.7,367.9 167.0,367.9 166.4,367.8 165.8,367.8 165.2,367.2 164.6,367.6 164.0,367.9 163.4,367.3 162.8,368.2 162.2,368.0 161.6,367.8 161.0,368.6 160.4,367.8 159.8,368.2 159.2,367.6 158.6,368.0 158.0,367.9 157.4,367.5 156.8,367.8 156.2,367.6 155.6,368.1 155.0,368.2 154.4,368.4 153.8,368.4 153.1,368.4 152.5,369.3 151.9,368.5 151.2,368.4 150.6,368.4 150.0,368.2 149.3,367.7 148.7,367.0 148.0,367.1 147.4,366.5 146.8,367.1 146.2,367.1 145.6,367.0 145.0,367.1 144.4,366.6 143.8,366.7 143.2,367.7 142.6,367.9 142.0,368.2 141.4,367.8 140.8,368.4 140.2,367.6 139.6,368.4 139.0,368.9 138.4,368.5 137.8,367.9 137.2,367.1 136.6,367.8 136.0,367.5 135.4,367.5 134.8,367.4 134.2,366.9 133.6,367.8 133.0,367.9 132.4,366.9 131.8,368.0 131.2,367.6 130.6,368.4 130.0,368.6 129.0,368.1 128.3,366.8 127.7,367.4 127.0,367.4 126.4,367.4 125.8,366.3 125.2,366.2 124.6,366.2 124.0,367.4 123.4,367.3 122.8,367.6 122.2,367.7 121.6,367.8 121.0,368.1 120.4,367.7 119.8,368.0 119.2,367.4 118.6,367.1 118.0,368.1 117.4,368.3 116.8,367.3 116.2,368.7 115.6,367.9 115.0,369.1 114.3,368.7 113.7,368.2 113.0,368.4 112.3,368.7 111.7,368.9 111.0,369.5 110.3,368.3 109.7,368.9 109.0,368.8 108.3,368.9 107.7,368.7 107.0,369.2 106.3,368.6 105.7,367.4 105.0,367.9 104.3,368.0 103.7,367.7 103.0,368.3 102.2,368.1 101.5,369.4 100.8,368.8 100.0,368.3 99.3,367.9 98.7,367.6 98.0,367.4 97.3,366.8 96.7,366.9 96.0,367.0 95.3,366.6 94.7,367.4 94.0,367.9 93.4,367.7 92.8,367.7 92.2,367.5 91.6,367.5 91.0,368.3 90.4,368.2 89.8,367.9 89.2,368.0 88.6,367.3 88.0,367.9 87.0,367.0 86.3,366.5 85.7,366.3 85.0,366.8 84.3,366.8 83.7,366.3 83.0,367.0 82.3,366.9 81.7,366.8 81.0,366.8Z" fill="#ff9900" clip-path="url(#ob)"/><polyline points="81.0,365.0 81.7,365.5 82.3,365.8 83.0,365.4 83.7,365.7 84.3,365.5 85.0,365.4 85.7,365.6 86.3,365.7 87.0,365.9 87.8,365.6 88.5,364.3 89.2,364.2 90.0,363.9 90.7,364.2 91.3,364.4 92.0,364.3 92.7,364.4 93.3,364.6 94.0,364.6 94.7,365.1 95.3,365.9 96.0,365.7 96.7,365.5 97.3,365.2 98.0,364.6 98.7,365.7 99.3,364.4 100.0,363.2 100.7,364.6 101.4,362.1 102.2,364.2 103.0,363.9 103.6,364.0 104.3,364.5 104.9,364.1 105.5,359.2 106.0,363.0 106.6,363.7 107.2,363.0 107.6,360.5 108.1,363.6 108.7,365.3 109.4,364.3 110.0,363.9 111.0,363.4 111.3,360.9 111.8,363.4 112.4,364.8 113.1,364.3 113.7,363.6 114.4,365.4 115.0,363.4 115.6,363.5 116.2,365.2 116.8,363.7 117.4,363.6 118.0,363.6 118.6,363.8 119.2,365.0 119.8,365.6 120.4,363.8 121.0,363.8 121.6,364.4 122.2,364.3 122.9,364.9 123.5,363.6 124.1,363.4 124.5,362.2 125.0,363.8 125.7,364.5 126.3,364.4 127.0,364.3 127.6,365.3 128.2,364.0 128.8,365.4 129.4,363.6 130.0,363.0 130.7,363.2 131.3,364.3 132.0,362.9 132.7,363.8 133.3,363.2 134.0,363.3 134.7,364.4 135.3,363.7 136.0,363.8 136.7,364.9 137.3,364.5 138.0,362.9 138.7,363.9 139.3,361.5 140.0,357.1 141.0,358.9 141.8,363.3 142.5,365.2 143.5,356.2 144.5,360.7 145.5,359.3 146.2,361.2 147.0,362.0 147.7,362.7 148.3,362.8 149.0,362.4 149.7,364.2 150.3,361.9 151.0,361.6 151.7,361.5 152.3,360.1 153.0,359.3 153.7,359.5 154.3,359.6 155.0,359.6 155.7,360.4 156.3,360.0 157.0,359.8 157.7,360.4 158.3,361.3 159.0,361.1 159.6,360.7 160.2,360.5 160.9,360.1 161.5,359.3 162.5,358.6 163.2,360.0 164.0,360.4 164.7,360.7 165.3,360.3 166.0,359.6 166.7,359.3 167.3,358.8 168.0,358.2 168.7,357.4 169.3,357.2 170.0,355.7 170.7,355.1 171.3,354.1 172.0,352.5 173.0,351.4 173.8,351.8 174.5,352.1 175.2,354.5 176.0,356.4 176.7,358.1 177.3,359.2 178.0,360.0 178.7,360.7 179.3,361.7 180.0,362.1 180.6,362.6 181.2,361.9 181.8,361.7 182.4,361.7 183.0,361.4 183.6,362.0 184.2,362.2 184.8,361.7 185.4,361.8 186.0,361.8 186.6,361.8 187.2,361.8 187.8,361.9 188.4,361.5 189.0,361.4 189.6,361.4 190.2,361.2 190.8,361.8 191.4,361.3 192.0,360.7 192.6,360.9 193.2,361.9 193.8,361.4 194.4,361.8 195.0,361.8 195.6,362.8 196.2,362.8 196.8,363.0 197.4,362.9 198.0,362.9 198.6,362.8 199.2,363.0 199.8,362.4 200.4,362.3 201.0,362.1 201.6,362.5 202.2,362.4 202.8,362.8 203.4,363.3 204.0,362.9 204.6,363.4 205.2,363.2 205.8,363.3 206.4,363.2 207.0,362.9 207.6,362.9 208.2,363.1 208.8,362.9 209.4,363.1 210.0,362.5 210.6,363.2 211.2,362.7 211.8,362.8 212.4,363.0 213.0,362.5 213.6,362.9 214.2,362.9 214.8,363.4 215.4,363.7 216.0,363.2 216.6,364.0 217.2,364.2 217.9,364.7 218.5,364.3 219.1,364.5 219.8,364.2 220.4,363.7 221.0,363.2 221.6,363.2 222.2,363.3 222.8,362.8 223.4,362.9 224.0,362.5 224.6,363.1 225.2,363.0 225.8,362.9 226.4,362.6 227.0,362.5 227.6,362.9 228.2,363.0 228.8,363.3 229.4,363.3 230.0,363.2 230.7,363.6 231.3,363.8 232.0,363.1 232.7,363.4 233.3,363.5 234.0,362.9 234.7,362.9 235.3,362.8 236.0,363.1 236.7,362.2 237.3,362.3 238.0,361.8 238.7,362.0 239.3,362.6 240.0,362.9 240.7,362.6 241.3,362.4 242.0,362.5 242.7,362.8 243.3,362.8 244.0,363.0 244.7,362.8 245.3,362.9 246.0,362.5 246.7,363.0 247.3,362.7 248.0,362.5 248.7,363.0 249.3,362.2 250.0,362.1 250.7,362.6 251.3,362.3 252.0,362.6 252.7,362.1 253.3,362.9 254.0,362.1 254.7,362.4 255.3,362.4 256.0,362.6 256.7,362.8 257.3,362.8 258.0,362.9 258.7,363.2 259.3,363.2 260.0,363.5 260.7,363.3 261.3,363.3 262.0,363.2 262.7,363.2 263.3,363.6 264.0,363.8 264.7,363.3 265.3,363.0 266.0,362.9 266.6,363.3 267.2,362.8 267.8,362.5 268.4,362.3 269.0,362.1 269.7,362.1 270.3,361.5 271.0,360.4 271.7,361.1 272.3,361.3 273.0,361.4 273.7,361.5 274.3,361.0 275.0,360.7 275.7,361.0 276.3,359.9 277.0,359.3 277.8,358.3 278.5,356.4 279.0,357.6 280.0,360.8 280.7,361.9 281.3,362.5 282.0,362.4 282.7,361.5 283.3,360.1 284.0,358.8 284.7,358.6 285.3,357.8 286.0,357.2 287.0,353.2 287.8,351.0 288.5,347.6 289.2,350.0 290.0,352.0 290.7,353.3 291.3,353.4 292.0,354.0 292.8,353.4 293.5,352.4 294.5,336.0 295.0,333.3 295.8,328.6 296.5,323.7 297.5,328.0 298.5,339.3 299.5,346.7 300.5,350.0 301.5,346.0 302.2,344.7 303.0,343.0 303.8,342.2 304.5,341.3 305.2,342.2 306.0,343.0 306.7,344.2 307.3,344.5 308.0,345.0 308.7,345.4 309.3,345.8 310.0,346.0 310.7,346.0 311.3,345.8 312.0,345.3 312.5,339.3 313.5,345.3 314.2,346.1 315.0,346.0 316.0,344.7 316.7,345.0 317.3,344.6 318.0,344.3 318.7,344.7 319.3,344.3 320.0,343.3 320.7,343.6 321.3,344.6 322.0,344.3 322.7,345.1 323.3,345.1 324.0,344.7 324.7,345.7 325.3,347.3 326.0,347.7 326.7,349.0 327.3,349.4 328.0,350.3 328.5,351.7 329.5,351.7 330.5,348.3 331.2,349.0 332.0,349.7 332.7,350.4 333.3,350.1 334.0,349.7 334.7,349.1 335.3,348.4 336.0,347.7 336.7,347.6 337.3,347.5 338.0,347.3 338.8,347.3 339.5,346.3 340.2,349.3 341.0,352.0 342.0,351.7 342.7,350.8 343.3,350.6 344.0,349.0 344.6,349.1 345.2,348.1 345.9,348.2 346.5,347.0 347.2,348.1 347.8,349.1 348.5,349.3 349.2,351.2 349.8,352.9 350.5,353.7 351.0,353.7 351.8,349.6 352.5,344.3 353.2,346.1 354.0,346.6 355.0,347.4 356.0,352.8 357.0,356.8 357.8,356.2 358.5,355.4 359.2,355.0 360.0,353.7 360.5,350.1 361.2,351.5 362.0,352.3 362.7,352.5 363.3,351.9 364.0,351.4 364.7,351.8 365.3,351.2 366.0,350.6 367.0,349.2 367.7,350.3 368.3,351.4 369.0,352.3 369.7,352.9 370.3,353.8 371.0,354.1 371.7,355.0 372.3,356.2 373.0,356.8 373.7,357.4 374.3,358.3 375.0,358.6 375.7,358.1 376.3,357.4 377.0,356.3 377.8,358.1 378.5,358.6 379.1,358.7 379.8,359.4 380.4,359.2 381.0,359.0 381.6,359.5 382.2,359.8 382.8,360.2 383.4,359.9 384.0,359.9 384.6,360.5 385.2,361.4 385.8,361.0 386.4,361.7 387.0,361.7 387.6,362.4 388.2,362.4 388.8,363.1 389.4,363.5 390.0,363.4 390.6,364.2 391.2,363.8 391.8,364.5 392.4,364.1 393.0,363.9 393.7,364.2 394.3,364.6 395.0,363.9 395.6,363.7 396.2,364.0 396.8,363.7 397.4,363.3 398.0,362.9 398.6,363.2 399.2,362.5 399.8,362.3 400.4,362.0 401.0,361.4 401.6,361.8 402.2,361.2 402.8,361.2 403.4,361.1 404.0,360.7 404.6,361.0 405.2,361.2 405.8,360.6 406.4,361.1 407.0,360.4 407.6,360.5 408.2,360.5 408.8,360.3 409.4,360.4 410.0,360.0 410.6,360.9 411.2,360.7 411.8,361.0 412.4,360.7 413.0,360.7 413.6,361.1 414.2,361.4 414.8,361.9 415.4,362.2 416.0,362.1 416.6,362.8 417.2,362.4 417.8,363.1 418.4,363.4 419.0,362.9 419.7,363.6 420.3,363.6 421.0,363.9 421.6,364.0 422.2,363.7 422.8,363.7 423.4,364.3 424.0,363.5 424.6,363.5 425.2,363.2 425.8,362.9 426.4,362.7 427.0,361.6 427.7,361.5 428.3,361.1 429.0,360.2 430.0,348.7 430.5,348.2 431.5,353.1 432.5,360.2 433.5,355.8 434.2,353.1 435.0,349.6 435.8,348.5 436.5,346.5 437.2,346.4 438.0,345.6 438.7,347.4 439.3,348.3 440.0,349.6 441.0,349.1 442.0,345.1 442.7,345.7 443.3,345.7 444.0,345.6 444.7,346.6 445.3,346.5 446.0,346.9 446.8,349.2 447.5,351.3 448.2,353.8 449.0,356.2 449.7,357.3 450.3,358.1 451.0,358.0 451.7,358.4 452.3,358.2 453.0,358.0 453.7,358.8 454.3,358.9 455.0,358.5 455.7,359.4 456.3,359.7 457.0,360.2 457.7,360.8 458.3,361.4 459.0,361.6 459.7,362.6 460.3,363.6 461.0,364.2 461.8,363.5 462.5,362.0 463.2,363.8 464.0,364.2 464.7,363.5 465.3,363.1 466.0,362.0 466.7,361.6 467.3,361.2 468.0,360.7 468.7,361.6 469.3,361.6 470.0,361.6 470.7,361.9 471.3,361.0 472.0,360.4 472.6,360.6 473.2,361.0 473.8,361.4 474.4,361.9 475.0,361.4 475.6,362.6 476.2,362.5 476.8,362.9 477.4,363.2 478.0,363.6 478.6,363.9 479.2,363.5 479.8,363.4 480.4,363.3 481.0,363.2 481.6,363.1 482.2,363.4 482.8,362.8 483.4,363.4 484.0,362.5 484.6,362.9 485.2,363.9 485.8,363.6 486.4,363.9 487.0,364.3 487.6,364.6 488.2,364.0 488.8,364.1 489.4,363.5 490.0,363.2 490.7,363.0 491.3,363.4 492.0,362.7 492.6,363.5 493.2,364.0 493.8,364.2 494.4,364.0 495.0,364.3 495.6,364.9 496.2,365.2 496.8,365.2 497.4,365.9 498.0,365.4 499.0,364.6 499.6,364.9 500.2,365.7 500.8,365.6 501.4,365.2 502.0,365.4 502.7,365.3 503.3,365.6 504.0,365.6 504.7,364.9 505.3,364.9 506.0,364.6 506.7,365.0 507.3,364.4 508.0,364.9 508.7,364.4 509.3,364.0 510.0,363.9 510.7,364.0 511.3,364.1 512.0,364.0 512.7,364.1 513.3,363.7 514.0,363.6 514.7,364.1 515.3,363.6 516.0,363.8 516.7,363.7 517.3,363.5 518.0,363.2 518.7,363.6 519.3,364.2 520.0,363.9 520.6,364.8 521.2,364.7 521.8,364.7 522.4,364.6 523.0,364.6 523.7,364.3 524.3,364.7 525.0,363.6 525.6,363.3 526.2,362.8 526.9,361.6 527.5,360.7 528.1,361.5 528.8,362.4 529.4,362.7 530.0,362.5 530.6,362.7 531.2,362.4 531.8,362.3 532.4,362.6 533.0,361.8 533.6,362.3 534.2,362.8 534.8,363.0 535.4,363.6 536.0,363.2 536.6,363.7 537.2,363.2 537.8,363.0 538.4,363.1 539.0,362.9 539.6,363.2 540.2,363.4 540.8,363.7 541.4,363.8 542.0,363.2 542.6,363.1 543.2,363.5 543.8,363.4 544.4,363.3 545.0,362.5 545.6,363.0 546.2,362.9 546.8,363.5 547.4,363.6 548.0,363.2 548.7,363.0 549.3,362.5 550.0,361.1 551.0,360.4 551.7,360.9 552.3,361.1 553.0,361.4 553.7,362.5 554.3,363.4 555.0,363.6 555.7,363.5 556.3,363.9 557.0,363.2 557.7,363.5 558.3,362.4 559.0,361.8 559.7,361.2 560.3,360.3 561.0,358.9 561.7,359.5 562.3,359.7 563.0,360.0 563.7,359.9 564.3,360.1 565.0,359.3 565.7,360.6 566.3,360.9 567.0,361.4 567.7,361.8 568.3,362.7 569.0,362.5 570.0,361.1 570.7,361.5 571.3,360.9 572.0,360.7 572.7,360.8 573.3,360.9 574.0,360.0 574.7,360.4 575.3,359.8 576.0,359.3 576.7,360.3 577.3,361.1 578.0,361.4 578.6,361.5 579.2,361.5 579.8,361.5 580.4,361.9 581.0,361.4 581.6,361.7 582.2,362.0 582.8,362.0 583.4,362.3 584.0,362.1 584.6,362.4 585.2,362.5 585.8,363.6 586.4,363.2 587.0,363.2 587.6,363.3 588.2,363.8 588.8,364.0 589.4,363.6 590.0,363.6 590.6,364.0 591.2,363.9 591.8,364.1 592.4,363.8 593.0,363.9 593.6,364.0 594.2,365.0 594.8,365.0 595.4,364.7 596.0,364.6 596.6,364.7 597.2,364.1 597.8,364.3 598.4,363.7 599.0,363.2 599.7,363.8 600.3,363.5 601.0,362.9 601.7,363.8 602.3,364.3 603.0,363.9 603.6,364.1 604.2,364.1 604.8,364.2 605.4,364.3 606.0,364.3 606.7,364.3 607.3,364.3 608.0,364.6 608.7,364.9 609.3,364.5 610.0,364.3 610.7,365.0 611.3,365.0 612.0,364.3 612.7,364.7 613.3,364.5 614.0,364.3 614.7,364.6 615.3,365.5 616.0,365.0 616.7,364.9 617.3,364.9 618.0,364.7 618.7,364.8 619.3,364.3 620.0,363.6 620.6,363.7 621.2,363.6 621.8,363.2 622.4,363.8 623.0,362.9 623.6,363.8 624.2,363.3 624.8,363.3 625.4,363.6 626.0,363.6 626.6,363.4 627.2,363.5 627.9,363.2 628.5,362.1 629.1,363.2 629.8,363.0 630.4,364.0 631.0,363.9 631.6,363.8 632.2,363.1 632.9,362.8 633.5,361.4 634.1,361.8 634.8,362.2 635.4,363.0 636.0,362.9 636.6,363.9 637.2,363.9 637.8,363.9 638.4,364.4 639.0,364.3 639.6,365.0 640.2,364.6 640.8,364.9 641.4,365.0 642.0,365.0 642.6,365.0 643.2,365.1 643.8,364.8 644.4,364.8 645.0,364.6 645.6,364.6 646.2,365.0 646.8,364.6 647.4,365.1 648.0,364.6" fill="none" stroke="#000" stroke-width="1.1" stroke-linejoin="round"/><polyline points="648.0,368.2 647.4,368.1 646.8,368.0 646.1,367.7 645.5,367.3 644.9,367.6 644.2,367.6 643.6,367.2 643.0,367.9 642.4,367.7 641.8,367.3 641.2,367.4 640.6,367.0 640.0,367.1 639.4,367.0 638.8,367.5 638.2,367.4 637.6,367.2 637.0,368.2 636.4,367.9 635.8,368.5 635.2,368.1 634.6,368.0 634.0,368.9 633.3,368.7 632.7,368.4 632.0,368.2 631.3,368.2 630.7,368.2 630.0,368.1 629.3,368.3 628.7,368.5 628.0,368.6 627.3,368.3 626.7,368.0 626.0,368.3 625.3,368.2 624.7,368.3 624.0,368.2 623.3,368.1 622.7,367.9 622.0,367.9 621.3,368.0 620.7,367.3 620.0,367.9 619.3,367.4 618.7,367.6 618.0,367.5 617.3,367.5 616.7,367.8 616.0,367.9 615.3,367.4 614.7,367.7 614.0,367.5 613.3,367.9 612.7,367.8 612.0,368.2 611.3,368.2 610.7,367.6 610.0,368.2 609.3,368.2 608.7,367.6 608.0,368.4 607.3,368.1 606.7,368.0 606.0,368.2 605.3,368.2 604.7,367.8 604.0,368.2 603.4,367.9 602.8,368.4 602.2,368.5 601.6,368.7 601.0,368.9 600.4,368.6 599.8,368.6 599.2,368.7 598.6,368.6 598.0,368.6 597.4,368.0 596.8,367.6 596.2,366.9 595.6,367.1 595.0,367.1 594.4,367.1 593.8,366.7 593.2,366.9 592.6,367.4 592.0,367.5 591.4,367.0 590.8,367.6 590.2,367.0 589.6,367.5 589.0,367.9 588.4,367.7 587.8,367.6 587.2,368.1 586.6,367.9 586.0,368.2 585.4,367.9 584.8,367.9 584.2,368.1 583.6,368.3 583.0,368.9 582.4,368.3 581.8,369.0 581.2,368.6 580.6,369.4 580.0,369.6 579.4,369.6 578.8,369.2 578.2,369.3 577.6,369.7 577.0,370.0 576.4,369.7 575.8,370.3 575.2,369.9 574.6,369.9 574.0,370.7 573.4,370.5 572.8,369.9 572.2,370.3 571.6,370.0 571.0,370.0 570.3,369.9 569.7,369.4 569.0,369.6 568.3,369.3 567.7,370.3 567.0,370.7 566.3,370.7 565.7,370.4 565.0,371.1 564.4,370.4 563.8,370.8 563.2,370.5 562.6,370.1 562.0,370.4 561.4,370.0 560.8,369.9 560.2,369.3 559.6,369.2 559.0,369.3 558.4,368.5 557.8,369.0 557.2,368.5 556.6,368.6 556.0,368.6 555.3,369.1 554.7,369.3 554.0,370.0 553.4,369.9 552.8,370.1 552.2,370.2 551.6,370.3 551.0,370.4 550.3,370.1 549.7,369.4 549.0,369.6 548.4,369.0 547.8,368.6 547.2,369.1 546.6,369.0 546.0,368.9 545.3,368.5 544.7,368.6 544.0,368.1 543.3,368.6 542.7,368.2 542.0,368.6 541.3,368.2 540.7,368.5 540.0,368.6 539.3,368.4 538.7,368.4 538.0,368.9 537.3,368.9 536.7,368.8 536.0,368.9 535.3,368.3 534.7,368.2 534.0,368.9 533.3,368.3 532.7,368.1 532.0,368.5 531.3,368.6 530.7,368.2 530.0,368.6 529.4,369.0 528.8,369.4 528.1,369.8 527.5,370.4 526.8,369.8 526.0,369.3 525.4,369.0 524.8,368.6 524.2,368.5 523.6,368.1 523.0,368.2 522.4,368.1 521.8,367.7 521.2,367.9 520.6,367.4 520.0,368.0 519.3,367.9 518.7,367.9 518.0,367.8 517.3,367.8 516.7,367.6 516.0,367.9 515.3,367.5 514.7,367.7 514.0,367.4 513.3,367.8 512.7,367.6 512.0,367.9 511.3,367.7 510.7,368.0 510.0,367.4 509.3,368.0 508.7,367.8 508.0,368.2 507.3,368.1 506.7,368.0 506.0,367.8 505.3,367.5 504.7,368.1 504.0,368.2 503.3,367.7 502.7,368.2 502.0,368.0 501.3,368.1 500.7,367.9 500.0,368.2 499.3,367.5 498.7,368.1 498.0,367.4 497.3,368.0 496.7,367.7 496.0,368.2 495.4,368.2 494.8,368.4 494.2,368.0 493.6,368.1 493.0,368.9 492.4,368.7 491.8,368.9 491.2,368.3 490.6,368.8 490.0,368.9 489.4,368.7 488.8,368.0 488.2,368.3 487.6,367.9 487.0,367.9 486.4,367.6 485.8,368.2 485.2,368.2 484.6,368.3 484.0,368.6 483.4,368.4 482.8,368.2 482.2,368.0 481.6,367.4 481.0,367.9 480.4,367.9 479.8,368.0 479.2,367.9 478.6,367.9 478.0,368.2 477.4,368.0 476.8,368.4 476.2,368.3 475.6,368.6 475.0,368.9 474.4,368.2 473.8,369.0 473.2,369.0 472.6,369.2 472.0,369.4 471.3,369.2 470.7,368.6 470.0,369.1 469.4,368.8 468.8,368.3 468.2,368.7 467.6,368.7 467.0,368.7 466.4,368.1 465.8,368.3 465.2,368.3 464.6,367.6 464.0,368.2 463.4,367.8 462.8,367.1 462.2,367.3 461.6,367.4 461.0,367.4 460.4,367.1 459.8,367.2 459.2,368.0 458.6,367.8 458.0,368.7 457.4,368.2 456.8,369.1 456.2,369.1 455.6,369.0 455.0,369.6 454.4,369.4 453.8,368.8 453.2,369.2 452.6,368.9 452.0,369.6 451.3,369.7 450.7,369.7 450.0,370.0 449.3,370.8 448.7,371.9 448.0,373.1 447.3,373.2 446.7,373.3 446.0,374.5 445.3,374.5 444.7,374.4 444.0,374.5 443.3,374.3 442.7,374.0 442.0,374.0 441.3,373.1 440.7,373.1 440.0,372.9 439.3,372.1 438.7,372.4 438.0,372.2 437.3,372.4 436.7,372.0 436.0,372.8 435.3,371.6 434.7,370.7 434.0,370.5 433.2,369.2 432.5,368.5 431.8,370.9 431.0,373.5 430.0,373.6 429.0,370.9 428.3,370.0 427.7,369.1 427.0,368.2 426.3,367.3 425.7,367.4 425.0,367.1 424.4,367.0 423.8,366.8 423.2,366.6 422.6,366.1 422.0,366.8 421.4,366.8 420.8,366.9 420.2,367.5 419.6,367.6 419.0,368.2 418.4,367.9 417.8,368.1 417.2,367.8 416.6,367.8 416.0,368.2 415.4,367.4 414.8,367.8 414.2,367.8 413.6,367.2 413.0,367.5 412.4,367.2 411.8,366.7 411.2,366.9 410.6,366.9 410.0,366.8 409.4,366.5 408.8,366.1 408.2,366.8 407.6,366.7 407.0,367.1 406.4,366.8 405.8,367.2 405.2,367.3 404.6,367.1 404.0,367.5 403.4,367.1 402.8,367.2 402.2,367.2 401.6,367.0 401.0,367.1 400.4,366.5 399.8,366.5 399.2,366.7 398.6,367.0 398.0,367.5 397.4,366.7 396.8,367.3 396.2,367.0 395.6,366.6 395.0,367.1 394.3,366.2 393.7,366.8 393.0,366.8 392.3,366.7 391.7,366.2 391.0,366.8 390.4,366.3 389.8,366.2 389.2,365.3 388.6,365.5 388.0,365.7 387.3,365.3 386.7,365.2 386.0,364.6 385.3,364.6 384.7,364.8 384.0,365.0 383.3,364.6 382.7,364.7 382.0,364.7 381.3,364.8 380.7,364.5 380.0,364.8 379.4,364.3 378.8,363.9 378.2,364.3 377.6,364.0 377.0,364.3 376.4,364.3 375.8,364.5 375.2,364.4 374.6,364.7 374.0,365.2 373.3,365.2 372.7,365.0 372.0,366.1 371.3,366.1 370.7,366.2 370.0,367.0 369.3,366.6 368.7,367.3 368.0,367.9 367.3,367.9 366.7,368.5 366.0,368.8 365.3,368.9 364.7,368.4 364.0,369.2 363.3,369.3 362.7,369.7 362.0,370.1 361.3,369.6 360.7,370.1 360.0,371.0 359.3,370.1 358.7,370.3 358.0,370.1 357.3,369.6 356.7,370.4 356.0,370.6 355.3,370.9 354.7,371.5 354.0,372.5 353.3,372.3 352.7,372.0 352.0,372.0 351.3,371.2 350.7,370.2 350.0,369.7 349.3,369.5 348.7,369.3 348.0,370.0 347.3,369.5 346.7,370.1 346.0,370.3 345.3,370.2 344.7,370.2 344.0,370.7 343.3,370.6 342.7,370.8 342.0,371.0 341.3,370.7 340.7,371.2 340.0,371.7 339.3,371.6 338.7,371.7 338.0,372.0 337.3,372.0 336.7,372.0 336.0,373.0 335.3,372.2 334.7,372.3 334.0,372.3 333.3,371.6 332.7,370.9 332.0,371.3 331.3,371.4 330.7,371.6 330.0,372.3 329.3,371.2 328.7,371.2 328.0,370.7 327.3,370.2 326.7,371.1 326.0,371.3 325.3,371.2 324.7,372.0 324.0,373.0 323.3,372.5 322.7,372.9 322.0,373.3 321.3,372.8 320.7,372.8 320.0,373.3 319.3,372.8 318.7,373.0 318.0,373.3 317.0,372.5 316.3,372.1 315.7,372.3 315.0,373.2 314.3,373.9 313.7,374.9 313.0,376.4 312.3,375.2 311.7,374.1 311.0,373.2 310.3,373.3 309.7,373.0 309.0,373.6 308.3,373.2 307.7,374.3 307.0,374.8 306.3,373.8 305.7,372.4 305.0,372.0 304.3,371.0 303.7,370.2 303.0,369.6 302.2,371.0 301.5,372.4 300.8,373.8 300.0,375.6 299.0,374.4 298.0,378.0 297.0,380.8 296.0,381.2 295.0,376.4 294.0,369.6 293.3,369.2 292.7,370.1 292.0,370.4 291.3,371.3 290.7,371.7 290.0,373.2 289.3,372.5 288.7,371.3 288.0,371.6 287.3,370.9 286.7,370.3 286.0,370.0 285.3,369.9 284.7,370.4 284.0,370.8 283.3,369.2 282.7,368.8 282.0,368.0 281.3,368.3 280.7,368.2 280.0,368.8 279.3,368.3 278.7,367.8 278.0,367.8 277.3,367.8 276.7,368.0 276.0,368.2 275.4,367.9 274.8,367.7 274.2,367.4 273.6,367.3 273.0,367.5 272.4,367.4 271.8,367.3 271.2,367.8 270.6,367.6 270.0,368.2 269.3,367.9 268.7,367.8 268.0,367.6 267.3,367.9 266.7,368.2 266.0,368.2 265.3,368.1 264.7,368.1 264.0,368.0 263.3,368.1 262.7,368.2 262.0,368.2 261.3,368.2 260.7,368.3 260.0,368.1 259.3,368.2 258.7,368.4 258.0,368.6 257.3,368.2 256.7,367.7 256.0,368.0 255.3,368.3 254.7,367.8 254.0,368.2 253.3,368.0 252.7,368.0 252.0,367.3 251.3,367.8 250.7,367.6 250.0,367.9 249.3,367.8 248.7,367.5 248.0,367.2 247.3,367.6 246.7,367.8 246.0,367.9 245.3,367.5 244.7,367.8 244.0,367.5 243.3,367.9 242.7,367.2 242.0,367.9 241.3,367.3 240.7,367.4 240.0,367.6 239.3,367.4 238.7,367.6 238.0,368.2 237.3,367.4 236.7,368.1 236.0,368.0 235.3,367.7 234.7,367.7 234.0,367.9 233.3,368.0 232.7,367.7 232.0,367.9 231.3,367.8 230.7,368.0 230.0,368.3 229.3,368.4 228.7,368.0 228.0,368.9 227.4,368.1 226.8,368.5 226.2,368.7 225.6,368.0 225.0,368.6 224.4,367.8 223.8,367.5 223.2,367.4 222.6,366.9 222.0,367.5 221.4,367.1 220.8,367.1 220.2,367.0 219.6,366.8 219.0,366.8 218.4,366.3 217.8,366.2 217.2,366.8 216.6,366.7 216.0,367.1 215.4,366.6 214.8,367.0 214.2,367.1 213.6,366.7 213.0,367.5 212.4,366.9 211.8,367.4 211.2,367.0 210.6,367.2 210.0,367.5 209.4,367.5 208.8,366.9 208.2,367.1 207.6,367.5 207.0,367.5 206.4,367.3 205.8,367.5 205.2,367.4 204.6,367.2 204.0,367.5 203.4,367.1 202.8,367.3 202.2,367.3 201.6,366.7 201.0,367.1 200.4,366.4 199.8,367.0 199.2,366.6 198.6,366.7 198.0,367.0 197.4,366.6 196.8,366.5 196.2,366.9 195.6,366.8 195.0,366.8 194.4,366.3 193.8,366.8 193.2,366.8 192.6,366.2 192.0,366.8 191.4,366.7 190.8,366.8 190.2,366.7 189.6,366.7 189.0,366.8 188.4,366.3 187.8,367.2 187.2,367.1 186.6,367.4 186.0,367.9 185.4,367.7 184.8,367.7 184.2,367.3 183.6,367.5 183.0,368.2 182.4,368.1 181.8,367.6 181.2,367.9 180.6,367.6 180.0,368.0 179.4,367.9 178.8,367.4 178.2,367.5 177.6,367.7 177.0,368.2 176.3,368.6 175.7,368.8 175.0,369.6 174.3,369.5 173.7,369.6 173.0,370.1 172.3,370.1 171.7,369.7 171.0,370.0 170.3,369.7 169.7,369.7 169.0,369.6 168.3,368.9 167.7,367.9 167.0,367.9 166.4,367.8 165.8,367.8 165.2,367.2 164.6,367.6 164.0,367.9 163.4,367.3 162.8,368.2 162.2,368.0 161.6,367.8 161.0,368.6 160.4,367.8 159.8,368.2 159.2,367.6 158.6,368.0 158.0,367.9 157.4,367.5 156.8,367.8 156.2,367.6 155.6,368.1 155.0,368.2 154.4,368.4 153.8,368.4 153.1,368.4 152.5,369.3 151.9,368.5 151.2,368.4 150.6,368.4 150.0,368.2 149.3,367.7 148.7,367.0 148.0,367.1 147.4,366.5 146.8,367.1 146.2,367.1 145.6,367.0 145.0,367.1 144.4,366.6 143.8,366.7 143.2,367.7 142.6,367.9 142.0,368.2 141.4,367.8 140.8,368.4 140.2,367.6 139.6,368.4 139.0,368.9 138.4,368.5 137.8,367.9 137.2,367.1 136.6,367.8 136.0,367.5 135.4,367.5 134.8,367.4 134.2,366.9 133.6,367.8 133.0,367.9 132.4,366.9 131.8,368.0 131.2,367.6 130.6,368.4 130.0,368.6 129.0,368.1 128.3,366.8 127.7,367.4 127.0,367.4 126.4,367.4 125.8,366.3 125.2,366.2 124.6,366.2 124.0,367.4 123.4,367.3 122.8,367.6 122.2,367.7 121.6,367.8 121.0,368.1 120.4,367.7 119.8,368.0 119.2,367.4 118.6,367.1 118.0,368.1 117.4,368.3 116.8,367.3 116.2,368.7 115.6,367.9 115.0,369.1 114.3,368.7 113.7,368.2 113.0,368.4 112.3,368.7 111.7,368.9 111.0,369.5 110.3,368.3 109.7,368.9 109.0,368.8 108.3,368.9 107.7,368.7 107.0,369.2 106.3,368.6 105.7,367.4 105.0,367.9 104.3,368.0 103.7,367.7 103.0,368.3 102.2,368.1 101.5,369.4 100.8,368.8 100.0,368.3 99.3,367.9 98.7,367.6 98.0,367.4 97.3,366.8 96.7,366.9 96.0,367.0 95.3,366.6 94.7,367.4 94.0,367.9 93.4,367.7 92.8,367.7 92.2,367.5 91.6,367.5 91.0,368.3 90.4,368.2 89.8,367.9 89.2,368.0 88.6,367.3 88.0,367.9 87.0,367.0 86.3,366.5 85.7,366.3 85.0,366.8 84.3,366.8 83.7,366.3 83.0,367.0 82.3,366.9 81.7,366.8 81.0,366.8" fill="none" stroke="#000" stroke-width="1.1" stroke-linejoin="round"/><text x="81.30" y="22.20" font-size="21.8" textLength="107.06" lengthAdjust="spacingAndGlyphs">2025/09/18</text><text x="234.70" y="22.20" font-size="21.3" textLength="188.60" lengthAdjust="spacingAndGlyphs">AE(11) (Real-Time)</text><text x="479.50" y="22.00" font-size="10.6" textLength="167.60" lengthAdjust="spacingAndGlyphs">WDC for Geomagnetism, Kyoto</text><text x="10.60" y="70.00" font-size="22" textLength="31.72" lengthAdjust="spacingAndGlyphs">AU</text><text x="10.60" y="121.00" font-size="22" textLength="27.85" lengthAdjust="spacingAndGlyphs">AL</text><text x="10.60" y="346.00" font-size="22" textLength="29.10" lengthAdjust="spacingAndGlyphs">AE</text><text x="10.60" y="388.40" font-size="22" textLength="32.37" lengthAdjust="spacingAndGlyphs">AO</text><text x="478.70" y="443.90" font-size="10.5" textLength="171.09" lengthAdjust="spacingAndGlyphs">[Created at 2025-10-02 00:22UT]</text><text x="74.80" y="31.20" font-size="11.3" text-anchor="end" textLength="29.20" lengthAdjust="spacingAndGlyphs">1000</text><text x="74.80" y="59.20" font-size="11.3" text-anchor="end" textLength="21.90" lengthAdjust="spacingAndGlyphs">500</text><text x="74.80" y="88.20" font-size="11.3" text-anchor="end" textLength="7.30" lengthAdjust="spacingAndGlyphs">0</text><text x="74.80" y="116.20" font-size="11.3" text-anchor="end" textLength="29.10" lengthAdjust="spacingAndGlyphs">- 500</text><text x="74.80" y="144.20" font-size="11.3" text-anchor="end" textLength="36.40" lengthAdjust="spacingAndGlyphs">- 1000</text><text x="74.80" y="173.20" font-size="11.3" text-anchor="end" textLength="36.40" lengthAdjust="spacingAndGlyphs">- 1500</text><text x="74.80" y="201.20" font-size="11.3" text-anchor="end" textLength="36.40" lengthAdjust="spacingAndGlyphs">- 2000</text><text x="74.80" y="258.40" font-size="11.3" text-anchor="end" textLength="29.20" lengthAdjust="spacingAndGlyphs">2000</text><text x="74.80" y="286.40" font-size="11.3" text-anchor="end" textLength="29.20" lengthAdjust="spacingAndGlyphs">1500</text><text x="74.80" y="314.40" font-size="11.3" text-anchor="end" textLength="29.20" lengthAdjust="spacingAndGlyphs">1000</text><text x="74.80" y="343.40" font-size="11.3" text-anchor="end" textLength="21.90" lengthAdjust="spacingAndGlyphs">500</text><text x="74.80" y="371.40" font-size="11.3" text-anchor="end" textLength="7.30" lengthAdjust="spacingAndGlyphs">0</text><text x="74.80" y="399.40" font-size="11.3" text-anchor="end" textLength="29.10" lengthAdjust="spacingAndGlyphs">- 500</text><text x="52.20" y="42.60" font-size="10.3" textLength="22.94" lengthAdjust="spacingAndGlyphs">(nT)</text><text x="52.80" y="269.90" font-size="10.3" textLength="22.94" lengthAdjust="spacingAndGlyphs">(nT)</text><text x="80.80" y="208.10" font-size="11.3" text-anchor="middle" textLength="14.20" lengthAdjust="spacingAndGlyphs">00</text><text x="222.80" y="208.10" font-size="11.3" text-anchor="middle" textLength="14.20" lengthAdjust="spacingAndGlyphs">06</text><text x="364.80" y="208.10" font-size="11.3" text-anchor="middle" textLength="14.20" lengthAdjust="spacingAndGlyphs">12</text><text x="505.80" y="208.10" font-size="11.3" text-anchor="middle" textLength="14.20" lengthAdjust="spacingAndGlyphs">18</text><text x="647.80" y="208.10" font-size="11.3" text-anchor="middle" textLength="14.20" lengthAdjust="spacingAndGlyphs">24</text><text x="80.80" y="406.80" font-size="11.3" text-anchor="middle" textLength="14.20" lengthAdjust="spacingAndGlyphs">00</text><text x="222.80" y="406.80" font-size="11.3" text-anchor="middle" textLength="14.20" lengthAdjust="spacingAndGlyphs">06</text><text x="364.80" y="406.80" font-size="11.3" text-anchor="middle" textLength="14.20" lengthAdjust="spacingAndGlyphs">12</text><text x="505.80" y="406.80" font-size="11.3" text-anchor="middle" textLength="14.20" lengthAdjust="spacingAndGlyphs">18</text><text x="647.80" y="406.80" font-size="11.3" text-anchor="middle" textLength="14.20" lengthAdjust="spacingAndGlyphs">24</text><text x="353.10" y="221.90" font-size="14" textLength="23.98" lengthAdjust="spacingAndGlyphs">U T</text><text x="353.00" y="420.60" font-size="14" textLength="23.38" lengthAdjust="spacingAndGlyphs">U T</text><rect x="81" y="234" width="167" height="7" fill="#c87800"/><rect x="247" y="234" width="402" height="7" fill="#c81800"/><rect x="82" y="235" width="165" height="5" fill="#ff9900"/><rect x="247" y="235" width="401" height="5" fill="#ff2200"/><rect x="372.3" y="235" width="1.4" height="5" fill="#ff8c00"/><text x="669.50" y="65.00" font-size="10.5" text-anchor="end" textLength="13.90" lengthAdjust="spacingAndGlyphs" fill="#ff108c">12</text><text x="669.50" y="77.04" font-size="10.5" text-anchor="end" textLength="13.90" lengthAdjust="spacingAndGlyphs" fill="#ff2000">11</text><text x="669.50" y="89.08" font-size="10.5" text-anchor="end" textLength="13.90" lengthAdjust="spacingAndGlyphs" fill="#ff8c00">10</text><text x="669.50" y="101.12" font-size="10.5" text-anchor="end" fill="#ffe800">9</text><text x="669.50" y="113.16" font-size="10.5" text-anchor="end" fill="#99ff00">8</text><text x="669.50" y="125.20" font-size="10.5" text-anchor="end" fill="#00ffcc">7</text><text x="669.50" y="137.24" font-size="10.5" text-anchor="end" fill="#0080ff">6</text><text x="669.50" y="149.28" font-size="10.5" text-anchor="end" fill="#3000ff">5</text><text x="669.50" y="161.32" font-size="10.5" text-anchor="end" fill="#ff00ff">4</text><text x="669.50" y="173.36" font-size="10.5" text-anchor="end" fill="#000000">3</text><text x="669.50" y="185.40" font-size="10.5" text-anchor="end" fill="#666666">2</text><text x="669.50" y="197.44" font-size="10.5" text-anchor="end" fill="#cccccc">1</text><text x="669.50" y="263.10" font-size="10.5" text-anchor="end" textLength="13.90" lengthAdjust="spacingAndGlyphs" fill="#ff108c">12</text><text x="669.50" y="275.14" font-size="10.5" text-anchor="end" textLength="13.90" lengthAdjust="spacingAndGlyphs" fill="#ff2000">11</text><text x="669.50" y="287.18" font-size="10.5" text-anchor="end" textLength="13.90" lengthAdjust="spacingAndGlyphs" fill="#ff8c00">10</text><text x="669.50" y="299.22" font-size="10.5" text-anchor="end" fill="#ffe800">9</text><text x="669.50" y="311.26" font-size="10.5" text-anchor="end" fill="#99ff00">8</text><text x="669.50" y="323.30" font-size="10.5" text-anchor="end" fill="#00ffcc">7</text><text x="669.50" y="335.34" font-size="10.5" text-anchor="end" fill="#0080ff">6</text><text x="669.50" y="347.38" font-size="10.5" text-anchor="end" fill="#3000ff">5</text><text x="669.50" y="359.42" font-size="10.5" text-anchor="end" fill="#ff00ff">4</text><text x="669.50" y="371.46" font-size="10.5" text-anchor="end" fill="#000000">3</text><text x="669.50" y="383.50" font-size="10.5" text-anchor="end" fill="#666666">2</text><text x="669.50" y="395.54" font-size="10.5" text-anchor="end" fill="#cccccc">1</text></svg></body></html>
